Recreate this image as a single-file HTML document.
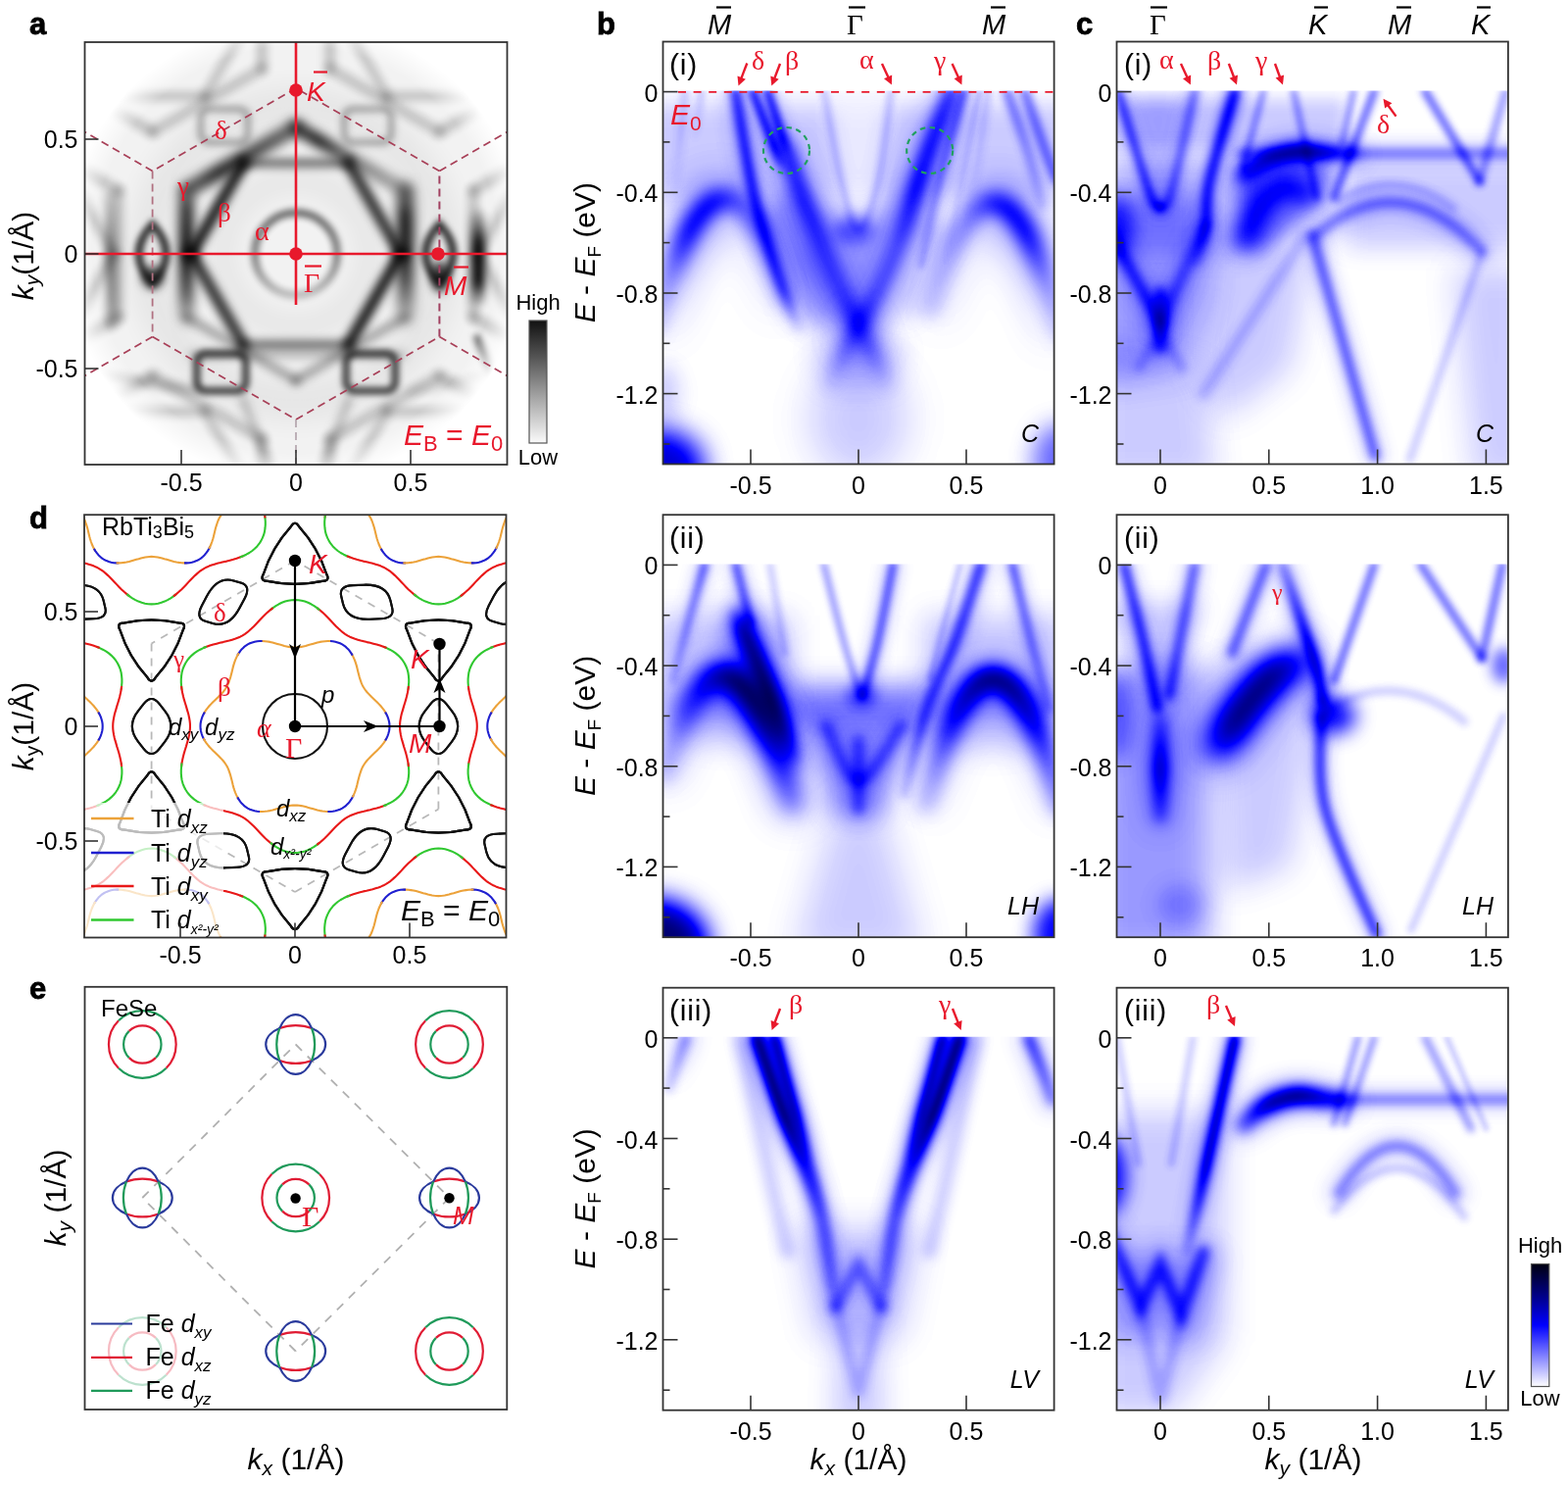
<!DOCTYPE html><html><head><meta charset="utf-8"><style>html,body{margin:0;padding:0;background:#fff;overflow:hidden}svg{display:block}</style></head><body><svg width="1600" height="1515" viewBox="0 0 1600 1515" font-family="'Liberation Sans', Arial, sans-serif"><defs><filter id="cmapBlue" color-interpolation-filters="sRGB" filterUnits="userSpaceOnUse" x="0" y="0" width="1600" height="1515"><feComponentTransfer><feFuncR type="table" tableValues="0 0 1"/><feFuncG type="table" tableValues="0 0 1"/><feFuncB type="table" tableValues="0.05 1 1"/></feComponentTransfer></filter><filter id="g2_5" filterUnits="userSpaceOnUse" x="0" y="0" width="1600" height="1515"><feGaussianBlur stdDeviation="2.5"/></filter><filter id="g3_0" filterUnits="userSpaceOnUse" x="0" y="0" width="1600" height="1515"><feGaussianBlur stdDeviation="3.0"/></filter><filter id="g3_5" filterUnits="userSpaceOnUse" x="0" y="0" width="1600" height="1515"><feGaussianBlur stdDeviation="3.5"/></filter><filter id="g4_0" filterUnits="userSpaceOnUse" x="0" y="0" width="1600" height="1515"><feGaussianBlur stdDeviation="4.0"/></filter><filter id="g4_5" filterUnits="userSpaceOnUse" x="0" y="0" width="1600" height="1515"><feGaussianBlur stdDeviation="4.5"/></filter><filter id="g5_0" filterUnits="userSpaceOnUse" x="0" y="0" width="1600" height="1515"><feGaussianBlur stdDeviation="5.0"/></filter><filter id="g5_5" filterUnits="userSpaceOnUse" x="0" y="0" width="1600" height="1515"><feGaussianBlur stdDeviation="5.5"/></filter><filter id="g6_0" filterUnits="userSpaceOnUse" x="0" y="0" width="1600" height="1515"><feGaussianBlur stdDeviation="6.0"/></filter><filter id="g6_5" filterUnits="userSpaceOnUse" x="0" y="0" width="1600" height="1515"><feGaussianBlur stdDeviation="6.5"/></filter><filter id="g7_0" filterUnits="userSpaceOnUse" x="0" y="0" width="1600" height="1515"><feGaussianBlur stdDeviation="7.0"/></filter><filter id="g8_0" filterUnits="userSpaceOnUse" x="0" y="0" width="1600" height="1515"><feGaussianBlur stdDeviation="8.0"/></filter><filter id="g8_5" filterUnits="userSpaceOnUse" x="0" y="0" width="1600" height="1515"><feGaussianBlur stdDeviation="8.5"/></filter><filter id="g9_0" filterUnits="userSpaceOnUse" x="0" y="0" width="1600" height="1515"><feGaussianBlur stdDeviation="9.0"/></filter><filter id="g9_5" filterUnits="userSpaceOnUse" x="0" y="0" width="1600" height="1515"><feGaussianBlur stdDeviation="9.5"/></filter><filter id="g10_0" filterUnits="userSpaceOnUse" x="0" y="0" width="1600" height="1515"><feGaussianBlur stdDeviation="10.0"/></filter><filter id="g10_5" filterUnits="userSpaceOnUse" x="0" y="0" width="1600" height="1515"><feGaussianBlur stdDeviation="10.5"/></filter><filter id="g11_0" filterUnits="userSpaceOnUse" x="0" y="0" width="1600" height="1515"><feGaussianBlur stdDeviation="11.0"/></filter><filter id="g12_0" filterUnits="userSpaceOnUse" x="0" y="0" width="1600" height="1515"><feGaussianBlur stdDeviation="12.0"/></filter><filter id="g12_5" filterUnits="userSpaceOnUse" x="0" y="0" width="1600" height="1515"><feGaussianBlur stdDeviation="12.5"/></filter><filter id="g13_0" filterUnits="userSpaceOnUse" x="0" y="0" width="1600" height="1515"><feGaussianBlur stdDeviation="13.0"/></filter><filter id="g14_0" filterUnits="userSpaceOnUse" x="0" y="0" width="1600" height="1515"><feGaussianBlur stdDeviation="14.0"/></filter><filter id="g15_0" filterUnits="userSpaceOnUse" x="0" y="0" width="1600" height="1515"><feGaussianBlur stdDeviation="15.0"/></filter><filter id="g16_0" filterUnits="userSpaceOnUse" x="0" y="0" width="1600" height="1515"><feGaussianBlur stdDeviation="16.0"/></filter><filter id="g16_5" filterUnits="userSpaceOnUse" x="0" y="0" width="1600" height="1515"><feGaussianBlur stdDeviation="16.5"/></filter><filter id="g18_0" filterUnits="userSpaceOnUse" x="0" y="0" width="1600" height="1515"><feGaussianBlur stdDeviation="18.0"/></filter><filter id="g18_5" filterUnits="userSpaceOnUse" x="0" y="0" width="1600" height="1515"><feGaussianBlur stdDeviation="18.5"/></filter><filter id="g20_0" filterUnits="userSpaceOnUse" x="0" y="0" width="1600" height="1515"><feGaussianBlur stdDeviation="20.0"/></filter><filter id="g24_0" filterUnits="userSpaceOnUse" x="0" y="0" width="1600" height="1515"><feGaussianBlur stdDeviation="24.0"/></filter><linearGradient id="lg0" gradientUnits="userSpaceOnUse" x1="698.9" y1="93.6" x2="686.8" y2="209.1"><stop offset="0" stop-color="#000" stop-opacity="0.1"/><stop offset="1" stop-color="#000" stop-opacity="0"/></linearGradient><linearGradient id="lg1" gradientUnits="userSpaceOnUse" x1="715.6" y1="93.6" x2="708.8" y2="144.9"><stop offset="0" stop-color="#000" stop-opacity="0.1"/><stop offset="1" stop-color="#000" stop-opacity="0"/></linearGradient><linearGradient id="lg2" gradientUnits="userSpaceOnUse" x1="750.6" y1="93.6" x2="816.6" y2="342.6"><stop offset="0" stop-color="#000" stop-opacity="0.1"/><stop offset="0.4" stop-color="#000" stop-opacity="0.1"/><stop offset="0.8" stop-color="#000" stop-opacity="0.1"/><stop offset="1" stop-color="#000" stop-opacity="0"/></linearGradient><linearGradient id="lg3" gradientUnits="userSpaceOnUse" x1="750.6" y1="93.6" x2="816.6" y2="342.6"><stop offset="0" stop-color="#000" stop-opacity="0.4"/><stop offset="0.4" stop-color="#000" stop-opacity="0.4"/><stop offset="0.8" stop-color="#000" stop-opacity="0.3"/><stop offset="1" stop-color="#000" stop-opacity="0"/></linearGradient><linearGradient id="lg4" gradientUnits="userSpaceOnUse" x1="768.2" y1="93.6" x2="799" y2="175.7"><stop offset="0" stop-color="#000" stop-opacity="0.1"/><stop offset="0.7" stop-color="#000" stop-opacity="0.1"/><stop offset="1" stop-color="#000" stop-opacity="0"/></linearGradient><linearGradient id="lg5" gradientUnits="userSpaceOnUse" x1="768.2" y1="93.6" x2="799" y2="175.7"><stop offset="0" stop-color="#000" stop-opacity="0.4"/><stop offset="0.7" stop-color="#000" stop-opacity="0.4"/><stop offset="1" stop-color="#000" stop-opacity="0"/></linearGradient><linearGradient id="lg6" gradientUnits="userSpaceOnUse" x1="783.6" y1="93.6" x2="805.6" y2="160.3"><stop offset="0" stop-color="#000" stop-opacity="0.1"/><stop offset="0.7" stop-color="#000" stop-opacity="0.1"/><stop offset="1" stop-color="#000" stop-opacity="0"/></linearGradient><linearGradient id="lg7" gradientUnits="userSpaceOnUse" x1="783.6" y1="93.6" x2="805.6" y2="160.3"><stop offset="0" stop-color="#000" stop-opacity="0.4"/><stop offset="0.7" stop-color="#000" stop-opacity="0.4"/><stop offset="1" stop-color="#000" stop-opacity="0"/></linearGradient><linearGradient id="lg8" gradientUnits="userSpaceOnUse" x1="794.6" y1="132.1" x2="909" y2="401.6"><stop offset="0" stop-color="#000" stop-opacity="0"/><stop offset="0.1" stop-color="#000" stop-opacity="0.1"/><stop offset="0.3" stop-color="#000" stop-opacity="0.1"/><stop offset="0.5" stop-color="#000" stop-opacity="0.1"/><stop offset="0.7" stop-color="#000" stop-opacity="0.1"/><stop offset="0.8" stop-color="#000" stop-opacity="0.1"/><stop offset="0.9" stop-color="#000" stop-opacity="0"/><stop offset="1" stop-color="#000" stop-opacity="0"/></linearGradient><linearGradient id="lg9" gradientUnits="userSpaceOnUse" x1="794.6" y1="132.1" x2="909" y2="401.6"><stop offset="0" stop-color="#000" stop-opacity="0"/><stop offset="0.1" stop-color="#000" stop-opacity="0.4"/><stop offset="0.3" stop-color="#000" stop-opacity="0.3"/><stop offset="0.5" stop-color="#000" stop-opacity="0.2"/><stop offset="0.7" stop-color="#000" stop-opacity="0.2"/><stop offset="0.8" stop-color="#000" stop-opacity="0.2"/><stop offset="0.9" stop-color="#000" stop-opacity="0.1"/><stop offset="1" stop-color="#000" stop-opacity="0"/></linearGradient><linearGradient id="lg10" gradientUnits="userSpaceOnUse" x1="970.6" y1="93.6" x2="843" y2="401.6"><stop offset="0" stop-color="#000" stop-opacity="0.1"/><stop offset="0.3" stop-color="#000" stop-opacity="0.2"/><stop offset="0.5" stop-color="#000" stop-opacity="0.1"/><stop offset="0.6" stop-color="#000" stop-opacity="0.1"/><stop offset="0.8" stop-color="#000" stop-opacity="0.1"/><stop offset="0.9" stop-color="#000" stop-opacity="0"/><stop offset="1" stop-color="#000" stop-opacity="0"/></linearGradient><linearGradient id="lg11" gradientUnits="userSpaceOnUse" x1="970.6" y1="93.6" x2="843" y2="401.6"><stop offset="0" stop-color="#000" stop-opacity="0.4"/><stop offset="0.3" stop-color="#000" stop-opacity="0.4"/><stop offset="0.5" stop-color="#000" stop-opacity="0.2"/><stop offset="0.6" stop-color="#000" stop-opacity="0.2"/><stop offset="0.8" stop-color="#000" stop-opacity="0.2"/><stop offset="0.9" stop-color="#000" stop-opacity="0.1"/><stop offset="1" stop-color="#000" stop-opacity="0"/></linearGradient><linearGradient id="lg12" gradientUnits="userSpaceOnUse" x1="983.8" y1="93.6" x2="939.8" y2="270.7"><stop offset="0" stop-color="#000" stop-opacity="0.1"/><stop offset="1" stop-color="#000" stop-opacity="0"/></linearGradient><linearGradient id="lg13" gradientUnits="userSpaceOnUse" x1="983.8" y1="93.6" x2="939.8" y2="270.7"><stop offset="0" stop-color="#000" stop-opacity="0.2"/><stop offset="1" stop-color="#000" stop-opacity="0.1"/></linearGradient><linearGradient id="lg14" gradientUnits="userSpaceOnUse" x1="999.2" y1="93.6" x2="964" y2="273.3"><stop offset="0" stop-color="#000" stop-opacity="0.1"/><stop offset="1" stop-color="#000" stop-opacity="0"/></linearGradient><linearGradient id="lg15" gradientUnits="userSpaceOnUse" x1="667" y1="334.1" x2="803.4" y2="304.2"><stop offset="0" stop-color="#000" stop-opacity="0"/><stop offset="0.2" stop-color="#000" stop-opacity="0.1"/><stop offset="0.4" stop-color="#000" stop-opacity="0.2"/><stop offset="0.6" stop-color="#000" stop-opacity="0.2"/><stop offset="0.8" stop-color="#000" stop-opacity="0.1"/><stop offset="1" stop-color="#000" stop-opacity="0"/></linearGradient><linearGradient id="lg16" gradientUnits="userSpaceOnUse" x1="667" y1="334.1" x2="803.4" y2="304.2"><stop offset="0" stop-color="#000" stop-opacity="0.1"/><stop offset="0.2" stop-color="#000" stop-opacity="0.2"/><stop offset="0.4" stop-color="#000" stop-opacity="0.5"/><stop offset="0.6" stop-color="#000" stop-opacity="0.5"/><stop offset="0.8" stop-color="#000" stop-opacity="0.3"/><stop offset="1" stop-color="#000" stop-opacity="0.1"/></linearGradient><linearGradient id="lg17" gradientUnits="userSpaceOnUse" x1="948.6" y1="314.5" x2="1085" y2="341"><stop offset="0" stop-color="#000" stop-opacity="0"/><stop offset="0.2" stop-color="#000" stop-opacity="0.1"/><stop offset="0.4" stop-color="#000" stop-opacity="0.2"/><stop offset="0.6" stop-color="#000" stop-opacity="0.2"/><stop offset="0.8" stop-color="#000" stop-opacity="0.1"/><stop offset="1" stop-color="#000" stop-opacity="0"/></linearGradient><linearGradient id="lg18" gradientUnits="userSpaceOnUse" x1="948.6" y1="314.5" x2="1085" y2="341"><stop offset="0" stop-color="#000" stop-opacity="0.1"/><stop offset="0.2" stop-color="#000" stop-opacity="0.3"/><stop offset="0.4" stop-color="#000" stop-opacity="0.5"/><stop offset="0.6" stop-color="#000" stop-opacity="0.5"/><stop offset="0.8" stop-color="#000" stop-opacity="0.2"/><stop offset="1" stop-color="#000" stop-opacity="0.1"/></linearGradient><linearGradient id="lg19" gradientUnits="userSpaceOnUse" x1="1027.8" y1="93.6" x2="1063" y2="209.1"><stop offset="0" stop-color="#000" stop-opacity="0.3"/><stop offset="1" stop-color="#000" stop-opacity="0.1"/></linearGradient><linearGradient id="lg20" gradientUnits="userSpaceOnUse" x1="1008" y1="93.6" x2="986" y2="221.9"><stop offset="0" stop-color="#000" stop-opacity="0.1"/><stop offset="1" stop-color="#000" stop-opacity="0"/></linearGradient><linearGradient id="lg21" gradientUnits="userSpaceOnUse" x1="718.9" y1="576.4" x2="686.8" y2="694.5"><stop offset="0" stop-color="#000" stop-opacity="0.1"/><stop offset="1" stop-color="#000" stop-opacity="0"/></linearGradient><linearGradient id="lg22" gradientUnits="userSpaceOnUse" x1="718.9" y1="576.4" x2="686.8" y2="694.5"><stop offset="0" stop-color="#000" stop-opacity="0.3"/><stop offset="1" stop-color="#000" stop-opacity="0.1"/></linearGradient><linearGradient id="lg23" gradientUnits="userSpaceOnUse" x1="752.8" y1="627.7" x2="810" y2="771.5"><stop offset="0" stop-color="#000" stop-opacity="0.1"/><stop offset="0.1" stop-color="#000" stop-opacity="0.3"/><stop offset="0.6" stop-color="#000" stop-opacity="0.3"/><stop offset="0.8" stop-color="#000" stop-opacity="0.2"/><stop offset="1" stop-color="#000" stop-opacity="0.1"/></linearGradient><linearGradient id="lg24" gradientUnits="userSpaceOnUse" x1="752.8" y1="627.7" x2="810" y2="771.5"><stop offset="0" stop-color="#000" stop-opacity="0.3"/><stop offset="0.1" stop-color="#000" stop-opacity="0.7"/><stop offset="0.6" stop-color="#000" stop-opacity="0.8"/><stop offset="0.8" stop-color="#000" stop-opacity="0.6"/><stop offset="1" stop-color="#000" stop-opacity="0.2"/></linearGradient><linearGradient id="lg25" gradientUnits="userSpaceOnUse" x1="673.6" y1="787.3" x2="810" y2="819.5"><stop offset="0" stop-color="#000" stop-opacity="0"/><stop offset="0.2" stop-color="#000" stop-opacity="0.2"/><stop offset="0.4" stop-color="#000" stop-opacity="0.3"/><stop offset="0.6" stop-color="#000" stop-opacity="0.3"/><stop offset="0.8" stop-color="#000" stop-opacity="0.2"/><stop offset="1" stop-color="#000" stop-opacity="0.1"/></linearGradient><linearGradient id="lg26" gradientUnits="userSpaceOnUse" x1="673.6" y1="787.3" x2="810" y2="819.5"><stop offset="0" stop-color="#000" stop-opacity="0.1"/><stop offset="0.2" stop-color="#000" stop-opacity="0.6"/><stop offset="0.4" stop-color="#000" stop-opacity="0.9"/><stop offset="0.6" stop-color="#000" stop-opacity="0.8"/><stop offset="0.8" stop-color="#000" stop-opacity="0.5"/><stop offset="1" stop-color="#000" stop-opacity="0.2"/></linearGradient><linearGradient id="lg27" gradientUnits="userSpaceOnUse" x1="942" y1="820.5" x2="1085" y2="823.7"><stop offset="0" stop-color="#000" stop-opacity="0"/><stop offset="0.2" stop-color="#000" stop-opacity="0.1"/><stop offset="0.4" stop-color="#000" stop-opacity="0.2"/><stop offset="0.6" stop-color="#000" stop-opacity="0.2"/><stop offset="0.8" stop-color="#000" stop-opacity="0.1"/><stop offset="1" stop-color="#000" stop-opacity="0"/></linearGradient><linearGradient id="lg28" gradientUnits="userSpaceOnUse" x1="942" y1="820.5" x2="1085" y2="823.7"><stop offset="0" stop-color="#000" stop-opacity="0.1"/><stop offset="0.2" stop-color="#000" stop-opacity="0.5"/><stop offset="0.4" stop-color="#000" stop-opacity="0.8"/><stop offset="0.6" stop-color="#000" stop-opacity="0.8"/><stop offset="0.8" stop-color="#000" stop-opacity="0.5"/><stop offset="1" stop-color="#000" stop-opacity="0.2"/></linearGradient><linearGradient id="lg29" gradientUnits="userSpaceOnUse" x1="1001" y1="576.4" x2="923.1" y2="810"><stop offset="0" stop-color="#000" stop-opacity="0.1"/><stop offset="0.7" stop-color="#000" stop-opacity="0.1"/><stop offset="1" stop-color="#000" stop-opacity="0"/></linearGradient><linearGradient id="lg30" gradientUnits="userSpaceOnUse" x1="1001" y1="576.4" x2="923.1" y2="810"><stop offset="0" stop-color="#000" stop-opacity="0.4"/><stop offset="0.7" stop-color="#000" stop-opacity="0.3"/><stop offset="1" stop-color="#000" stop-opacity="0.1"/></linearGradient><linearGradient id="lg31" gradientUnits="userSpaceOnUse" x1="1033.1" y1="576.4" x2="1070.9" y2="722.7"><stop offset="0" stop-color="#000" stop-opacity="0.1"/><stop offset="1" stop-color="#000" stop-opacity="0.1"/></linearGradient><linearGradient id="lg32" gradientUnits="userSpaceOnUse" x1="1033.1" y1="576.4" x2="1070.9" y2="722.7"><stop offset="0" stop-color="#000" stop-opacity="0.3"/><stop offset="1" stop-color="#000" stop-opacity="0.1"/></linearGradient><linearGradient id="lg33" gradientUnits="userSpaceOnUse" x1="772.6" y1="1058.8" x2="852.9" y2="1333.5"><stop offset="0" stop-color="#000" stop-opacity="0.3"/><stop offset="0.3" stop-color="#000" stop-opacity="0.3"/><stop offset="0.5" stop-color="#000" stop-opacity="0.1"/><stop offset="0.7" stop-color="#000" stop-opacity="0.1"/><stop offset="0.9" stop-color="#000" stop-opacity="0.1"/><stop offset="1" stop-color="#000" stop-opacity="0"/></linearGradient><linearGradient id="lg34" gradientUnits="userSpaceOnUse" x1="772.6" y1="1058.8" x2="852.9" y2="1333.5"><stop offset="0" stop-color="#000" stop-opacity="0.8"/><stop offset="0.3" stop-color="#000" stop-opacity="0.8"/><stop offset="0.5" stop-color="#000" stop-opacity="0.4"/><stop offset="0.7" stop-color="#000" stop-opacity="0.2"/><stop offset="0.9" stop-color="#000" stop-opacity="0.2"/><stop offset="1" stop-color="#000" stop-opacity="0.1"/></linearGradient><linearGradient id="lg35" gradientUnits="userSpaceOnUse" x1="790.2" y1="1058.8" x2="854" y2="1315.5"><stop offset="0" stop-color="#000" stop-opacity="0.2"/><stop offset="0.3" stop-color="#000" stop-opacity="0.2"/><stop offset="0.5" stop-color="#000" stop-opacity="0.1"/><stop offset="1" stop-color="#000" stop-opacity="0"/></linearGradient><linearGradient id="lg36" gradientUnits="userSpaceOnUse" x1="790.2" y1="1058.8" x2="854" y2="1315.5"><stop offset="0" stop-color="#000" stop-opacity="0.7"/><stop offset="0.3" stop-color="#000" stop-opacity="0.6"/><stop offset="0.5" stop-color="#000" stop-opacity="0.3"/><stop offset="1" stop-color="#000" stop-opacity="0"/></linearGradient><linearGradient id="lg37" gradientUnits="userSpaceOnUse" x1="979.4" y1="1058.8" x2="899.1" y2="1333.5"><stop offset="0" stop-color="#000" stop-opacity="0.3"/><stop offset="0.3" stop-color="#000" stop-opacity="0.3"/><stop offset="0.5" stop-color="#000" stop-opacity="0.1"/><stop offset="0.7" stop-color="#000" stop-opacity="0.1"/><stop offset="0.9" stop-color="#000" stop-opacity="0.1"/><stop offset="1" stop-color="#000" stop-opacity="0"/></linearGradient><linearGradient id="lg38" gradientUnits="userSpaceOnUse" x1="979.4" y1="1058.8" x2="899.1" y2="1333.5"><stop offset="0" stop-color="#000" stop-opacity="0.8"/><stop offset="0.3" stop-color="#000" stop-opacity="0.8"/><stop offset="0.5" stop-color="#000" stop-opacity="0.4"/><stop offset="0.7" stop-color="#000" stop-opacity="0.2"/><stop offset="0.9" stop-color="#000" stop-opacity="0.2"/><stop offset="1" stop-color="#000" stop-opacity="0.1"/></linearGradient><linearGradient id="lg39" gradientUnits="userSpaceOnUse" x1="961.8" y1="1058.8" x2="898" y2="1315.5"><stop offset="0" stop-color="#000" stop-opacity="0.2"/><stop offset="0.3" stop-color="#000" stop-opacity="0.2"/><stop offset="0.5" stop-color="#000" stop-opacity="0.1"/><stop offset="1" stop-color="#000" stop-opacity="0"/></linearGradient><linearGradient id="lg40" gradientUnits="userSpaceOnUse" x1="961.8" y1="1058.8" x2="898" y2="1315.5"><stop offset="0" stop-color="#000" stop-opacity="0.7"/><stop offset="0.3" stop-color="#000" stop-opacity="0.6"/><stop offset="0.5" stop-color="#000" stop-opacity="0.3"/><stop offset="1" stop-color="#000" stop-opacity="0"/></linearGradient><linearGradient id="lg41" gradientUnits="userSpaceOnUse" x1="700" y1="1058.8" x2="682.4" y2="1110.1"><stop offset="0" stop-color="#000" stop-opacity="0.1"/><stop offset="1" stop-color="#000" stop-opacity="0"/></linearGradient><linearGradient id="lg42" gradientUnits="userSpaceOnUse" x1="700" y1="1058.8" x2="682.4" y2="1110.1"><stop offset="0" stop-color="#000" stop-opacity="0.2"/><stop offset="1" stop-color="#000" stop-opacity="0.1"/></linearGradient><linearGradient id="lg43" gradientUnits="userSpaceOnUse" x1="1049.8" y1="1058.8" x2="1074" y2="1123"><stop offset="0" stop-color="#000" stop-opacity="0.1"/><stop offset="1" stop-color="#000" stop-opacity="0.1"/></linearGradient><linearGradient id="lg44" gradientUnits="userSpaceOnUse" x1="1049.8" y1="1058.8" x2="1074" y2="1123"><stop offset="0" stop-color="#000" stop-opacity="0.4"/><stop offset="1" stop-color="#000" stop-opacity="0.2"/></linearGradient><linearGradient id="lg45" gradientUnits="userSpaceOnUse" x1="1260" y1="93.6" x2="1221.7" y2="268.2"><stop offset="0" stop-color="#000" stop-opacity="0.2"/><stop offset="0.7" stop-color="#000" stop-opacity="0.1"/><stop offset="1" stop-color="#000" stop-opacity="0"/></linearGradient><linearGradient id="lg46" gradientUnits="userSpaceOnUse" x1="1260" y1="93.6" x2="1221.7" y2="268.2"><stop offset="0" stop-color="#000" stop-opacity="0.5"/><stop offset="0.7" stop-color="#000" stop-opacity="0.4"/><stop offset="1" stop-color="#000" stop-opacity="0.1"/></linearGradient><linearGradient id="lg47" gradientUnits="userSpaceOnUse" x1="1268.2" y1="178.3" x2="1381.2" y2="156.5"><stop offset="0" stop-color="#000" stop-opacity="0.1"/><stop offset="0.3" stop-color="#000" stop-opacity="0.2"/><stop offset="0.6" stop-color="#000" stop-opacity="0.2"/><stop offset="0.8" stop-color="#000" stop-opacity="0.1"/><stop offset="1" stop-color="#000" stop-opacity="0.1"/></linearGradient><linearGradient id="lg48" gradientUnits="userSpaceOnUse" x1="1268.2" y1="178.3" x2="1381.2" y2="156.5"><stop offset="0" stop-color="#000" stop-opacity="0.3"/><stop offset="0.3" stop-color="#000" stop-opacity="0.5"/><stop offset="0.6" stop-color="#000" stop-opacity="0.6"/><stop offset="0.8" stop-color="#000" stop-opacity="0.4"/><stop offset="1" stop-color="#000" stop-opacity="0.2"/></linearGradient><linearGradient id="lg49" gradientUnits="userSpaceOnUse" x1="1268.2" y1="242.5" x2="1343.6" y2="201.4"><stop offset="0" stop-color="#000" stop-opacity="0.1"/><stop offset="0.4" stop-color="#000" stop-opacity="0.1"/><stop offset="0.8" stop-color="#000" stop-opacity="0.1"/><stop offset="1" stop-color="#000" stop-opacity="0.1"/></linearGradient><linearGradient id="lg50" gradientUnits="userSpaceOnUse" x1="1268.2" y1="242.5" x2="1343.6" y2="201.4"><stop offset="0" stop-color="#000" stop-opacity="0.2"/><stop offset="0.4" stop-color="#000" stop-opacity="0.3"/><stop offset="0.8" stop-color="#000" stop-opacity="0.3"/><stop offset="1" stop-color="#000" stop-opacity="0.1"/></linearGradient><linearGradient id="lg51" gradientUnits="userSpaceOnUse" x1="1184" y1="735.6" x2="1184" y2="833.1"><stop offset="0" stop-color="#000" stop-opacity="0.1"/><stop offset="0.5" stop-color="#000" stop-opacity="0.2"/><stop offset="1" stop-color="#000" stop-opacity="0.1"/></linearGradient><linearGradient id="lg52" gradientUnits="userSpaceOnUse" x1="1184" y1="735.6" x2="1184" y2="833.1"><stop offset="0" stop-color="#000" stop-opacity="0.2"/><stop offset="0.5" stop-color="#000" stop-opacity="0.5"/><stop offset="1" stop-color="#000" stop-opacity="0.2"/></linearGradient><linearGradient id="lg53" gradientUnits="userSpaceOnUse" x1="1243.8" y1="761.2" x2="1321.4" y2="676.5"><stop offset="0" stop-color="#000" stop-opacity="0.2"/><stop offset="0.2" stop-color="#000" stop-opacity="0.3"/><stop offset="0.8" stop-color="#000" stop-opacity="0.3"/><stop offset="1" stop-color="#000" stop-opacity="0.2"/></linearGradient><linearGradient id="lg54" gradientUnits="userSpaceOnUse" x1="1243.8" y1="761.2" x2="1321.4" y2="676.5"><stop offset="0" stop-color="#000" stop-opacity="0.4"/><stop offset="0.2" stop-color="#000" stop-opacity="0.8"/><stop offset="0.8" stop-color="#000" stop-opacity="0.8"/><stop offset="1" stop-color="#000" stop-opacity="0.5"/></linearGradient><linearGradient id="lg55" gradientUnits="userSpaceOnUse" x1="1309" y1="576.4" x2="1350.2" y2="717.6"><stop offset="0" stop-color="#000" stop-opacity="0.1"/><stop offset="0.5" stop-color="#000" stop-opacity="0.2"/><stop offset="1" stop-color="#000" stop-opacity="0.2"/></linearGradient><linearGradient id="lg56" gradientUnits="userSpaceOnUse" x1="1309" y1="576.4" x2="1350.2" y2="717.6"><stop offset="0" stop-color="#000" stop-opacity="0.2"/><stop offset="0.5" stop-color="#000" stop-opacity="0.5"/><stop offset="1" stop-color="#000" stop-opacity="0.5"/></linearGradient><linearGradient id="lg57" gradientUnits="userSpaceOnUse" x1="1260" y1="1058.8" x2="1210.6" y2="1277"><stop offset="0" stop-color="#000" stop-opacity="0.2"/><stop offset="0.6" stop-color="#000" stop-opacity="0.2"/><stop offset="1" stop-color="#000" stop-opacity="0"/></linearGradient><linearGradient id="lg58" gradientUnits="userSpaceOnUse" x1="1260" y1="1058.8" x2="1210.6" y2="1277"><stop offset="0" stop-color="#000" stop-opacity="0.7"/><stop offset="0.6" stop-color="#000" stop-opacity="0.6"/><stop offset="1" stop-color="#000" stop-opacity="0.1"/></linearGradient><linearGradient id="lg59" gradientUnits="userSpaceOnUse" x1="1268.2" y1="1148.6" x2="1372.4" y2="1123"><stop offset="0" stop-color="#000" stop-opacity="0.1"/><stop offset="0.3" stop-color="#000" stop-opacity="0.3"/><stop offset="0.6" stop-color="#000" stop-opacity="0.3"/><stop offset="0.8" stop-color="#000" stop-opacity="0.2"/><stop offset="1" stop-color="#000" stop-opacity="0.1"/></linearGradient><linearGradient id="lg60" gradientUnits="userSpaceOnUse" x1="1268.2" y1="1148.6" x2="1372.4" y2="1123"><stop offset="0" stop-color="#000" stop-opacity="0.3"/><stop offset="0.3" stop-color="#000" stop-opacity="0.7"/><stop offset="0.6" stop-color="#000" stop-opacity="0.8"/><stop offset="0.8" stop-color="#000" stop-opacity="0.6"/><stop offset="1" stop-color="#000" stop-opacity="0.3"/></linearGradient></defs><clipPath id="clip_b1"><rect x="676.5" y="92.6" width="399.1" height="380.9"/></clipPath><g clip-path="url(#clip_b1)"><g filter="url(#cmapBlue)"><rect x="646.5" y="63.6" width="459.1" height="439.9" fill="#fff"/><rect x="656.5" y="93.6" width="439.1" height="399.9" fill-opacity="0"/><path d="M656 106.4 L1096 106.4 L1096 201.4 L656 201.4 Z" fill="#000" fill-opacity="0.1" filter="url(#g12_0)"/><path d="M845.2 98.7 L906.8 98.7 L887 209.1 L865 209.1 Z" fill="#fff" fill-opacity="0.6" filter="url(#g10_0)"/><path d="M796.8 183.4 L865 221.9 L887 221.9 L942 183.4 L924.4 247.6 L887 337.5 L865 337.5 L821 273.3 Z" fill="#000" fill-opacity="0.2" filter="url(#g12_0)"/><path d="M766 221.9 L805.6 196.3 L858.4 324.6 L827.6 337.5 Z" fill="#000" fill-opacity="0.2" filter="url(#g12_0)"/><path d="M975 234.8 L937.6 209.1 L898 324.6 L931 324.6 Z" fill="#000" fill-opacity="0.1" filter="url(#g12_0)"/><ellipse cx="876" cy="427.3" rx="50" ry="60" fill-opacity="0.1" filter="url(#g20_0)"/><ellipse cx="673.6" cy="478.6" rx="45" ry="40" fill-opacity="0.6" filter="url(#g14_0)"/><ellipse cx="678" cy="401.6" rx="15" ry="30" fill-opacity="0.1" filter="url(#g10_0)"/><ellipse cx="1080.6" cy="470.9" rx="26" ry="38" fill-opacity="0.3" filter="url(#g12_0)"/><path d="M678 156.5 L1074 156.5" fill="none" stroke="#000" stroke-opacity="0" stroke-width="10" stroke-linecap="round" filter="url(#g4_0)"/><path d="M698.9 93.6 C697.6 106.4 693.2 151.4 691.2 170.6 C689.2 189.9 687.5 202.7 686.8 209.1" fill="none" stroke="url(#lg0)" stroke-width="8" stroke-linecap="round" filter="url(#g3_5)"/><path d="M715.6 93.6 L708.8 144.9" fill="none" stroke="url(#lg1)" stroke-width="7" stroke-linecap="round" filter="url(#g3_0)"/><path d="M750.6 93.6 C753.5 110.3 761.6 164.2 768.2 193.7 C774.8 223.2 782.1 245.9 790.2 270.7 C798.3 295.5 812.2 330.6 816.6 342.6" fill="none" stroke="url(#lg2)" stroke-width="22" stroke-linecap="round" filter="url(#g9_0)"/><path d="M750.6 93.6 C753.5 110.3 761.6 164.2 768.2 193.7 C774.8 223.2 782.1 245.9 790.2 270.7 C798.3 295.5 812.2 330.6 816.6 342.6" fill="none" stroke="url(#lg3)" stroke-width="10" stroke-linecap="round" filter="url(#g4_5)"/><path d="M768.2 93.6 C771.5 102.2 782.9 131.2 788 144.9 C793.1 158.6 797.2 170.6 799 175.7" fill="none" stroke="url(#lg4)" stroke-width="17.6" stroke-linecap="round" filter="url(#g7_0)"/><path d="M768.2 93.6 C771.5 102.2 782.9 131.2 788 144.9 C793.1 158.6 797.2 170.6 799 175.7" fill="none" stroke="url(#lg5)" stroke-width="8" stroke-linecap="round" filter="url(#g3_5)"/><path d="M783.6 93.6 C785.8 100.4 793.1 123.5 796.8 134.7 C800.5 145.8 804.1 156.1 805.6 160.3" fill="none" stroke="url(#lg6)" stroke-width="17.6" stroke-linecap="round" filter="url(#g7_0)"/><path d="M783.6 93.6 C785.8 100.4 793.1 123.5 796.8 134.7 C800.5 145.8 804.1 156.1 805.6 160.3" fill="none" stroke="url(#lg7)" stroke-width="8" stroke-linecap="round" filter="url(#g3_5)"/><path d="M794.6 132.1 C798.3 142.4 810.4 177 816.6 193.7 C822.8 210.4 825.8 216.8 832 232.2 C838.2 247.6 846.7 269.4 854 286.1 C861.3 302.8 869 318.2 876 332.3 C883 346.4 890.3 359.3 895.8 370.8 C901.3 382.4 906.8 396.5 909 401.6" fill="none" stroke="url(#lg8)" stroke-width="35.2" stroke-linecap="round" filter="url(#g14_0)"/><path d="M794.6 132.1 C798.3 142.4 810.4 177 816.6 193.7 C822.8 210.4 825.8 216.8 832 232.2 C838.2 247.6 846.7 269.4 854 286.1 C861.3 302.8 869 318.2 876 332.3 C883 346.4 890.3 359.3 895.8 370.8 C901.3 382.4 906.8 396.5 909 401.6" fill="none" stroke="url(#lg9)" stroke-width="16" stroke-linecap="round" filter="url(#g7_0)"/><path d="M970.6 93.6 C967.3 102.2 956.3 130 950.8 144.9 C945.3 159.9 942.4 168.5 937.6 183.4 C932.8 198.4 928.8 216.4 922.2 234.8 C915.6 253.2 905.7 277.6 898 293.8 C890.3 310.1 883 319.5 876 332.3 C869 345.2 861.7 359.3 856.2 370.8 C850.7 382.4 845.2 396.5 843 401.6" fill="none" stroke="url(#lg10)" stroke-width="33" stroke-linecap="round" filter="url(#g13_0)"/><path d="M970.6 93.6 C967.3 102.2 956.3 130 950.8 144.9 C945.3 159.9 942.4 168.5 937.6 183.4 C932.8 198.4 928.8 216.4 922.2 234.8 C915.6 253.2 905.7 277.6 898 293.8 C890.3 310.1 883 319.5 876 332.3 C869 345.2 861.7 359.3 856.2 370.8 C850.7 382.4 845.2 396.5 843 401.6" fill="none" stroke="url(#lg11)" stroke-width="15" stroke-linecap="round" filter="url(#g6_5)"/><path d="M983.8 93.6 C979.8 108.1 966.9 151.4 959.6 180.9 C952.3 210.4 943.1 255.7 939.8 270.7" fill="none" stroke="url(#lg12)" stroke-width="15.4" stroke-linecap="round" filter="url(#g6_0)"/><path d="M983.8 93.6 C979.8 108.1 966.9 151.4 959.6 180.9 C952.3 210.4 943.1 255.7 939.8 270.7" fill="none" stroke="url(#lg13)" stroke-width="7" stroke-linecap="round" filter="url(#g3_0)"/><path d="M999.2 93.6 C996.3 108.6 987.5 153.5 981.6 183.4 C975.7 213.4 966.9 258.3 964 273.3" fill="none" stroke="url(#lg14)" stroke-width="6" stroke-linecap="round" filter="url(#g2_5)"/><path d="M841.2 93.6 C844.1 108.8 852.8 161.5 858.6 185 C864.4 208.5 869.7 235 876 234.8 C882.3 234.5 891 207 896.5 183.4 C902 159.9 906.9 108.6 909 93.6" fill="none" stroke="#000" stroke-opacity="0.1" stroke-width="7" stroke-linecap="round" filter="url(#g3_0)"/><ellipse cx="871.6" cy="234.8" rx="20" ry="14" fill-opacity="0.2" filter="url(#g7_0)"/><path d="M667 334.1 C668.6 328.6 673.5 311.4 676.7 301.2 C680 291 683.2 281.6 686.5 273 C689.7 264.4 693 256.6 696.2 249.6 C699.5 242.6 702.7 236.3 706 230.9 C709.2 225.4 712.5 220.8 715.7 216.9 C719 213.1 722.2 210 725.5 207.7 C728.7 205.4 732 203.9 735.2 203.2 C738.4 202.5 741.7 202.5 744.9 203.4 C748.2 204.3 751.4 205.9 754.7 208.4 C757.9 210.8 761.2 214 764.4 218.1 C767.7 222.1 770.9 226.9 774.2 232.5 C777.4 238.1 780.7 244.5 783.9 251.6 C787.2 258.8 790.4 266.8 793.7 275.5 C796.9 284.3 801.8 299.4 803.4 304.2" fill="none" stroke="url(#lg15)" stroke-width="46" stroke-linecap="round" filter="url(#g18_5)"/><path d="M667 334.1 C668.6 328.6 673.5 311.4 676.7 301.2 C680 291 683.2 281.6 686.5 273 C689.7 264.4 693 256.6 696.2 249.6 C699.5 242.6 702.7 236.3 706 230.9 C709.2 225.4 712.5 220.8 715.7 216.9 C719 213.1 722.2 210 725.5 207.7 C728.7 205.4 732 203.9 735.2 203.2 C738.4 202.5 741.7 202.5 744.9 203.4 C748.2 204.3 751.4 205.9 754.7 208.4 C757.9 210.8 761.2 214 764.4 218.1 C767.7 222.1 770.9 226.9 774.2 232.5 C777.4 238.1 780.7 244.5 783.9 251.6 C787.2 258.8 790.4 266.8 793.7 275.5 C796.9 284.3 801.8 299.4 803.4 304.2" fill="none" stroke="url(#lg16)" stroke-width="20" stroke-linecap="round" filter="url(#g8_5)"/><path d="M948.6 314.5 C950.2 309.5 955.1 293.6 958.3 284.4 C961.6 275.1 964.8 266.7 968.1 259.1 C971.3 251.5 974.6 244.8 977.8 238.8 C981.1 232.9 984.3 227.7 987.6 223.4 C990.8 219.1 994.1 215.6 997.3 213 C1000.6 210.3 1003.8 208.5 1007.1 207.5 C1010.3 206.5 1013.6 206.3 1016.8 206.9 C1020 207.5 1023.3 209 1026.5 211.3 C1029.8 213.5 1033 216.6 1036.3 220.6 C1039.5 224.5 1042.8 229.2 1046 234.8 C1049.3 240.4 1052.5 246.7 1055.8 254 C1059 261.2 1062.3 269.2 1065.5 278.1 C1068.8 286.9 1072 296.6 1075.3 307.1 C1078.5 317.6 1083.4 335.4 1085 341" fill="none" stroke="url(#lg17)" stroke-width="46" stroke-linecap="round" filter="url(#g18_5)"/><path d="M948.6 314.5 C950.2 309.5 955.1 293.6 958.3 284.4 C961.6 275.1 964.8 266.7 968.1 259.1 C971.3 251.5 974.6 244.8 977.8 238.8 C981.1 232.9 984.3 227.7 987.6 223.4 C990.8 219.1 994.1 215.6 997.3 213 C1000.6 210.3 1003.8 208.5 1007.1 207.5 C1010.3 206.5 1013.6 206.3 1016.8 206.9 C1020 207.5 1023.3 209 1026.5 211.3 C1029.8 213.5 1033 216.6 1036.3 220.6 C1039.5 224.5 1042.8 229.2 1046 234.8 C1049.3 240.4 1052.5 246.7 1055.8 254 C1059 261.2 1062.3 269.2 1065.5 278.1 C1068.8 286.9 1072 296.6 1075.3 307.1 C1078.5 317.6 1083.4 335.4 1085 341" fill="none" stroke="url(#lg18)" stroke-width="20" stroke-linecap="round" filter="url(#g8_5)"/><path d="M1027.8 93.6 C1031.5 104.3 1043.9 138.5 1049.8 157.8 C1055.7 177 1060.8 200.6 1063 209.1" fill="none" stroke="url(#lg19)" stroke-width="9" stroke-linecap="round" filter="url(#g4_0)"/><path d="M1045.4 93.6 C1048.7 103 1059.7 135.1 1065.2 150.1 C1070.7 165 1076.2 177.9 1078.4 183.4" fill="none" stroke="#000" stroke-opacity="0.3" stroke-width="9" stroke-linecap="round" filter="url(#g4_0)"/><path d="M1008 93.6 C1006.2 106.4 1000.7 149.2 997 170.6 C993.3 192 987.8 213.4 986 221.9" fill="none" stroke="url(#lg20)" stroke-width="8" stroke-linecap="round" filter="url(#g3_5)"/><ellipse cx="876" cy="342.6" rx="26" ry="30" fill-opacity="0.1" filter="url(#g12_0)"/><path d="M827.6 350.3 L924.4 350.3 L911.2 396.5 L840.8 396.5 Z" fill="#000" fill-opacity="0.1" filter="url(#g12_0)"/></g></g><clipPath id="clip_b2"><rect x="676.5" y="575.4" width="399.1" height="380.8"/></clipPath><g clip-path="url(#clip_b2)"><g filter="url(#cmapBlue)"><rect x="646.5" y="546.4" width="459.1" height="439.8" fill="#fff"/><rect x="656.5" y="576.4" width="439.1" height="399.8" fill-opacity="0"/><path d="M656 627.7 L810 627.7 L810 730.4 L656 730.4 Z" fill="#000" fill-opacity="0.1" filter="url(#g14_0)"/><path d="M1096 627.7 L942 627.7 L942 730.4 L1096 730.4 Z" fill="#000" fill-opacity="0.1" filter="url(#g14_0)"/><path d="M810 691.9 L953 691.9 L942 743.3 L810 743.3 Z" fill="#000" fill-opacity="0.1" filter="url(#g12_0)"/><path d="M810 704.8 L942 704.8 L902.4 833.1 L849.6 833.1 Z" fill="#000" fill-opacity="0.2" filter="url(#g12_0)"/><path d="M854 820.3 L898 820.3 L942 974.3 L810 974.3 Z" fill="#000" fill-opacity="0.1" filter="url(#g18_0)"/><ellipse cx="744" cy="730.4" rx="70" ry="30" fill-opacity="0.1" filter="url(#g14_0)"/><ellipse cx="1012.4" cy="735.6" rx="70" ry="30" fill-opacity="0.1" filter="url(#g14_0)"/><ellipse cx="667" cy="966.6" rx="55" ry="48" fill-opacity="0.8" filter="url(#g14_0)"/><ellipse cx="1080.6" cy="953.7" rx="26" ry="36" fill-opacity="0.5" filter="url(#g10_0)"/><path d="M718.9 576.4 C716.1 586.2 707.6 615.8 702.2 635.4 C696.8 655.1 689.4 684.6 686.8 694.5" fill="none" stroke="url(#lg21)" stroke-width="17.6" stroke-linecap="round" filter="url(#g7_0)"/><path d="M718.9 576.4 C716.1 586.2 707.6 615.8 702.2 635.4 C696.8 655.1 689.4 684.6 686.8 694.5" fill="none" stroke="url(#lg22)" stroke-width="8" stroke-linecap="round" filter="url(#g3_5)"/><path d="M751 576.4 L766 635.4" fill="none" stroke="#000" stroke-opacity="0.1" stroke-width="17.6" stroke-linecap="round" filter="url(#g7_0)"/><path d="M751 576.4 L766 635.4" fill="none" stroke="#000" stroke-opacity="0.3" stroke-width="8" stroke-linecap="round" filter="url(#g3_5)"/><path d="M785.8 576.4 L801.2 666.2" fill="none" stroke="#000" stroke-opacity="0.1" stroke-width="7" stroke-linecap="round" filter="url(#g3_0)"/><path d="M752.8 627.7 C757.2 638.4 771.5 672.2 779.2 691.9 C786.9 711.6 793.9 732.6 799 745.8 C804.1 759.1 808.2 767.2 810 771.5" fill="none" stroke="url(#lg23)" stroke-width="35.2" stroke-linecap="round" filter="url(#g14_0)"/><path d="M752.8 627.7 C757.2 638.4 771.5 672.2 779.2 691.9 C786.9 711.6 793.9 732.6 799 745.8 C804.1 759.1 808.2 767.2 810 771.5" fill="none" stroke="url(#lg24)" stroke-width="16" stroke-linecap="round" filter="url(#g7_0)"/><path d="M673.6 787.3 C675.2 782.7 680.1 768 683.3 759.5 C686.6 751 689.8 743.3 693.1 736.3 C696.3 729.4 699.6 723.2 702.8 717.8 C706.1 712.4 709.3 707.7 712.6 703.9 C715.8 700 719.1 696.9 722.3 694.6 C725.6 692.3 728.8 690.7 732.1 689.9 C735.3 689.2 738.6 689.2 741.8 689.9 C745 690.7 748.3 692.2 751.5 694.5 C754.8 696.8 758 699.9 761.3 703.8 C764.5 707.6 767.8 712.3 771 717.7 C774.3 723.1 777.5 729.2 780.8 736.2 C784 743.1 787.3 750.8 790.5 759.3 C793.8 767.8 797 777.1 800.3 787.1 C803.5 797.1 808.4 814.1 810 819.5" fill="none" stroke="url(#lg25)" stroke-width="41.8" stroke-linecap="round" filter="url(#g16_5)"/><path d="M673.6 787.3 C675.2 782.7 680.1 768 683.3 759.5 C686.6 751 689.8 743.3 693.1 736.3 C696.3 729.4 699.6 723.2 702.8 717.8 C706.1 712.4 709.3 707.7 712.6 703.9 C715.8 700 719.1 696.9 722.3 694.6 C725.6 692.3 728.8 690.7 732.1 689.9 C735.3 689.2 738.6 689.2 741.8 689.9 C745 690.7 748.3 692.2 751.5 694.5 C754.8 696.8 758 699.9 761.3 703.8 C764.5 707.6 767.8 712.3 771 717.7 C774.3 723.1 777.5 729.2 780.8 736.2 C784 743.1 787.3 750.8 790.5 759.3 C793.8 767.8 797 777.1 800.3 787.1 C803.5 797.1 808.4 814.1 810 819.5" fill="none" stroke="url(#lg26)" stroke-width="22" stroke-linecap="round" filter="url(#g9_5)"/><path d="M942 820.5 C943.7 814.7 948.8 796.7 952.2 786.2 C955.6 775.6 959 766 962.4 757.2 C965.8 748.4 969.2 740.5 972.6 733.5 C976 726.5 979.5 720.4 982.9 715.1 C986.3 709.9 989.7 705.6 993.1 702.1 C996.5 698.6 999.9 696 1003.3 694.3 C1006.7 692.7 1010.1 691.8 1013.5 691.9 C1016.9 692 1020.3 693 1023.7 694.8 C1027.1 696.7 1030.5 699.4 1033.9 703 C1037.3 706.6 1040.7 711.1 1044.1 716.5 C1047.5 721.9 1051 728.2 1054.4 735.3 C1057.8 742.5 1061.2 750.5 1064.6 759.5 C1068 768.4 1071.4 778.2 1074.8 788.9 C1078.2 799.6 1083.3 817.9 1085 823.7" fill="none" stroke="url(#lg27)" stroke-width="39.9" stroke-linecap="round" filter="url(#g16_0)"/><path d="M942 820.5 C943.7 814.7 948.8 796.7 952.2 786.2 C955.6 775.6 959 766 962.4 757.2 C965.8 748.4 969.2 740.5 972.6 733.5 C976 726.5 979.5 720.4 982.9 715.1 C986.3 709.9 989.7 705.6 993.1 702.1 C996.5 698.6 999.9 696 1003.3 694.3 C1006.7 692.7 1010.1 691.8 1013.5 691.9 C1016.9 692 1020.3 693 1023.7 694.8 C1027.1 696.7 1030.5 699.4 1033.9 703 C1037.3 706.6 1040.7 711.1 1044.1 716.5 C1047.5 721.9 1051 728.2 1054.4 735.3 C1057.8 742.5 1061.2 750.5 1064.6 759.5 C1068 768.4 1071.4 778.2 1074.8 788.9 C1078.2 799.6 1083.3 817.9 1085 823.7" fill="none" stroke="url(#lg28)" stroke-width="21" stroke-linecap="round" filter="url(#g9_0)"/><path d="M840.8 576.4 C844.1 589.2 854.4 631.2 860.6 653.4 C866.8 675.7 875.3 700.5 878.2 709.9" fill="none" stroke="#000" stroke-opacity="0.2" stroke-width="7" stroke-linecap="round" filter="url(#g3_0)"/><path d="M911.2 576.4 C908.6 589.2 900.9 631.2 895.8 653.4 C890.7 675.7 883 700.5 880.4 709.9" fill="none" stroke="#000" stroke-opacity="0.1" stroke-width="17.6" stroke-linecap="round" filter="url(#g7_0)"/><path d="M911.2 576.4 C908.6 589.2 900.9 631.2 895.8 653.4 C890.7 675.7 883 700.5 880.4 709.9" fill="none" stroke="#000" stroke-opacity="0.3" stroke-width="8" stroke-linecap="round" filter="url(#g3_5)"/><ellipse cx="879.1" cy="709.9" rx="16" ry="12" fill-opacity="0.2" filter="url(#g7_0)"/><path d="M843 740.7 C848.5 750.1 863.2 797.2 876 797.2 C888.8 797.2 912.7 750.1 920 740.7" fill="none" stroke="#000" stroke-opacity="0.1" stroke-width="24.2" stroke-linecap="round" filter="url(#g9_5)"/><path d="M843 740.7 C848.5 750.1 863.2 797.2 876 797.2 C888.8 797.2 912.7 750.1 920 740.7" fill="none" stroke="#000" stroke-opacity="0.2" stroke-width="11" stroke-linecap="round" filter="url(#g5_0)"/><path d="M876 756.1 L876 825.4" fill="none" stroke="#000" stroke-opacity="0.1" stroke-width="26.4" stroke-linecap="round" filter="url(#g10_5)"/><path d="M876 756.1 L876 825.4" fill="none" stroke="#000" stroke-opacity="0.2" stroke-width="12" stroke-linecap="round" filter="url(#g5_0)"/><path d="M1001 576.4 C996.6 589.2 984.2 629 975 653.4 C965.8 677.8 954.6 696.6 946 722.7 C937.3 748.8 926.9 795.5 923.1 810" fill="none" stroke="url(#lg29)" stroke-width="22" stroke-linecap="round" filter="url(#g9_0)"/><path d="M1001 576.4 C996.6 589.2 984.2 629 975 653.4 C965.8 677.8 954.6 696.6 946 722.7 C937.3 748.8 926.9 795.5 923.1 810" fill="none" stroke="url(#lg30)" stroke-width="10" stroke-linecap="round" filter="url(#g4_5)"/><path d="M979.4 576.4 L948.6 691.9" fill="none" stroke="#000" stroke-opacity="0.1" stroke-width="6" stroke-linecap="round" filter="url(#g2_5)"/><path d="M1033.1 576.4 C1036.2 589.2 1045.7 629 1052 653.4 C1058.3 677.8 1067.8 711.2 1070.9 722.7" fill="none" stroke="url(#lg31)" stroke-width="17.6" stroke-linecap="round" filter="url(#g7_0)"/><path d="M1033.1 576.4 C1036.2 589.2 1045.7 629 1052 653.4 C1058.3 677.8 1067.8 711.2 1070.9 722.7" fill="none" stroke="url(#lg32)" stroke-width="8" stroke-linecap="round" filter="url(#g3_5)"/></g></g><clipPath id="clip_b3"><rect x="676.5" y="1057.8" width="399.1" height="380.9"/></clipPath><g clip-path="url(#clip_b3)"><g filter="url(#cmapBlue)"><rect x="646.5" y="1028.8" width="459.1" height="439.9" fill="#fff"/><rect x="656.5" y="1058.8" width="439.1" height="399.9" fill-opacity="0"/><path d="M799 1071.6 L953 1071.6 L902.4 1315.5 L849.6 1315.5 Z" fill="#000" fill-opacity="0" filter="url(#g16_0)"/><path d="M656 1102.4 L1096 1102.4 L1096 1143.5 L656 1143.5 Z" fill="#000" fill-opacity="0" filter="url(#g10_0)"/><path d="M810 1251.3 L942 1251.3 L920 1366.8 L832 1366.8 Z" fill="#000" fill-opacity="0.1" filter="url(#g16_0)"/><path d="M854 1341.2 L898 1341.2 L902.4 1456.7 L849.6 1456.7 Z" fill="#000" fill-opacity="0.1" filter="url(#g14_0)"/><path d="M772.6 1058.8 C776.3 1069.5 787.3 1102.4 794.6 1123 C801.9 1143.5 809.6 1161.9 816.6 1182 C823.6 1202.1 830.4 1218.4 836.4 1243.6 C842.4 1268.9 850.1 1318.5 852.9 1333.5" fill="none" stroke="url(#lg33)" stroke-width="24.2" stroke-linecap="round" filter="url(#g9_5)"/><path d="M772.6 1058.8 C776.3 1069.5 787.3 1102.4 794.6 1123 C801.9 1143.5 809.6 1161.9 816.6 1182 C823.6 1202.1 830.4 1218.4 836.4 1243.6 C842.4 1268.9 850.1 1318.5 852.9 1333.5" fill="none" stroke="url(#lg34)" stroke-width="11" stroke-linecap="round" filter="url(#g5_0)"/><path d="M790.2 1058.8 C792.8 1068.2 800.1 1095.6 805.6 1115.3 C811.1 1135 817.3 1156.3 823.2 1176.9 C829.1 1197.4 835.7 1215.4 840.8 1238.5 C845.9 1261.6 851.8 1302.7 854 1315.5" fill="none" stroke="url(#lg35)" stroke-width="19.8" stroke-linecap="round" filter="url(#g8_0)"/><path d="M790.2 1058.8 C792.8 1068.2 800.1 1095.6 805.6 1115.3 C811.1 1135 817.3 1156.3 823.2 1176.9 C829.1 1197.4 835.7 1215.4 840.8 1238.5 C845.9 1261.6 851.8 1302.7 854 1315.5" fill="none" stroke="url(#lg36)" stroke-width="9" stroke-linecap="round" filter="url(#g4_0)"/><path d="M979.4 1058.8 C975.7 1069.5 964.7 1102.4 957.4 1123 C950.1 1143.5 942.4 1161.9 935.4 1182 C928.4 1202.1 921.6 1218.4 915.6 1243.6 C909.6 1268.9 901.9 1318.5 899.1 1333.5" fill="none" stroke="url(#lg37)" stroke-width="24.2" stroke-linecap="round" filter="url(#g9_5)"/><path d="M979.4 1058.8 C975.7 1069.5 964.7 1102.4 957.4 1123 C950.1 1143.5 942.4 1161.9 935.4 1182 C928.4 1202.1 921.6 1218.4 915.6 1243.6 C909.6 1268.9 901.9 1318.5 899.1 1333.5" fill="none" stroke="url(#lg38)" stroke-width="11" stroke-linecap="round" filter="url(#g5_0)"/><path d="M961.8 1058.8 C959.2 1068.2 951.9 1095.6 946.4 1115.3 C940.9 1135 934.7 1156.3 928.8 1176.9 C922.9 1197.4 916.3 1215.4 911.2 1238.5 C906.1 1261.6 900.2 1302.7 898 1315.5" fill="none" stroke="url(#lg39)" stroke-width="19.8" stroke-linecap="round" filter="url(#g8_0)"/><path d="M961.8 1058.8 C959.2 1068.2 951.9 1095.6 946.4 1115.3 C940.9 1135 934.7 1156.3 928.8 1176.9 C922.9 1197.4 916.3 1215.4 911.2 1238.5 C906.1 1261.6 900.2 1302.7 898 1315.5" fill="none" stroke="url(#lg40)" stroke-width="9" stroke-linecap="round" filter="url(#g4_0)"/><path d="M755 1058.8 C758.7 1075.9 768.9 1125.1 777 1161.5 C785.1 1197.8 799 1257.7 803.4 1277" fill="none" stroke="#000" stroke-opacity="0.1" stroke-width="14" stroke-linecap="round" filter="url(#g6_0)"/><path d="M997 1058.8 C993.3 1075.9 983.1 1125.1 975 1161.5 C966.9 1197.8 953 1257.7 948.6 1277" fill="none" stroke="#000" stroke-opacity="0.1" stroke-width="14" stroke-linecap="round" filter="url(#g6_0)"/><path d="M852.9 1333.5 L876 1289.8 L899.1 1333.5" fill="none" stroke="#000" stroke-opacity="0.1" stroke-width="24.2" stroke-linecap="round" filter="url(#g9_5)"/><path d="M852.9 1333.5 L876 1289.8 L899.1 1333.5" fill="none" stroke="#000" stroke-opacity="0.2" stroke-width="11" stroke-linecap="round" filter="url(#g5_0)"/><path d="M852.9 1333.5 L876 1423.3 L899.1 1333.5" fill="none" stroke="#000" stroke-opacity="0" stroke-width="24.2" stroke-linecap="round" filter="url(#g9_5)"/><path d="M852.9 1333.5 L876 1423.3 L899.1 1333.5" fill="none" stroke="#000" stroke-opacity="0.1" stroke-width="11" stroke-linecap="round" filter="url(#g5_0)"/><path d="M700 1058.8 L682.4 1110.1" fill="none" stroke="url(#lg41)" stroke-width="22" stroke-linecap="round" filter="url(#g9_0)"/><path d="M700 1058.8 L682.4 1110.1" fill="none" stroke="url(#lg42)" stroke-width="10" stroke-linecap="round" filter="url(#g4_5)"/><path d="M1049.8 1058.8 C1052.4 1065.2 1061.2 1086.6 1065.2 1097.3 C1069.2 1108 1072.5 1118.7 1074 1123" fill="none" stroke="url(#lg43)" stroke-width="24.2" stroke-linecap="round" filter="url(#g9_5)"/><path d="M1049.8 1058.8 C1052.4 1065.2 1061.2 1086.6 1065.2 1097.3 C1069.2 1108 1072.5 1118.7 1074 1123" fill="none" stroke="url(#lg44)" stroke-width="11" stroke-linecap="round" filter="url(#g5_0)"/></g></g><clipPath id="clip_c1"><rect x="1139.5" y="92.6" width="399.4" height="380.9"/></clipPath><g clip-path="url(#clip_c1)"><g filter="url(#cmapBlue)"><rect x="1109.5" y="63.6" width="459.4" height="439.9" fill="#fff"/><rect x="1119.5" y="93.6" width="439.4" height="399.9" fill-opacity="0"/><path d="M1117.5 101.3 L1372.4 101.3 L1372.4 150.1 L1117.5 150.1 Z" fill="#000" fill-opacity="0.1" filter="url(#g8_0)"/><path d="M1372.4 101.3 L1560.7 101.3 L1560.7 150.1 L1372.4 150.1 Z" fill="#000" fill-opacity="0" filter="url(#g8_0)"/><path d="M1372.4 165.5 L1560.7 165.5 L1560.7 252.8 L1372.4 252.8 Z" fill="#000" fill-opacity="0.1" filter="url(#g12_0)"/><path d="M1117.5 157.8 L1283.7 157.8 L1283.7 260.5 L1117.5 260.5 Z" fill="#000" fill-opacity="0.1" filter="url(#g12_0)"/><path d="M1117.5 196.3 L1232.8 196.3 L1232.8 299 L1210.6 376 L1117.5 388.8 Z" fill="#000" fill-opacity="0.2" filter="url(#g16_0)"/><path d="M1117.5 350.3 L1228.3 376 L1239.4 491.5 L1117.5 491.5 Z" fill="#000" fill-opacity="0.1" filter="url(#g16_0)"/><path d="M1228.3 247.6 L1339.1 247.6 L1317 376 L1250.5 427.3 L1217.2 376 Z" fill="#000" fill-opacity="0.1" filter="url(#g16_0)"/><path d="M1483.2 273.3 L1560.7 273.3 L1560.7 491.5 L1505.3 491.5 Z" fill="#000" fill-opacity="0.1" filter="url(#g16_0)"/><ellipse cx="1139.7" cy="229.7" rx="16" ry="30" fill-opacity="0.3" filter="url(#g10_0)"/><path d="M1150.8 98.7 L1210.6 98.7 L1190.6 196.3 L1177.4 196.3 Z" fill="#000" fill-opacity="0.1" filter="url(#g10_0)"/><path d="M1263.8 175.7 L1290.4 157.8 L1339.1 155.2 L1361.3 178.3 L1343.6 209.1 L1317 234.8 L1283.7 257.9 L1263.8 252.8 Z" fill="#000" fill-opacity="0.3" filter="url(#g10_0)"/><path d="M1266 156.5 L1549.6 156.5" fill="none" stroke="#000" stroke-opacity="0.1" stroke-width="19.8" stroke-linecap="round" filter="url(#g8_0)"/><path d="M1266 156.5 L1549.6 156.5" fill="none" stroke="#000" stroke-opacity="0.2" stroke-width="9" stroke-linecap="round" filter="url(#g4_0)"/><path d="M1141 93.6 C1146.3 110.7 1165.8 176.6 1172.9 196.3 C1180.1 216 1182.2 209.1 1184 211.7" fill="none" stroke="#000" stroke-opacity="0.1" stroke-width="17.6" stroke-linecap="round" filter="url(#g7_0)"/><path d="M1141 93.6 C1146.3 110.7 1165.8 176.6 1172.9 196.3 C1180.1 216 1182.2 209.1 1184 211.7" fill="none" stroke="#000" stroke-opacity="0.3" stroke-width="8" stroke-linecap="round" filter="url(#g3_5)"/><path d="M1219 93.6 C1215 110.7 1200.9 176.6 1195.1 196.3 C1189.2 216 1185.8 209.1 1184 211.7" fill="none" stroke="#000" stroke-opacity="0.1" stroke-width="17.6" stroke-linecap="round" filter="url(#g7_0)"/><path d="M1219 93.6 C1215 110.7 1200.9 176.6 1195.1 196.3 C1189.2 216 1185.8 209.1 1184 211.7" fill="none" stroke="#000" stroke-opacity="0.2" stroke-width="8" stroke-linecap="round" filter="url(#g3_5)"/><path d="M1135.2 242.5 L1184 329.8" fill="none" stroke="#000" stroke-opacity="0.1" stroke-width="24.2" stroke-linecap="round" filter="url(#g9_5)"/><path d="M1135.2 242.5 L1184 329.8" fill="none" stroke="#000" stroke-opacity="0.3" stroke-width="11" stroke-linecap="round" filter="url(#g5_0)"/><path d="M1230.5 229.7 L1184 329.8" fill="none" stroke="#000" stroke-opacity="0.1" stroke-width="24.2" stroke-linecap="round" filter="url(#g9_5)"/><path d="M1230.5 229.7 L1184 329.8" fill="none" stroke="#000" stroke-opacity="0.2" stroke-width="11" stroke-linecap="round" filter="url(#g5_0)"/><path d="M1184 299 L1184 355.4" fill="none" stroke="#000" stroke-opacity="0.1" stroke-width="26.4" stroke-linecap="round" filter="url(#g10_5)"/><path d="M1184 299 L1184 355.4" fill="none" stroke="#000" stroke-opacity="0.3" stroke-width="12" stroke-linecap="round" filter="url(#g5_0)"/><path d="M1184 337.5 L1161.8 376" fill="none" stroke="#000" stroke-opacity="0" stroke-width="22" stroke-linecap="round" filter="url(#g9_0)"/><path d="M1184 337.5 L1161.8 376" fill="none" stroke="#000" stroke-opacity="0.1" stroke-width="10" stroke-linecap="round" filter="url(#g4_5)"/><path d="M1184 337.5 L1206.2 376" fill="none" stroke="#000" stroke-opacity="0" stroke-width="22" stroke-linecap="round" filter="url(#g9_0)"/><path d="M1184 337.5 L1206.2 376" fill="none" stroke="#000" stroke-opacity="0.1" stroke-width="10" stroke-linecap="round" filter="url(#g4_5)"/><path d="M1260 93.6 C1255.7 108.9 1239 162.6 1234.1 185.2 C1229.2 207.9 1232.6 215.8 1230.5 229.7 C1228.5 243.5 1223.1 261.7 1221.7 268.2" fill="none" stroke="url(#lg45)" stroke-width="19.8" stroke-linecap="round" filter="url(#g8_0)"/><path d="M1260 93.6 C1255.7 108.9 1239 162.6 1234.1 185.2 C1229.2 207.9 1232.6 215.8 1230.5 229.7 C1228.5 243.5 1223.1 261.7 1221.7 268.2" fill="none" stroke="url(#lg46)" stroke-width="9" stroke-linecap="round" filter="url(#g4_0)"/><path d="M1289 93.6 L1268.2 170.6" fill="none" stroke="#000" stroke-opacity="0.2" stroke-width="7" stroke-linecap="round" filter="url(#g3_0)"/><path d="M1320.1 93.6 L1343.6 201.4" fill="none" stroke="#000" stroke-opacity="0.2" stroke-width="7" stroke-linecap="round" filter="url(#g3_0)"/><path d="M1268.2 178.3 C1272.6 175.5 1285.6 165.7 1294.8 161.6 C1304 157.6 1314 155 1323.6 153.9 C1333.2 152.9 1342.8 154.8 1352.4 155.2 C1362 155.6 1376.4 156.3 1381.2 156.5" fill="none" stroke="url(#lg47)" stroke-width="25.2" stroke-linecap="round" filter="url(#g10_0)"/><path d="M1268.2 178.3 C1272.6 175.5 1285.6 165.7 1294.8 161.6 C1304 157.6 1314 155 1323.6 153.9 C1333.2 152.9 1342.8 154.8 1352.4 155.2 C1362 155.6 1376.4 156.3 1381.2 156.5" fill="none" stroke="url(#lg48)" stroke-width="14" stroke-linecap="round" filter="url(#g6_0)"/><path d="M1268.2 242.5 C1271.5 236.9 1281.5 217.7 1288.2 209.1 C1294.8 200.6 1301.8 193.7 1308.1 191.1 C1314.4 188.6 1319.9 192 1325.8 193.7 C1331.7 195.4 1340.6 200.1 1343.6 201.4" fill="none" stroke="url(#lg49)" stroke-width="32" stroke-linecap="round" filter="url(#g13_0)"/><path d="M1268.2 242.5 C1271.5 236.9 1281.5 217.7 1288.2 209.1 C1294.8 200.6 1301.8 193.7 1308.1 191.1 C1314.4 188.6 1319.9 192 1325.8 193.7 C1331.7 195.4 1340.6 200.1 1343.6 201.4" fill="none" stroke="url(#lg50)" stroke-width="20" stroke-linecap="round" filter="url(#g8_5)"/><path d="M1381.2 93.6 L1370.1 144.9" fill="none" stroke="#000" stroke-opacity="0.2" stroke-width="7" stroke-linecap="round" filter="url(#g3_0)"/><path d="M1402.1 93.6 L1361.3 201.4" fill="none" stroke="#000" stroke-opacity="0.3" stroke-width="8" stroke-linecap="round" filter="url(#g3_5)"/><path d="M1454.4 93.6 L1509.8 185.2" fill="none" stroke="#000" stroke-opacity="0.3" stroke-width="8" stroke-linecap="round" filter="url(#g3_5)"/><path d="M1536.3 93.6 L1509.8 185.2" fill="none" stroke="#000" stroke-opacity="0.2" stroke-width="8" stroke-linecap="round" filter="url(#g3_5)"/><path d="M1343.6 239.2 C1345.6 237.6 1351.6 232.5 1355.6 229.6 C1359.6 226.7 1363.6 224 1367.6 221.7 C1371.6 219.3 1375.6 217.2 1379.6 215.4 C1383.7 213.6 1387.7 212.1 1391.7 210.8 C1395.7 209.6 1399.7 208.6 1403.7 207.9 C1407.7 207.2 1411.7 206.8 1415.7 206.6 C1419.7 206.5 1423.8 206.6 1427.8 207 C1431.8 207.4 1435.8 208.1 1439.8 209.1 C1443.8 210 1447.8 211.3 1451.8 212.8 C1455.8 214.3 1459.8 216.1 1463.8 218.2 C1467.9 220.2 1471.9 222.6 1475.9 225.2 C1479.9 227.8 1483.9 230.8 1487.9 233.9 C1491.9 237.1 1495.9 240.6 1499.9 244.3 C1503.9 248.1 1510 254.4 1512 256.4" fill="none" stroke="#000" stroke-opacity="0.1" stroke-width="22" stroke-linecap="round" filter="url(#g9_0)"/><path d="M1343.6 239.2 C1345.6 237.6 1351.6 232.5 1355.6 229.6 C1359.6 226.7 1363.6 224 1367.6 221.7 C1371.6 219.3 1375.6 217.2 1379.6 215.4 C1383.7 213.6 1387.7 212.1 1391.7 210.8 C1395.7 209.6 1399.7 208.6 1403.7 207.9 C1407.7 207.2 1411.7 206.8 1415.7 206.6 C1419.7 206.5 1423.8 206.6 1427.8 207 C1431.8 207.4 1435.8 208.1 1439.8 209.1 C1443.8 210 1447.8 211.3 1451.8 212.8 C1455.8 214.3 1459.8 216.1 1463.8 218.2 C1467.9 220.2 1471.9 222.6 1475.9 225.2 C1479.9 227.8 1483.9 230.8 1487.9 233.9 C1491.9 237.1 1495.9 240.6 1499.9 244.3 C1503.9 248.1 1510 254.4 1512 256.4" fill="none" stroke="#000" stroke-opacity="0.2" stroke-width="10" stroke-linecap="round" filter="url(#g4_5)"/><path d="M1365.7 204.8 C1367.1 204.1 1371.3 201.6 1374.1 200.1 C1376.9 198.7 1379.7 197.4 1382.5 196.2 C1385.3 195 1388.1 194 1390.9 193.1 C1393.7 192.2 1396.5 191.4 1399.3 190.8 C1402.1 190.2 1404.9 189.7 1407.7 189.3 C1410.5 188.9 1413.3 188.7 1416 188.6 C1418.8 188.5 1421.6 188.6 1424.4 188.8 C1427.2 188.9 1430 189.2 1432.8 189.7 C1435.6 190.1 1438.4 190.7 1441.2 191.4 C1444 192.2 1446.8 193 1449.6 194 C1452.4 195 1455.2 196.1 1458 197.4 C1460.8 198.6 1463.6 200 1466.4 201.5 C1469.2 203.1 1472 204.7 1474.8 206.5 C1477.6 208.3 1481.8 211.4 1483.2 212.3" fill="none" stroke="#000" stroke-opacity="0" stroke-width="17.6" stroke-linecap="round" filter="url(#g7_0)"/><path d="M1365.7 204.8 C1367.1 204.1 1371.3 201.6 1374.1 200.1 C1376.9 198.7 1379.7 197.4 1382.5 196.2 C1385.3 195 1388.1 194 1390.9 193.1 C1393.7 192.2 1396.5 191.4 1399.3 190.8 C1402.1 190.2 1404.9 189.7 1407.7 189.3 C1410.5 188.9 1413.3 188.7 1416 188.6 C1418.8 188.5 1421.6 188.6 1424.4 188.8 C1427.2 188.9 1430 189.2 1432.8 189.7 C1435.6 190.1 1438.4 190.7 1441.2 191.4 C1444 192.2 1446.8 193 1449.6 194 C1452.4 195 1455.2 196.1 1458 197.4 C1460.8 198.6 1463.6 200 1466.4 201.5 C1469.2 203.1 1472 204.7 1474.8 206.5 C1477.6 208.3 1481.8 211.4 1483.2 212.3" fill="none" stroke="#000" stroke-opacity="0.1" stroke-width="8" stroke-linecap="round" filter="url(#g3_5)"/><path d="M1339.1 239.9 L1403.4 465.8" fill="none" stroke="#000" stroke-opacity="0.1" stroke-width="19.8" stroke-linecap="round" filter="url(#g8_0)"/><path d="M1339.1 239.9 L1403.4 465.8" fill="none" stroke="#000" stroke-opacity="0.3" stroke-width="9" stroke-linecap="round" filter="url(#g4_0)"/><path d="M1512 257.9 L1438.8 468.4" fill="none" stroke="#000" stroke-opacity="0" stroke-width="17.6" stroke-linecap="round" filter="url(#g7_0)"/><path d="M1512 257.9 L1438.8 468.4" fill="none" stroke="#000" stroke-opacity="0.1" stroke-width="8" stroke-linecap="round" filter="url(#g3_5)"/><path d="M1228.3 401.6 L1330.3 242.5" fill="none" stroke="#000" stroke-opacity="0.1" stroke-width="12" stroke-linecap="round" filter="url(#g5_0)"/></g></g><clipPath id="clip_c2"><rect x="1139.5" y="575.4" width="399.4" height="380.8"/></clipPath><g clip-path="url(#clip_c2)"><g filter="url(#cmapBlue)"><rect x="1109.5" y="546.4" width="459.4" height="439.8" fill="#fff"/><rect x="1119.5" y="576.4" width="439.4" height="399.8" fill-opacity="0"/><path d="M1117.5 584.1 L1361.3 584.1 L1361.3 627.7 L1117.5 627.7 Z" fill="#000" fill-opacity="0" filter="url(#g10_0)"/><path d="M1317 632.9 L1560.7 632.9 L1560.7 661.1 L1317 661.1 Z" fill="#000" fill-opacity="0" filter="url(#g8_0)"/><path d="M1117.5 679.1 L1232.8 679.1 L1232.8 974.3 L1117.5 974.3 Z" fill="#000" fill-opacity="0.2" filter="url(#g16_0)"/><path d="M1117.5 614.9 L1228.3 614.9 L1195.1 691.9 L1172.9 691.9 Z" fill="#000" fill-opacity="0.1" filter="url(#g12_0)"/><path d="M1239.4 679.1 L1350.2 679.1 L1317 884.4 L1250.5 910.1 Z" fill="#000" fill-opacity="0.1" filter="url(#g16_0)"/><ellipse cx="1139.7" cy="730.4" rx="15" ry="45" fill-opacity="0.2" filter="url(#g10_0)"/><path d="M1427.8 845.9 L1560.7 794.6 L1560.7 974.3 L1438.8 974.3 Z" fill="#000" fill-opacity="0" filter="url(#g24_0)"/><path d="M1147 576.4 C1150.2 589.2 1160.6 629 1166.3 653.4 C1171.9 677.8 1178.5 711.2 1180.9 722.7" fill="none" stroke="#000" stroke-opacity="0.1" stroke-width="19.8" stroke-linecap="round" filter="url(#g8_0)"/><path d="M1147 576.4 C1150.2 589.2 1160.6 629 1166.3 653.4 C1171.9 677.8 1178.5 711.2 1180.9 722.7" fill="none" stroke="#000" stroke-opacity="0.4" stroke-width="9" stroke-linecap="round" filter="url(#g4_0)"/><path d="M1219 576.4 C1216.5 589.2 1208.3 631.2 1203.9 653.4 C1199.6 675.7 1194.9 700.5 1193.1 709.9" fill="none" stroke="#000" stroke-opacity="0.1" stroke-width="19.8" stroke-linecap="round" filter="url(#g8_0)"/><path d="M1219 576.4 C1216.5 589.2 1208.3 631.2 1203.9 653.4 C1199.6 675.7 1194.9 700.5 1193.1 709.9" fill="none" stroke="#000" stroke-opacity="0.3" stroke-width="9" stroke-linecap="round" filter="url(#g4_0)"/><path d="M1184 735.6 L1184 833.1" fill="none" stroke="url(#lg51)" stroke-width="30.8" stroke-linecap="round" filter="url(#g12_5)"/><path d="M1184 735.6 L1184 833.1" fill="none" stroke="url(#lg52)" stroke-width="14" stroke-linecap="round" filter="url(#g6_0)"/><path d="M1243.8 761.2 C1247.2 756.1 1257.1 739.8 1263.8 730.4 C1270.4 721 1277.1 712.5 1283.7 704.8 C1290.4 697 1297.4 688.9 1303.7 684.2 C1309.9 679.5 1318.4 677.8 1321.4 676.5" fill="none" stroke="url(#lg53)" stroke-width="44.8" stroke-linecap="round" filter="url(#g18_0)"/><path d="M1243.8 761.2 C1247.2 756.1 1257.1 739.8 1263.8 730.4 C1270.4 721 1277.1 712.5 1283.7 704.8 C1290.4 697 1297.4 688.9 1303.7 684.2 C1309.9 679.5 1318.4 677.8 1321.4 676.5" fill="none" stroke="url(#lg54)" stroke-width="28" stroke-linecap="round" filter="url(#g12_0)"/><path d="M1291.9 576.4 L1257.1 666.2" fill="none" stroke="#000" stroke-opacity="0.1" stroke-width="19.8" stroke-linecap="round" filter="url(#g8_0)"/><path d="M1291.9 576.4 L1257.1 666.2" fill="none" stroke="#000" stroke-opacity="0.3" stroke-width="9" stroke-linecap="round" filter="url(#g4_0)"/><path d="M1309 576.4 C1312.5 587.1 1324.4 622.6 1330.3 640.6 C1336.1 658.5 1340.7 671.4 1344 684.2 C1347.3 697 1349.2 712 1350.2 717.6" fill="none" stroke="url(#lg55)" stroke-width="19.8" stroke-linecap="round" filter="url(#g8_0)"/><path d="M1309 576.4 C1312.5 587.1 1324.4 622.6 1330.3 640.6 C1336.1 658.5 1340.7 671.4 1344 684.2 C1347.3 697 1349.2 712 1350.2 717.6" fill="none" stroke="url(#lg56)" stroke-width="9" stroke-linecap="round" filter="url(#g4_0)"/><path d="M1402.1 576.4 L1361.3 694.5" fill="none" stroke="#000" stroke-opacity="0.3" stroke-width="8" stroke-linecap="round" filter="url(#g3_5)"/><ellipse cx="1361.3" cy="730.4" rx="22" ry="18" fill-opacity="0.5" filter="url(#g10_0)"/><path d="M1348 730.4 C1348.7 746.2 1342.9 788.2 1352.4 825.4 C1361.9 862.6 1396.2 932.4 1404.9 953.7" fill="none" stroke="#000" stroke-opacity="0.1" stroke-width="19.8" stroke-linecap="round" filter="url(#g8_0)"/><path d="M1348 730.4 C1348.7 746.2 1342.9 788.2 1352.4 825.4 C1361.9 862.6 1396.2 932.4 1404.9 953.7" fill="none" stroke="#000" stroke-opacity="0.4" stroke-width="9" stroke-linecap="round" filter="url(#g4_0)"/><path d="M1449.9 576.4 L1512 671.4" fill="none" stroke="#000" stroke-opacity="0.3" stroke-width="8" stroke-linecap="round" filter="url(#g3_5)"/><path d="M1533 576.4 L1512 671.4" fill="none" stroke="#000" stroke-opacity="0.3" stroke-width="8" stroke-linecap="round" filter="url(#g3_5)"/><ellipse cx="1534.1" cy="679.1" rx="12" ry="18" fill-opacity="0.3" filter="url(#g7_0)"/><path d="M1534.1 730.4 L1439.9 948.6" fill="none" stroke="#000" stroke-opacity="0.1" stroke-width="7" stroke-linecap="round" filter="url(#g3_0)"/><path d="M1350.2 727.9 C1351.9 726.8 1357.1 723.3 1360.5 721.3 C1363.9 719.2 1367.3 717.4 1370.8 715.8 C1374.2 714.1 1377.6 712.7 1381.1 711.4 C1384.5 710.1 1387.9 709 1391.4 708.1 C1394.8 707.2 1398.2 706.5 1401.6 705.9 C1405.1 705.4 1408.5 705 1411.9 704.9 C1415.4 704.7 1418.8 704.7 1422.2 704.9 C1425.6 705.1 1429.1 705.5 1432.5 706.1 C1435.9 706.6 1439.4 707.4 1442.8 708.3 C1446.2 709.3 1449.7 710.4 1453.1 711.7 C1456.5 713 1459.9 714.5 1463.4 716.1 C1466.8 717.8 1470.2 719.7 1473.7 721.7 C1477.1 723.8 1480.5 726 1484 728.4 C1487.4 730.8 1492.5 734.9 1494.2 736.2" fill="none" stroke="#000" stroke-opacity="0" stroke-width="17.6" stroke-linecap="round" filter="url(#g7_0)"/><path d="M1350.2 727.9 C1351.9 726.8 1357.1 723.3 1360.5 721.3 C1363.9 719.2 1367.3 717.4 1370.8 715.8 C1374.2 714.1 1377.6 712.7 1381.1 711.4 C1384.5 710.1 1387.9 709 1391.4 708.1 C1394.8 707.2 1398.2 706.5 1401.6 705.9 C1405.1 705.4 1408.5 705 1411.9 704.9 C1415.4 704.7 1418.8 704.7 1422.2 704.9 C1425.6 705.1 1429.1 705.5 1432.5 706.1 C1435.9 706.6 1439.4 707.4 1442.8 708.3 C1446.2 709.3 1449.7 710.4 1453.1 711.7 C1456.5 713 1459.9 714.5 1463.4 716.1 C1466.8 717.8 1470.2 719.7 1473.7 721.7 C1477.1 723.8 1480.5 726 1484 728.4 C1487.4 730.8 1492.5 734.9 1494.2 736.2" fill="none" stroke="#000" stroke-opacity="0.1" stroke-width="8" stroke-linecap="round" filter="url(#g3_5)"/><ellipse cx="1206.2" cy="922.9" rx="25" ry="20" fill-opacity="0.1" filter="url(#g10_0)"/></g></g><clipPath id="clip_c3"><rect x="1139.5" y="1057.8" width="399.4" height="380.9"/></clipPath><g clip-path="url(#clip_c3)"><g filter="url(#cmapBlue)"><rect x="1109.5" y="1028.8" width="459.4" height="439.9" fill="#fff"/><rect x="1119.5" y="1058.8" width="439.4" height="399.9" fill-opacity="0"/><path d="M1117.5 1097.3 L1560.7 1097.3 L1560.7 1148.6 L1117.5 1148.6 Z" fill="#000" fill-opacity="0" filter="url(#g10_0)"/><path d="M1117.5 1135.8 L1250.5 1135.8 L1250.5 1366.8 L1195.1 1443.8 L1117.5 1443.8 Z" fill="#000" fill-opacity="0.1" filter="url(#g16_0)"/><path d="M1117.5 1277 L1246 1277 L1228.3 1366.8 L1117.5 1366.8 Z" fill="#000" fill-opacity="0.1" filter="url(#g14_0)"/><ellipse cx="1128.6" cy="1200" rx="20" ry="40" fill-opacity="0.5" filter="url(#g10_0)"/><path d="M1260 1058.8 C1256.2 1075.9 1243.4 1132.8 1237 1161.5 C1230.6 1190.1 1226.1 1211.5 1221.7 1230.8 C1217.3 1250 1212.4 1269.3 1210.6 1277" fill="none" stroke="url(#lg57)" stroke-width="19.8" stroke-linecap="round" filter="url(#g8_0)"/><path d="M1260 1058.8 C1256.2 1075.9 1243.4 1132.8 1237 1161.5 C1230.6 1190.1 1226.1 1211.5 1221.7 1230.8 C1217.3 1250 1212.4 1269.3 1210.6 1277" fill="none" stroke="url(#lg58)" stroke-width="9" stroke-linecap="round" filter="url(#g4_0)"/><path d="M1361.3 1121.7 L1549.6 1121.7" fill="none" stroke="#000" stroke-opacity="0.1" stroke-width="19.8" stroke-linecap="round" filter="url(#g8_0)"/><path d="M1361.3 1121.7 L1549.6 1121.7" fill="none" stroke="#000" stroke-opacity="0.2" stroke-width="9" stroke-linecap="round" filter="url(#g4_0)"/><path d="M1268.2 1148.6 C1270.8 1146.1 1277.4 1137.7 1283.7 1133.2 C1290 1128.8 1298.5 1124.3 1305.9 1121.7 C1313.3 1119.1 1320.7 1118.1 1328 1117.8 C1335.4 1117.6 1342.8 1119.6 1350.2 1120.4 C1357.6 1121.3 1368.7 1122.5 1372.4 1123" fill="none" stroke="url(#lg59)" stroke-width="27" stroke-linecap="round" filter="url(#g11_0)"/><path d="M1268.2 1148.6 C1270.8 1146.1 1277.4 1137.7 1283.7 1133.2 C1290 1128.8 1298.5 1124.3 1305.9 1121.7 C1313.3 1119.1 1320.7 1118.1 1328 1117.8 C1335.4 1117.6 1342.8 1119.6 1350.2 1120.4 C1357.6 1121.3 1368.7 1122.5 1372.4 1123" fill="none" stroke="url(#lg60)" stroke-width="15" stroke-linecap="round" filter="url(#g6_5)"/><path d="M1128.6 1251.3 L1164.1 1333.5 L1184 1289.8 L1205.1 1341.2 L1228.3 1277" fill="none" stroke="#000" stroke-opacity="0.1" stroke-width="26.4" stroke-linecap="round" filter="url(#g10_5)"/><path d="M1128.6 1251.3 L1164.1 1333.5 L1184 1289.8 L1205.1 1341.2 L1228.3 1277" fill="none" stroke="#000" stroke-opacity="0.3" stroke-width="12" stroke-linecap="round" filter="url(#g5_0)"/><path d="M1164.1 1333.5 L1184 1431 L1205.1 1341.2" fill="none" stroke="#000" stroke-opacity="0" stroke-width="26.4" stroke-linecap="round" filter="url(#g10_5)"/><path d="M1164.1 1333.5 L1184 1431 L1205.1 1341.2" fill="none" stroke="#000" stroke-opacity="0.1" stroke-width="12" stroke-linecap="round" filter="url(#g5_0)"/><path d="M1139.7 1058.8 L1161.8 1187.1" fill="none" stroke="#000" stroke-opacity="0.1" stroke-width="7" stroke-linecap="round" filter="url(#g3_0)"/><path d="M1217.2 1058.8 L1195.1 1187.1" fill="none" stroke="#000" stroke-opacity="0.1" stroke-width="7" stroke-linecap="round" filter="url(#g3_0)"/><path d="M1385.7 1058.8 L1361.3 1146.1" fill="none" stroke="#000" stroke-opacity="0.2" stroke-width="7" stroke-linecap="round" filter="url(#g3_0)"/><path d="M1402.1 1058.8 L1372.4 1146.1" fill="none" stroke="#000" stroke-opacity="0.2" stroke-width="7" stroke-linecap="round" filter="url(#g3_0)"/><path d="M1454.4 1058.8 L1500.9 1151.2" fill="none" stroke="#000" stroke-opacity="0.2" stroke-width="8" stroke-linecap="round" filter="url(#g3_5)"/><path d="M1476.5 1058.8 L1516.4 1151.2" fill="none" stroke="#000" stroke-opacity="0.1" stroke-width="6" stroke-linecap="round" filter="url(#g2_5)"/><path d="M1365.7 1217.8 C1367.1 1215.7 1371.4 1208.9 1374.3 1204.9 C1377.1 1201 1380 1197.3 1382.8 1194 C1385.7 1190.7 1388.5 1187.7 1391.4 1185.1 C1394.2 1182.4 1397.1 1180.1 1399.9 1178.1 C1402.8 1176.1 1405.6 1174.5 1408.4 1173.2 C1411.3 1171.8 1414.1 1170.8 1417 1170.2 C1419.8 1169.5 1422.7 1169.2 1425.5 1169.2 C1428.4 1169.2 1431.2 1169.5 1434.1 1170.2 C1436.9 1170.8 1439.8 1171.8 1442.6 1173.2 C1445.5 1174.5 1448.3 1176.1 1451.2 1178.1 C1454 1180.1 1456.9 1182.4 1459.7 1185.1 C1462.6 1187.7 1465.4 1190.7 1468.3 1194 C1471.1 1197.3 1474 1201 1476.8 1204.9 C1479.7 1208.9 1484 1215.7 1485.4 1217.8" fill="none" stroke="#000" stroke-opacity="0.1" stroke-width="22" stroke-linecap="round" filter="url(#g9_0)"/><path d="M1365.7 1217.8 C1367.1 1215.7 1371.4 1208.9 1374.3 1204.9 C1377.1 1201 1380 1197.3 1382.8 1194 C1385.7 1190.7 1388.5 1187.7 1391.4 1185.1 C1394.2 1182.4 1397.1 1180.1 1399.9 1178.1 C1402.8 1176.1 1405.6 1174.5 1408.4 1173.2 C1411.3 1171.8 1414.1 1170.8 1417 1170.2 C1419.8 1169.5 1422.7 1169.2 1425.5 1169.2 C1428.4 1169.2 1431.2 1169.5 1434.1 1170.2 C1436.9 1170.8 1439.8 1171.8 1442.6 1173.2 C1445.5 1174.5 1448.3 1176.1 1451.2 1178.1 C1454 1180.1 1456.9 1182.4 1459.7 1185.1 C1462.6 1187.7 1465.4 1190.7 1468.3 1194 C1471.1 1197.3 1474 1201 1476.8 1204.9 C1479.7 1208.9 1484 1215.7 1485.4 1217.8" fill="none" stroke="#000" stroke-opacity="0.2" stroke-width="10" stroke-linecap="round" filter="url(#g4_5)"/><path d="M1361.3 1235.5 C1362.9 1233.5 1367.6 1227.3 1370.8 1223.6 C1373.9 1220 1377.1 1216.7 1380.3 1213.7 C1383.4 1210.7 1386.6 1208 1389.8 1205.7 C1392.9 1203.3 1396.1 1201.2 1399.3 1199.5 C1402.4 1197.8 1405.6 1196.3 1408.8 1195.2 C1411.9 1194.1 1415.1 1193.3 1418.3 1192.8 C1421.4 1192.4 1424.6 1192.2 1427.8 1192.3 C1430.9 1192.5 1434.1 1192.9 1437.3 1193.7 C1440.4 1194.5 1443.6 1195.6 1446.8 1197 C1449.9 1198.4 1453.1 1200.1 1456.3 1202.1 C1459.4 1204.2 1462.6 1206.5 1465.7 1209.2 C1468.9 1211.8 1472.1 1214.8 1475.2 1218.1 C1478.4 1221.4 1481.6 1225 1484.7 1228.9 C1487.9 1232.8 1492.7 1239.5 1494.2 1241.6" fill="none" stroke="#000" stroke-opacity="0" stroke-width="17.6" stroke-linecap="round" filter="url(#g7_0)"/><path d="M1361.3 1235.5 C1362.9 1233.5 1367.6 1227.3 1370.8 1223.6 C1373.9 1220 1377.1 1216.7 1380.3 1213.7 C1383.4 1210.7 1386.6 1208 1389.8 1205.7 C1392.9 1203.3 1396.1 1201.2 1399.3 1199.5 C1402.4 1197.8 1405.6 1196.3 1408.8 1195.2 C1411.9 1194.1 1415.1 1193.3 1418.3 1192.8 C1421.4 1192.4 1424.6 1192.2 1427.8 1192.3 C1430.9 1192.5 1434.1 1192.9 1437.3 1193.7 C1440.4 1194.5 1443.6 1195.6 1446.8 1197 C1449.9 1198.4 1453.1 1200.1 1456.3 1202.1 C1459.4 1204.2 1462.6 1206.5 1465.7 1209.2 C1468.9 1211.8 1472.1 1214.8 1475.2 1218.1 C1478.4 1221.4 1481.6 1225 1484.7 1228.9 C1487.9 1232.8 1492.7 1239.5 1494.2 1241.6" fill="none" stroke="#000" stroke-opacity="0.1" stroke-width="8" stroke-linecap="round" filter="url(#g3_5)"/></g></g><clipPath id="clipA"><rect x="86.5" y="43" width="431" height="431"/></clipPath><g clip-path="url(#clipA)"><radialGradient id="radA" cx="302" cy="255" r="236" gradientUnits="userSpaceOnUse"><stop offset="0.88" stop-color="#fff"/><stop offset="1" stop-color="#000"/></radialGradient><mask id="maskA" maskUnits="userSpaceOnUse" x="0" y="0" width="600" height="500"><rect x="0" y="0" width="600" height="500" fill="#000"/><ellipse cx="302" cy="255" rx="236" ry="236" fill="url(#radA)"/></mask><g mask="url(#maskA)"><rect x="80" y="30" width="450" height="450" fill="#000" fill-opacity="0.05"/><line x1="706.5" y1="194.5" x2="594.8" y2="130" stroke="#000" stroke-opacity="0.2" stroke-width="11" stroke-linecap="round" filter="url(#g4_5)"/><line x1="594.8" y1="130" x2="483.1" y2="194.5" stroke="#000" stroke-opacity="0.2" stroke-width="11" stroke-linecap="round" filter="url(#g4_5)"/><line x1="483.1" y1="194.5" x2="483.1" y2="323.5" stroke="#000" stroke-opacity="0.2" stroke-width="11" stroke-linecap="round" filter="url(#g4_5)"/><line x1="483.1" y1="323.5" x2="594.8" y2="388" stroke="#000" stroke-opacity="0.2" stroke-width="11" stroke-linecap="round" filter="url(#g4_5)"/><line x1="594.8" y1="388" x2="706.5" y2="323.5" stroke="#000" stroke-opacity="0.2" stroke-width="11" stroke-linecap="round" filter="url(#g4_5)"/><line x1="706.5" y1="323.5" x2="706.5" y2="194.5" stroke="#000" stroke-opacity="0.2" stroke-width="11" stroke-linecap="round" filter="url(#g4_5)"/><line x1="701.8" y1="259" x2="648.3" y2="166.3" stroke="#000" stroke-opacity="0.2" stroke-width="10" stroke-linecap="round" filter="url(#g4_5)"/><line x1="648.3" y1="166.3" x2="541.3" y2="166.3" stroke="#000" stroke-opacity="0.2" stroke-width="10" stroke-linecap="round" filter="url(#g4_5)"/><line x1="541.3" y1="166.3" x2="487.8" y2="259" stroke="#000" stroke-opacity="0.2" stroke-width="10" stroke-linecap="round" filter="url(#g4_5)"/><line x1="487.8" y1="259" x2="541.3" y2="351.7" stroke="#000" stroke-opacity="0.2" stroke-width="10" stroke-linecap="round" filter="url(#g4_5)"/><line x1="541.3" y1="351.7" x2="648.3" y2="351.7" stroke="#000" stroke-opacity="0.2" stroke-width="10" stroke-linecap="round" filter="url(#g4_5)"/><line x1="648.3" y1="351.7" x2="701.8" y2="259" stroke="#000" stroke-opacity="0.2" stroke-width="10" stroke-linecap="round" filter="url(#g4_5)"/><line x1="560.1" y1="-59.1" x2="448.4" y2="-123.6" stroke="#000" stroke-opacity="0.2" stroke-width="11" stroke-linecap="round" filter="url(#g4_5)"/><line x1="448.4" y1="-123.6" x2="336.7" y2="-59.1" stroke="#000" stroke-opacity="0.2" stroke-width="11" stroke-linecap="round" filter="url(#g4_5)"/><line x1="336.7" y1="-59.1" x2="336.7" y2="69.9" stroke="#000" stroke-opacity="0.2" stroke-width="11" stroke-linecap="round" filter="url(#g4_5)"/><line x1="336.7" y1="69.9" x2="448.4" y2="134.4" stroke="#000" stroke-opacity="0.2" stroke-width="11" stroke-linecap="round" filter="url(#g4_5)"/><line x1="448.4" y1="134.4" x2="560.1" y2="69.9" stroke="#000" stroke-opacity="0.2" stroke-width="11" stroke-linecap="round" filter="url(#g4_5)"/><line x1="560.1" y1="69.9" x2="560.1" y2="-59.1" stroke="#000" stroke-opacity="0.2" stroke-width="11" stroke-linecap="round" filter="url(#g4_5)"/><line x1="555.4" y1="5.4" x2="501.9" y2="-87.3" stroke="#000" stroke-opacity="0.2" stroke-width="10" stroke-linecap="round" filter="url(#g4_5)"/><line x1="501.9" y1="-87.3" x2="394.9" y2="-87.3" stroke="#000" stroke-opacity="0.2" stroke-width="10" stroke-linecap="round" filter="url(#g4_5)"/><line x1="394.9" y1="-87.3" x2="341.4" y2="5.4" stroke="#000" stroke-opacity="0.2" stroke-width="10" stroke-linecap="round" filter="url(#g4_5)"/><line x1="341.4" y1="5.4" x2="394.9" y2="98.1" stroke="#000" stroke-opacity="0.2" stroke-width="10" stroke-linecap="round" filter="url(#g4_5)"/><line x1="394.9" y1="98.1" x2="501.9" y2="98.1" stroke="#000" stroke-opacity="0.2" stroke-width="10" stroke-linecap="round" filter="url(#g4_5)"/><line x1="501.9" y1="98.1" x2="555.4" y2="5.4" stroke="#000" stroke-opacity="0.2" stroke-width="10" stroke-linecap="round" filter="url(#g4_5)"/><line x1="267.3" y1="-59.1" x2="155.6" y2="-123.6" stroke="#000" stroke-opacity="0.2" stroke-width="11" stroke-linecap="round" filter="url(#g4_5)"/><line x1="155.6" y1="-123.6" x2="43.9" y2="-59.1" stroke="#000" stroke-opacity="0.2" stroke-width="11" stroke-linecap="round" filter="url(#g4_5)"/><line x1="43.9" y1="-59.1" x2="43.9" y2="69.9" stroke="#000" stroke-opacity="0.2" stroke-width="11" stroke-linecap="round" filter="url(#g4_5)"/><line x1="43.9" y1="69.9" x2="155.6" y2="134.4" stroke="#000" stroke-opacity="0.2" stroke-width="11" stroke-linecap="round" filter="url(#g4_5)"/><line x1="155.6" y1="134.4" x2="267.3" y2="69.9" stroke="#000" stroke-opacity="0.2" stroke-width="11" stroke-linecap="round" filter="url(#g4_5)"/><line x1="267.3" y1="69.9" x2="267.3" y2="-59.1" stroke="#000" stroke-opacity="0.2" stroke-width="11" stroke-linecap="round" filter="url(#g4_5)"/><line x1="262.6" y1="5.4" x2="209.1" y2="-87.3" stroke="#000" stroke-opacity="0.2" stroke-width="10" stroke-linecap="round" filter="url(#g4_5)"/><line x1="209.1" y1="-87.3" x2="102.1" y2="-87.3" stroke="#000" stroke-opacity="0.2" stroke-width="10" stroke-linecap="round" filter="url(#g4_5)"/><line x1="102.1" y1="-87.3" x2="48.6" y2="5.4" stroke="#000" stroke-opacity="0.2" stroke-width="10" stroke-linecap="round" filter="url(#g4_5)"/><line x1="48.6" y1="5.4" x2="102.1" y2="98.1" stroke="#000" stroke-opacity="0.2" stroke-width="10" stroke-linecap="round" filter="url(#g4_5)"/><line x1="102.1" y1="98.1" x2="209.1" y2="98.1" stroke="#000" stroke-opacity="0.2" stroke-width="10" stroke-linecap="round" filter="url(#g4_5)"/><line x1="209.1" y1="98.1" x2="262.6" y2="5.4" stroke="#000" stroke-opacity="0.2" stroke-width="10" stroke-linecap="round" filter="url(#g4_5)"/><line x1="120.9" y1="194.5" x2="9.2" y2="130" stroke="#000" stroke-opacity="0.2" stroke-width="11" stroke-linecap="round" filter="url(#g4_5)"/><line x1="9.2" y1="130" x2="-102.5" y2="194.5" stroke="#000" stroke-opacity="0.2" stroke-width="11" stroke-linecap="round" filter="url(#g4_5)"/><line x1="-102.5" y1="194.5" x2="-102.5" y2="323.5" stroke="#000" stroke-opacity="0.2" stroke-width="11" stroke-linecap="round" filter="url(#g4_5)"/><line x1="-102.5" y1="323.5" x2="9.2" y2="388" stroke="#000" stroke-opacity="0.2" stroke-width="11" stroke-linecap="round" filter="url(#g4_5)"/><line x1="9.2" y1="388" x2="120.9" y2="323.5" stroke="#000" stroke-opacity="0.2" stroke-width="11" stroke-linecap="round" filter="url(#g4_5)"/><line x1="120.9" y1="323.5" x2="120.9" y2="194.5" stroke="#000" stroke-opacity="0.2" stroke-width="11" stroke-linecap="round" filter="url(#g4_5)"/><line x1="116.2" y1="259" x2="62.7" y2="166.3" stroke="#000" stroke-opacity="0.2" stroke-width="10" stroke-linecap="round" filter="url(#g4_5)"/><line x1="62.7" y1="166.3" x2="-44.3" y2="166.3" stroke="#000" stroke-opacity="0.2" stroke-width="10" stroke-linecap="round" filter="url(#g4_5)"/><line x1="-44.3" y1="166.3" x2="-97.8" y2="259" stroke="#000" stroke-opacity="0.2" stroke-width="10" stroke-linecap="round" filter="url(#g4_5)"/><line x1="-97.8" y1="259" x2="-44.3" y2="351.7" stroke="#000" stroke-opacity="0.2" stroke-width="10" stroke-linecap="round" filter="url(#g4_5)"/><line x1="-44.3" y1="351.7" x2="62.7" y2="351.7" stroke="#000" stroke-opacity="0.2" stroke-width="10" stroke-linecap="round" filter="url(#g4_5)"/><line x1="62.7" y1="351.7" x2="116.2" y2="259" stroke="#000" stroke-opacity="0.2" stroke-width="10" stroke-linecap="round" filter="url(#g4_5)"/><line x1="267.3" y1="448.1" x2="155.6" y2="383.6" stroke="#000" stroke-opacity="0.2" stroke-width="11" stroke-linecap="round" filter="url(#g4_5)"/><line x1="155.6" y1="383.6" x2="43.9" y2="448.1" stroke="#000" stroke-opacity="0.2" stroke-width="11" stroke-linecap="round" filter="url(#g4_5)"/><line x1="43.9" y1="448.1" x2="43.9" y2="577.1" stroke="#000" stroke-opacity="0.2" stroke-width="11" stroke-linecap="round" filter="url(#g4_5)"/><line x1="43.9" y1="577.1" x2="155.6" y2="641.6" stroke="#000" stroke-opacity="0.2" stroke-width="11" stroke-linecap="round" filter="url(#g4_5)"/><line x1="155.6" y1="641.6" x2="267.3" y2="577.1" stroke="#000" stroke-opacity="0.2" stroke-width="11" stroke-linecap="round" filter="url(#g4_5)"/><line x1="267.3" y1="577.1" x2="267.3" y2="448.1" stroke="#000" stroke-opacity="0.2" stroke-width="11" stroke-linecap="round" filter="url(#g4_5)"/><line x1="262.6" y1="512.6" x2="209.1" y2="419.9" stroke="#000" stroke-opacity="0.2" stroke-width="10" stroke-linecap="round" filter="url(#g4_5)"/><line x1="209.1" y1="419.9" x2="102.1" y2="419.9" stroke="#000" stroke-opacity="0.2" stroke-width="10" stroke-linecap="round" filter="url(#g4_5)"/><line x1="102.1" y1="419.9" x2="48.6" y2="512.6" stroke="#000" stroke-opacity="0.2" stroke-width="10" stroke-linecap="round" filter="url(#g4_5)"/><line x1="48.6" y1="512.6" x2="102.1" y2="605.3" stroke="#000" stroke-opacity="0.2" stroke-width="10" stroke-linecap="round" filter="url(#g4_5)"/><line x1="102.1" y1="605.3" x2="209.1" y2="605.3" stroke="#000" stroke-opacity="0.2" stroke-width="10" stroke-linecap="round" filter="url(#g4_5)"/><line x1="209.1" y1="605.3" x2="262.6" y2="512.6" stroke="#000" stroke-opacity="0.2" stroke-width="10" stroke-linecap="round" filter="url(#g4_5)"/><line x1="560.1" y1="448.1" x2="448.4" y2="383.6" stroke="#000" stroke-opacity="0.2" stroke-width="11" stroke-linecap="round" filter="url(#g4_5)"/><line x1="448.4" y1="383.6" x2="336.7" y2="448.1" stroke="#000" stroke-opacity="0.2" stroke-width="11" stroke-linecap="round" filter="url(#g4_5)"/><line x1="336.7" y1="448.1" x2="336.7" y2="577.1" stroke="#000" stroke-opacity="0.2" stroke-width="11" stroke-linecap="round" filter="url(#g4_5)"/><line x1="336.7" y1="577.1" x2="448.4" y2="641.6" stroke="#000" stroke-opacity="0.2" stroke-width="11" stroke-linecap="round" filter="url(#g4_5)"/><line x1="448.4" y1="641.6" x2="560.1" y2="577.1" stroke="#000" stroke-opacity="0.2" stroke-width="11" stroke-linecap="round" filter="url(#g4_5)"/><line x1="560.1" y1="577.1" x2="560.1" y2="448.1" stroke="#000" stroke-opacity="0.2" stroke-width="11" stroke-linecap="round" filter="url(#g4_5)"/><line x1="555.4" y1="512.6" x2="501.9" y2="419.9" stroke="#000" stroke-opacity="0.2" stroke-width="10" stroke-linecap="round" filter="url(#g4_5)"/><line x1="501.9" y1="419.9" x2="394.9" y2="419.9" stroke="#000" stroke-opacity="0.2" stroke-width="10" stroke-linecap="round" filter="url(#g4_5)"/><line x1="394.9" y1="419.9" x2="341.4" y2="512.6" stroke="#000" stroke-opacity="0.2" stroke-width="10" stroke-linecap="round" filter="url(#g4_5)"/><line x1="341.4" y1="512.6" x2="394.9" y2="605.3" stroke="#000" stroke-opacity="0.2" stroke-width="10" stroke-linecap="round" filter="url(#g4_5)"/><line x1="394.9" y1="605.3" x2="501.9" y2="605.3" stroke="#000" stroke-opacity="0.2" stroke-width="10" stroke-linecap="round" filter="url(#g4_5)"/><line x1="501.9" y1="605.3" x2="555.4" y2="512.6" stroke="#000" stroke-opacity="0.2" stroke-width="10" stroke-linecap="round" filter="url(#g4_5)"/><circle cx="302" cy="259" r="150" fill="none" stroke="#000" stroke-opacity="0.06" stroke-width="40" filter="url(#g15_0)"/><circle cx="302" cy="259" r="75" fill="none" stroke="#000" stroke-opacity="0.05" stroke-width="30" filter="url(#g12_0)"/><linearGradient id="ag1" gradientUnits="userSpaceOnUse" x1="413.7" y1="194.5" x2="302" y2="130"><stop offset="0" stop-color="#000" stop-opacity="0.3"/><stop offset="0.5" stop-color="#000" stop-opacity="0.5"/><stop offset="0.8" stop-color="#000" stop-opacity="0.9"/><stop offset="1" stop-color="#000" stop-opacity="0.7"/></linearGradient><line x1="413.7" y1="194.5" x2="302" y2="130" stroke="url(#ag1)" stroke-width="14" stroke-linecap="round" filter="url(#g5_5)"/><linearGradient id="ag2" gradientUnits="userSpaceOnUse" x1="302" y1="130" x2="190.3" y2="194.5"><stop offset="0" stop-color="#000" stop-opacity="0.6"/><stop offset="0.3" stop-color="#000" stop-opacity="0.7"/><stop offset="0.7" stop-color="#000" stop-opacity="0.9"/><stop offset="1" stop-color="#000" stop-opacity="0.6"/></linearGradient><line x1="302" y1="130" x2="190.3" y2="194.5" stroke="url(#ag2)" stroke-width="15" stroke-linecap="round" filter="url(#g6_0)"/><linearGradient id="ag3" gradientUnits="userSpaceOnUse" x1="190.3" y1="194.5" x2="190.3" y2="323.5"><stop offset="0" stop-color="#000" stop-opacity="0.3"/><stop offset="0.1" stop-color="#000" stop-opacity="0.8"/><stop offset="0.5" stop-color="#000" stop-opacity="1"/><stop offset="0.8" stop-color="#000" stop-opacity="0.7"/><stop offset="1" stop-color="#000" stop-opacity="0.3"/></linearGradient><line x1="190.3" y1="194.5" x2="190.3" y2="323.5" stroke="url(#ag3)" stroke-width="15" stroke-linecap="round" filter="url(#g6_0)"/><line x1="190.3" y1="323.5" x2="302" y2="388" stroke="#000" stroke-opacity="0.3" stroke-width="10" stroke-linecap="round" filter="url(#g4_0)"/><line x1="302" y1="388" x2="413.7" y2="323.5" stroke="#000" stroke-opacity="0.3" stroke-width="10" stroke-linecap="round" filter="url(#g4_0)"/><linearGradient id="ag4" gradientUnits="userSpaceOnUse" x1="413.7" y1="323.5" x2="413.7" y2="194.5"><stop offset="0" stop-color="#000" stop-opacity="0.3"/><stop offset="0.3" stop-color="#000" stop-opacity="0.8"/><stop offset="0.6" stop-color="#000" stop-opacity="1"/><stop offset="0.8" stop-color="#000" stop-opacity="1"/><stop offset="1" stop-color="#000" stop-opacity="0.6"/></linearGradient><line x1="413.7" y1="323.5" x2="413.7" y2="194.5" stroke="url(#ag4)" stroke-width="16" stroke-linecap="round" filter="url(#g6_5)"/><line x1="409" y1="259" x2="355.5" y2="166.3" stroke="#000" stroke-opacity="0.8" stroke-width="12" stroke-linecap="round" filter="url(#g5_0)"/><line x1="355.5" y1="166.3" x2="248.5" y2="166.3" stroke="#000" stroke-opacity="0.5" stroke-width="10" stroke-linecap="round" filter="url(#g4_0)"/><line x1="248.5" y1="166.3" x2="195" y2="259" stroke="#000" stroke-opacity="0.9" stroke-width="12" stroke-linecap="round" filter="url(#g5_0)"/><line x1="195" y1="259" x2="248.5" y2="351.7" stroke="#000" stroke-opacity="0.8" stroke-width="12" stroke-linecap="round" filter="url(#g5_0)"/><line x1="248.5" y1="351.7" x2="355.5" y2="351.7" stroke="#000" stroke-opacity="0.5" stroke-width="10" stroke-linecap="round" filter="url(#g4_0)"/><line x1="355.5" y1="351.7" x2="409" y2="259" stroke="#000" stroke-opacity="0.9" stroke-width="12" stroke-linecap="round" filter="url(#g5_0)"/><linearGradient id="alphaG" gradientUnits="userSpaceOnUse" x1="0" y1="215" x2="0" y2="303"><stop offset="0" stop-color="#000" stop-opacity="0.55"/><stop offset="0.55" stop-color="#000" stop-opacity="0.45"/><stop offset="1" stop-color="#000" stop-opacity="0.22"/></linearGradient><circle cx="302" cy="259" r="42" fill="none" stroke="url(#alphaG)" stroke-width="8" filter="url(#g3_0)"/><path d="M448.4 289 Q476.3 259 448.4 229 Q420.5 259 448.4 289 Z" fill="none" stroke="#000" stroke-opacity="0.8" stroke-width="8" filter="url(#g3_0)"/><path d="M360.2 111.2 h30 a9 9 0 0 1 9 9 v16 a9 9 0 0 1 -9 9 h-30 a9 9 0 0 1 -9 -9 v-16 a9 9 0 0 1 9 -9 Z" fill="none" stroke="#000" stroke-opacity="0.3" stroke-width="7" filter="url(#g3_5)"/><path d="M213.8 111.2 h30 a9 9 0 0 1 9 9 v16 a9 9 0 0 1 -9 9 h-30 a9 9 0 0 1 -9 -9 v-16 a9 9 0 0 1 9 -9 Z" fill="none" stroke="#000" stroke-opacity="0.3" stroke-width="7" filter="url(#g3_5)"/><path d="M155.6 229 Q127.7 259 155.6 289 Q183.5 259 155.6 229 Z" fill="none" stroke="#000" stroke-opacity="0.8" stroke-width="8" filter="url(#g3_0)"/><path d="M209.8 360.8 h32 a9 9 0 0 1 9 9 v20 a9 9 0 0 1 -9 9 h-32 a9 9 0 0 1 -9 -9 v-20 a9 9 0 0 1 9 -9 Z" fill="none" stroke="#000" stroke-opacity="0.7" stroke-width="8" filter="url(#g3_0)"/><path d="M362.2 360.8 h32 a9 9 0 0 1 9 9 v20 a9 9 0 0 1 -9 9 h-32 a9 9 0 0 1 -9 -9 v-20 a9 9 0 0 1 9 -9 Z" fill="none" stroke="#000" stroke-opacity="0.7" stroke-width="8" filter="url(#g3_0)"/><ellipse cx="449" cy="282" rx="10" ry="16" fill="#000" fill-opacity="0.7" filter="url(#g5_0)"/><ellipse cx="156" cy="283" rx="12" ry="12" fill="#000" fill-opacity="0.6" filter="url(#g5_0)"/><linearGradient id="ag5" gradientUnits="userSpaceOnUse" x1="488" y1="222" x2="488" y2="305"><stop offset="0" stop-color="#000" stop-opacity="0.3"/><stop offset="0.3" stop-color="#000" stop-opacity="1"/><stop offset="0.8" stop-color="#000" stop-opacity="1"/><stop offset="1" stop-color="#000" stop-opacity="0.3"/></linearGradient><line x1="488" y1="222" x2="488" y2="305" stroke="url(#ag5)" stroke-width="13" stroke-linecap="round" filter="url(#g5_0)"/><linearGradient id="ag6" gradientUnits="userSpaceOnUse" x1="112" y1="200" x2="114" y2="330"><stop offset="0" stop-color="#000" stop-opacity="0.2"/><stop offset="0.5" stop-color="#000" stop-opacity="0.5"/><stop offset="1" stop-color="#000" stop-opacity="0.3"/></linearGradient><line x1="112" y1="200" x2="114" y2="330" stroke="url(#ag6)" stroke-width="11" stroke-linecap="round" filter="url(#g4_5)"/><line x1="196" y1="362" x2="410" y2="362" stroke="#000" stroke-opacity="0.2" stroke-width="9" stroke-linecap="round" filter="url(#g4_0)"/><line x1="86" y1="381" x2="200" y2="398" stroke="#000" stroke-opacity="0.2" stroke-width="9" stroke-linecap="round" filter="url(#g4_0)"/><line x1="248" y1="408" x2="275" y2="475" stroke="#000" stroke-opacity="0.2" stroke-width="9" stroke-linecap="round" filter="url(#g4_0)"/><line x1="356" y1="408" x2="330" y2="475" stroke="#000" stroke-opacity="0.2" stroke-width="9" stroke-linecap="round" filter="url(#g4_0)"/><line x1="420" y1="400" x2="517" y2="380" stroke="#000" stroke-opacity="0.1" stroke-width="9" stroke-linecap="round" filter="url(#g4_0)"/><line x1="487" y1="345" x2="506" y2="390" stroke="#000" stroke-opacity="0.5" stroke-width="8" stroke-linecap="round" filter="url(#g3_0)"/></g></g><g clip-path="url(#clipA)"><line x1="448.4" y1="174.5" x2="302" y2="90" stroke="#a84058" stroke-width="1.7" stroke-dasharray="8 5"/><line x1="302" y1="90" x2="155.6" y2="174.5" stroke="#a84058" stroke-width="1.7" stroke-dasharray="8 5"/><line x1="155.6" y1="174.5" x2="155.6" y2="343.5" stroke="#b07080" stroke-width="1.8" stroke-dasharray="8 5"/><line x1="448.4" y1="343.5" x2="448.4" y2="174.5" stroke="#a04060" stroke-width="2" stroke-dasharray="8 5"/><line x1="155.6" y1="343.5" x2="302" y2="428" stroke="#a84058" stroke-width="1.7" stroke-dasharray="8 5"/><line x1="302" y1="428" x2="448.4" y2="343.5" stroke="#a84058" stroke-width="1.7" stroke-dasharray="8 5"/><line x1="448.4" y1="174.5" x2="594.7" y2="90" stroke="#a84058" stroke-width="1.7" stroke-dasharray="8 5"/><line x1="155.6" y1="174.5" x2="9.3" y2="90" stroke="#a84058" stroke-width="1.7" stroke-dasharray="8 5"/><line x1="155.6" y1="343.5" x2="9.3" y2="428" stroke="#a84058" stroke-width="1.7" stroke-dasharray="8 5"/><line x1="448.4" y1="343.5" x2="594.7" y2="428" stroke="#a84058" stroke-width="1.7" stroke-dasharray="8 5"/><line x1="302" y1="428" x2="302" y2="480" stroke="#b0a0a8" stroke-width="1.6" stroke-dasharray="8 5"/></g><line x1="86.5" y1="259" x2="517.5" y2="259" stroke="#e8192c" stroke-width="2.6"/><line x1="302" y1="43" x2="302" y2="311" stroke="#e8192c" stroke-width="2.6"/><circle cx="302" cy="259" r="6.8" fill="#e8192c"/><circle cx="302" cy="92" r="6.8" fill="#e8192c"/><circle cx="447" cy="259" r="6.8" fill="#e8192c"/><text x="313" y="103" font-size="28" font-style="italic" fill="#e8192c">K</text><line x1="320" y1="73.5" x2="334" y2="73.5" stroke="#e8192c" stroke-width="2.2"/><text x="310" y="298" font-size="28" fill="#e8192c" font-family="'Liberation Serif', 'Times New Roman', serif">&#915;</text><line x1="311" y1="271.5" x2="328" y2="271.5" stroke="#e8192c" stroke-width="2.2"/><text x="453" y="301" font-size="28" font-style="italic" fill="#e8192c">M</text><line x1="463" y1="272.5" x2="478" y2="272.5" stroke="#e8192c" stroke-width="2.2"/><text x="219" y="142" font-size="27" fill="#e8192c" font-family="'Liberation Serif', 'Times New Roman', serif">&#948;</text><text x="181" y="199" font-size="27" fill="#e8192c" font-family="'Liberation Serif', 'Times New Roman', serif">&#947;</text><text x="222" y="226" font-size="27" fill="#e8192c" font-family="'Liberation Serif', 'Times New Roman', serif">&#946;</text><text x="260" y="245" font-size="28" fill="#e8192c" font-family="'Liberation Serif', 'Times New Roman', serif">&#945;</text><text x="412" y="454" font-size="30" fill="#e8192c"><tspan font-style="italic">E</tspan><tspan font-size="22" dy="6">B</tspan><tspan dy="-6"> = </tspan><tspan font-style="italic">E</tspan><tspan font-size="22" dy="6">0</tspan></text><line x1="185" y1="474" x2="185" y2="459" stroke="#333" stroke-width="1.6"/><text x="185" y="501" font-size="25" text-anchor="middle">-0.5</text><line x1="86.5" y1="376" x2="100.5" y2="376" stroke="#333" stroke-width="1.6"/><text x="79.5" y="385" font-size="25" text-anchor="end">-0.5</text><line x1="302" y1="474" x2="302" y2="459" stroke="#333" stroke-width="1.6"/><text x="302" y="501" font-size="25" text-anchor="middle">0</text><line x1="86.5" y1="259" x2="100.5" y2="259" stroke="#333" stroke-width="1.6"/><text x="79.5" y="268" font-size="25" text-anchor="end">0</text><line x1="419" y1="474" x2="419" y2="459" stroke="#333" stroke-width="1.6"/><text x="419" y="501" font-size="25" text-anchor="middle">0.5</text><line x1="86.5" y1="142" x2="100.5" y2="142" stroke="#333" stroke-width="1.6"/><text x="79.5" y="151" font-size="25" text-anchor="end">0.5</text><rect x="86.5" y="43" width="431" height="431" fill="none" stroke="#333" stroke-width="1.8"/><linearGradient id="cbGray" x1="0" y1="0" x2="0" y2="1"><stop offset="0" stop-color="#111"/><stop offset="0.3" stop-color="#555"/><stop offset="0.65" stop-color="#aaa"/><stop offset="1" stop-color="#fafafa"/></linearGradient><rect x="540" y="327" width="18" height="125" fill="url(#cbGray)" stroke="#555" stroke-width="1.2"/><text x="549" y="315.5" font-size="22" text-anchor="middle">High</text><text x="549" y="474" font-size="22" text-anchor="middle">Low</text><text x="30" y="35" font-size="31" font-weight="bold" stroke="#000" stroke-width="0.8">a</text><text transform="translate(34 261) rotate(-90)" text-anchor="middle" font-size="30"><tspan font-style="italic">k</tspan><tspan font-size="21" font-style="italic" dy="6">y</tspan><tspan dy="-6">(1/&#197;)</tspan></text><clipPath id="clipD"><rect x="86" y="525.2" width="430.5" height="431.3"/></clipPath><g clip-path="url(#clipD)"><line x1="447.4" y1="656.5" x2="301" y2="572" stroke="#b8b8b8" stroke-width="1.8" stroke-dasharray="8 7"/><line x1="301" y1="572" x2="154.6" y2="656.5" stroke="#b8b8b8" stroke-width="1.8" stroke-dasharray="8 7"/><line x1="154.6" y1="656.5" x2="154.6" y2="825.5" stroke="#b8b8b8" stroke-width="1.8" stroke-dasharray="8 7"/><line x1="154.6" y1="825.5" x2="301" y2="910" stroke="#b8b8b8" stroke-width="1.8" stroke-dasharray="8 7"/><line x1="301" y1="910" x2="447.4" y2="825.5" stroke="#b8b8b8" stroke-width="1.8" stroke-dasharray="8 7"/><line x1="447.4" y1="825.5" x2="447.4" y2="656.5" stroke="#b8b8b8" stroke-width="1.8" stroke-dasharray="8 7"/><path d="M-22.7 449.9 L-22.3 446.3 L-22 442.8 L-22 439.3 L-22.3 435.8 L-22.8 432.4 L-23.7 429.1 L-25 425.9 L-26.5 422.9 L-28.3 420.1 L-30.5 417.4 L-32.9 415 L-35.5 412.8 L-38.4 410.8 L-41.5 409.1 L-44.7 407.5 L-48 406.2" fill="none" stroke="#30c830" stroke-width="2.1" stroke-linejoin="round"/><path d="M-44.7 407.5 L-48 406.2 L-51.4 405 L-54.8 404 L-58.2 403.1 L-61.5 402.2 L-64.8 401.5 L-68 400.7 L-71.1 400 L-74.1 399.1 L-76.9 398.2 L-79.6 397.2 L-82.2 396.1 L-84.7 394.7 L-87.1 393.2 L-89.4 391.6 L-91.6 389.7 L-93.8 387.7 L-96 385.6 L-98.2 383.3 L-100.5 380.9 L-102.8 378.4 L-105.2 375.9 L-107.7 373.4 L-110.3 371 L-113 368.7 L-115.8 366.5" fill="none" stroke="#e81818" stroke-width="2.1" stroke-linejoin="round"/><path d="M-113 368.7 L-115.8 366.5 L-118.7 364.5 L-121.8 362.7 L-124.9 361.2 L-128.2 360 L-131.5 359.1 L-134.8 358.6 L-138.2 358.4 L-141.6 358.6 L-144.9 359.1 L-148.2 360 L-151.5 361.2 L-154.6 362.7 L-157.7 364.5 L-160.6 366.5 L-163.4 368.7" fill="none" stroke="#30c830" stroke-width="2.1" stroke-linejoin="round"/><path d="M-160.6 366.5 L-163.4 368.7 L-166.1 371 L-168.7 373.4 L-171.2 375.9 L-173.6 378.4 L-175.9 380.9 L-178.2 383.3 L-180.4 385.6 L-182.6 387.7 L-184.8 389.7 L-187 391.6 L-189.3 393.2 L-191.7 394.7 L-194.2 396.1 L-196.8 397.2 L-199.5 398.2 L-202.3 399.1 L-205.3 400 L-208.4 400.7 L-211.6 401.5 L-214.9 402.2 L-218.2 403.1 L-221.6 404 L-225 405 L-228.4 406.2 L-231.7 407.5" fill="none" stroke="#e81818" stroke-width="2.1" stroke-linejoin="round"/><path d="M-228.4 406.2 L-231.7 407.5 L-234.9 409.1 L-238 410.8 L-240.9 412.8 L-243.5 415 L-245.9 417.4 L-248.1 420.1 L-249.9 422.9 L-251.4 425.9 L-252.7 429.1 L-253.6 432.4 L-254.1 435.8 L-254.4 439.3 L-254.4 442.8 L-254.1 446.3 L-253.7 449.9" fill="none" stroke="#30c830" stroke-width="2.1" stroke-linejoin="round"/><path d="M-254.1 446.3 L-253.7 449.9 L-253 453.4 L-252.2 456.9 L-251.3 460.3 L-250.3 463.6 L-249.3 466.8 L-248.4 470 L-247.5 473 L-246.7 476 L-246.1 478.9 L-245.6 481.8 L-245.3 484.6 L-245.2 487.4 L-245.3 490.2 L-245.6 493 L-246.1 495.9 L-246.7 498.8 L-247.5 501.8 L-248.4 504.8 L-249.3 508 L-250.3 511.2 L-251.3 514.5 L-252.2 517.9 L-253 521.4 L-253.7 524.9 L-254.1 528.5" fill="none" stroke="#e81818" stroke-width="2.1" stroke-linejoin="round"/><path d="M-253.7 524.9 L-254.1 528.5 L-254.4 532 L-254.4 535.5 L-254.1 539 L-253.6 542.4 L-252.7 545.7 L-251.4 548.9 L-249.9 551.9 L-248.1 554.7 L-245.9 557.4 L-243.5 559.8 L-240.9 562 L-238 564 L-234.9 565.7 L-231.7 567.3 L-228.4 568.6" fill="none" stroke="#30c830" stroke-width="2.1" stroke-linejoin="round"/><path d="M-231.7 567.3 L-228.4 568.6 L-225 569.8 L-221.6 570.8 L-218.2 571.7 L-214.9 572.6 L-211.6 573.3 L-208.4 574.1 L-205.3 574.8 L-202.3 575.7 L-199.5 576.6 L-196.8 577.6 L-194.2 578.7 L-191.7 580.1 L-189.3 581.6 L-187 583.2 L-184.8 585.1 L-182.6 587.1 L-180.4 589.2 L-178.2 591.5 L-175.9 593.9 L-173.6 596.4 L-171.2 598.9 L-168.7 601.4 L-166.1 603.8 L-163.4 606.1 L-160.6 608.3" fill="none" stroke="#e81818" stroke-width="2.1" stroke-linejoin="round"/><path d="M-163.4 606.1 L-160.6 608.3 L-157.7 610.3 L-154.6 612.1 L-151.5 613.6 L-148.2 614.8 L-144.9 615.7 L-141.6 616.2 L-138.2 616.4 L-134.8 616.2 L-131.5 615.7 L-128.2 614.8 L-124.9 613.6 L-121.8 612.1 L-118.7 610.3 L-115.8 608.3 L-113 606.1" fill="none" stroke="#30c830" stroke-width="2.1" stroke-linejoin="round"/><path d="M-115.8 608.3 L-113 606.1 L-110.3 603.8 L-107.7 601.4 L-105.2 598.9 L-102.8 596.4 L-100.5 593.9 L-98.2 591.5 L-96 589.2 L-93.8 587.1 L-91.6 585.1 L-89.4 583.2 L-87.1 581.6 L-84.7 580.1 L-82.2 578.7 L-79.6 577.6 L-76.9 576.6 L-74.1 575.7 L-71.1 574.8 L-68 574.1 L-64.8 573.3 L-61.5 572.6 L-58.2 571.7 L-54.8 570.8 L-51.4 569.8 L-48 568.6 L-44.7 567.3" fill="none" stroke="#e81818" stroke-width="2.1" stroke-linejoin="round"/><path d="M-48 568.6 L-44.7 567.3 L-41.5 565.7 L-38.4 564 L-35.5 562 L-32.9 559.8 L-30.5 557.4 L-28.3 554.7 L-26.5 551.9 L-25 548.9 L-23.7 545.7 L-22.8 542.4 L-22.3 539 L-22 535.5 L-22 532 L-22.3 528.5 L-22.7 524.9" fill="none" stroke="#30c830" stroke-width="2.1" stroke-linejoin="round"/><path d="M-22.3 528.5 L-22.7 524.9 L-23.4 521.4 L-24.2 517.9 L-25.1 514.5 L-26.1 511.2 L-27.1 508 L-28 504.8 L-28.9 501.8 L-29.7 498.8 L-30.3 495.9 L-30.8 493 L-31.1 490.2 L-31.2 487.4 L-31.1 484.6 L-30.8 481.8 L-30.3 478.9 L-29.7 476 L-28.9 473 L-28 470 L-27.1 466.8 L-26.1 463.6 L-25.1 460.3 L-24.2 456.9 L-23.4 453.4 L-22.7 449.9 L-22.3 446.3" fill="none" stroke="#e81818" stroke-width="2.1" stroke-linejoin="round"/><path d="M-44.8 475.1 L-46.1 472.8 L-47.6 470.6 L-49.2 468.5 L-50.9 466.4 L-52.7 464.5 L-54.5 462.6 L-56.4 460.8 L-58.2 459.1 L-60 457.4 L-61.7 455.7 L-63.3 454 L-64.8 452.4 L-66.1 450.7 L-67.4 448.9 L-68.5 447.1 L-69.5 445.3 L-70.4 443.3 L-71.1 441.3 L-71.8 439.2 L-72.5 437 L-73.1 434.7 L-73.7 432.3 L-74.3 429.8 L-74.9 427.3 L-75.6 424.8 L-76.4 422.3 L-77.3 419.8 L-78.4 417.3 L-79.5 415 L-80.9 412.7" fill="none" stroke="#eca23a" stroke-width="2.1" stroke-linejoin="round"/><path d="M-79.5 415 L-80.9 412.7 L-82.4 410.6 L-84 408.6 L-85.9 406.8 L-87.8 405.2 L-90 403.8 L-92.2 402.7 L-94.6 401.8 L-97 401.1 L-99.6 400.6 L-102.2 400.4 L-104.8 400.4" fill="none" stroke="#2020d0" stroke-width="2.1" stroke-linejoin="round"/><path d="M-102.2 400.4 L-104.8 400.4 L-107.4 400.6 L-110.1 400.9 L-112.7 401.3 L-115.3 401.9 L-117.8 402.6 L-120.3 403.3 L-122.7 404 L-125.1 404.6 L-127.4 405.3 L-129.6 405.8 L-131.8 406.3 L-134 406.6 L-136.1 406.8 L-138.2 406.9 L-140.3 406.8 L-142.4 406.6 L-144.6 406.3 L-146.8 405.8 L-149 405.3 L-151.3 404.6 L-153.7 404 L-156.1 403.3 L-158.6 402.6 L-161.1 401.9 L-163.7 401.3 L-166.3 400.9 L-169 400.6 L-171.6 400.4 L-174.2 400.4" fill="none" stroke="#eca23a" stroke-width="2.1" stroke-linejoin="round"/><path d="M-171.6 400.4 L-174.2 400.4 L-176.8 400.6 L-179.4 401.1 L-181.8 401.8 L-184.2 402.7 L-186.4 403.8 L-188.6 405.2 L-190.5 406.8 L-192.4 408.6 L-194 410.6 L-195.5 412.7 L-196.9 415" fill="none" stroke="#2020d0" stroke-width="2.1" stroke-linejoin="round"/><path d="M-195.5 412.7 L-196.9 415 L-198 417.3 L-199.1 419.8 L-200 422.3 L-200.8 424.8 L-201.5 427.3 L-202.1 429.8 L-202.7 432.3 L-203.3 434.7 L-203.9 437 L-204.6 439.2 L-205.3 441.3 L-206 443.3 L-206.9 445.3 L-207.9 447.1 L-209 448.9 L-210.3 450.7 L-211.6 452.4 L-213.1 454 L-214.7 455.7 L-216.4 457.4 L-218.2 459.1 L-220 460.8 L-221.9 462.6 L-223.7 464.5 L-225.5 466.4 L-227.2 468.5 L-228.8 470.6 L-230.3 472.8 L-231.6 475.1" fill="none" stroke="#eca23a" stroke-width="2.1" stroke-linejoin="round"/><path d="M-230.3 472.8 L-231.6 475.1 L-232.7 477.5 L-233.5 479.9 L-234.2 482.4 L-234.6 484.9 L-234.7 487.4 L-234.6 489.9 L-234.2 492.4 L-233.5 494.9 L-232.7 497.3 L-231.6 499.7 L-230.3 502" fill="none" stroke="#2020d0" stroke-width="2.1" stroke-linejoin="round"/><path d="M-231.6 499.7 L-230.3 502 L-228.8 504.2 L-227.2 506.3 L-225.5 508.4 L-223.7 510.3 L-221.9 512.2 L-220 514 L-218.2 515.7 L-216.4 517.4 L-214.7 519.1 L-213.1 520.8 L-211.6 522.4 L-210.3 524.1 L-209 525.9 L-207.9 527.6 L-206.9 529.5 L-206 531.5 L-205.3 533.5 L-204.6 535.6 L-203.9 537.8 L-203.3 540.1 L-202.7 542.5 L-202.1 545 L-201.5 547.5 L-200.8 550 L-200 552.5 L-199.1 555 L-198 557.5 L-196.9 559.8 L-195.5 562.1" fill="none" stroke="#eca23a" stroke-width="2.1" stroke-linejoin="round"/><path d="M-196.9 559.8 L-195.5 562.1 L-194 564.2 L-192.4 566.2 L-190.5 568 L-188.6 569.6 L-186.5 571 L-184.2 572.1 L-181.8 573 L-179.4 573.7 L-176.8 574.2 L-174.2 574.4 L-171.6 574.4" fill="none" stroke="#2020d0" stroke-width="2.1" stroke-linejoin="round"/><path d="M-174.2 574.4 L-171.6 574.4 L-169 574.2 L-166.3 573.9 L-163.7 573.5 L-161.1 572.9 L-158.6 572.2 L-156.1 571.5 L-153.7 570.8 L-151.3 570.2 L-149 569.5 L-146.8 569 L-144.6 568.5 L-142.4 568.2 L-140.3 568 L-138.2 567.9 L-136.1 568 L-134 568.2 L-131.8 568.5 L-129.6 569 L-127.4 569.5 L-125.1 570.2 L-122.7 570.8 L-120.3 571.5 L-117.8 572.2 L-115.3 572.9 L-112.7 573.5 L-110.1 573.9 L-107.4 574.2 L-104.8 574.4 L-102.2 574.4" fill="none" stroke="#eca23a" stroke-width="2.1" stroke-linejoin="round"/><path d="M-104.8 574.4 L-102.2 574.4 L-99.6 574.2 L-97 573.7 L-94.6 573 L-92.2 572.1 L-90 571 L-87.8 569.6 L-85.9 568 L-84 566.2 L-82.4 564.2 L-80.9 562.1 L-79.5 559.8 L-78.4 557.5" fill="none" stroke="#2020d0" stroke-width="2.1" stroke-linejoin="round"/><path d="M-79.5 559.8 L-78.4 557.5 L-77.3 555 L-76.4 552.5 L-75.6 550 L-74.9 547.5 L-74.3 545 L-73.7 542.5 L-73.1 540.1 L-72.5 537.8 L-71.8 535.6 L-71.1 533.5 L-70.4 531.5 L-69.5 529.5 L-68.5 527.6 L-67.4 525.9 L-66.1 524.1 L-64.8 522.4 L-63.3 520.8 L-61.7 519.1 L-60 517.4 L-58.2 515.7 L-56.4 514 L-54.5 512.2 L-52.7 510.3 L-50.9 508.4 L-49.2 506.3 L-47.6 504.2 L-46.1 502 L-44.8 499.7" fill="none" stroke="#eca23a" stroke-width="2.1" stroke-linejoin="round"/><path d="M-46.1 502 L-44.8 499.7 L-43.7 497.3 L-42.9 494.9 L-42.2 492.4 L-41.8 489.9 L-41.7 487.4 L-41.8 484.9 L-42.2 482.4 L-42.9 479.9 L-43.7 477.5 L-44.8 475.1 L-46.1 472.8" fill="none" stroke="#2020d0" stroke-width="2.1" stroke-linejoin="round"/><path d="M-22.7 957.1 L-22.3 953.5 L-22 950 L-22 946.5 L-22.3 943 L-22.8 939.6 L-23.7 936.3 L-25 933.1 L-26.5 930.1 L-28.3 927.3 L-30.5 924.6 L-32.9 922.2 L-35.5 920 L-38.4 918 L-41.5 916.3 L-44.7 914.7 L-48 913.4" fill="none" stroke="#30c830" stroke-width="2.1" stroke-linejoin="round"/><path d="M-44.7 914.7 L-48 913.4 L-51.4 912.2 L-54.8 911.2 L-58.2 910.3 L-61.5 909.4 L-64.8 908.7 L-68 907.9 L-71.1 907.2 L-74.1 906.3 L-76.9 905.4 L-79.6 904.4 L-82.2 903.3 L-84.7 901.9 L-87.1 900.4 L-89.4 898.8 L-91.6 896.9 L-93.8 894.9 L-96 892.8 L-98.2 890.5 L-100.5 888.1 L-102.8 885.6 L-105.2 883.1 L-107.7 880.6 L-110.3 878.2 L-113 875.9 L-115.8 873.7" fill="none" stroke="#e81818" stroke-width="2.1" stroke-linejoin="round"/><path d="M-113 875.9 L-115.8 873.7 L-118.7 871.7 L-121.8 869.9 L-124.9 868.4 L-128.2 867.2 L-131.5 866.3 L-134.8 865.8 L-138.2 865.6 L-141.6 865.8 L-144.9 866.3 L-148.2 867.2 L-151.5 868.4 L-154.6 869.9 L-157.7 871.7 L-160.6 873.7 L-163.4 875.9" fill="none" stroke="#30c830" stroke-width="2.1" stroke-linejoin="round"/><path d="M-160.6 873.7 L-163.4 875.9 L-166.1 878.2 L-168.7 880.6 L-171.2 883.1 L-173.6 885.6 L-175.9 888.1 L-178.2 890.5 L-180.4 892.8 L-182.6 894.9 L-184.8 896.9 L-187 898.8 L-189.3 900.4 L-191.7 901.9 L-194.2 903.3 L-196.8 904.4 L-199.5 905.4 L-202.3 906.3 L-205.3 907.2 L-208.4 907.9 L-211.6 908.7 L-214.9 909.4 L-218.2 910.3 L-221.6 911.2 L-225 912.2 L-228.4 913.4 L-231.7 914.7" fill="none" stroke="#e81818" stroke-width="2.1" stroke-linejoin="round"/><path d="M-228.4 913.4 L-231.7 914.7 L-234.9 916.3 L-238 918 L-240.9 920 L-243.5 922.2 L-245.9 924.6 L-248.1 927.3 L-249.9 930.1 L-251.4 933.1 L-252.7 936.3 L-253.6 939.6 L-254.1 943 L-254.4 946.5 L-254.4 950 L-254.1 953.5 L-253.7 957.1" fill="none" stroke="#30c830" stroke-width="2.1" stroke-linejoin="round"/><path d="M-254.1 953.5 L-253.7 957.1 L-253 960.6 L-252.2 964.1 L-251.3 967.5 L-250.3 970.8 L-249.3 974 L-248.4 977.2 L-247.5 980.2 L-246.7 983.2 L-246.1 986.1 L-245.6 989 L-245.3 991.8 L-245.2 994.6 L-245.3 997.4 L-245.6 1000.2 L-246.1 1003.1 L-246.7 1006 L-247.5 1009 L-248.4 1012 L-249.3 1015.2 L-250.3 1018.4 L-251.3 1021.7 L-252.2 1025.1 L-253 1028.6 L-253.7 1032.1 L-254.1 1035.7" fill="none" stroke="#e81818" stroke-width="2.1" stroke-linejoin="round"/><path d="M-253.7 1032.1 L-254.1 1035.7 L-254.4 1039.2 L-254.4 1042.7 L-254.1 1046.2 L-253.6 1049.6 L-252.7 1052.9 L-251.4 1056.1 L-249.9 1059.1 L-248.1 1061.9 L-245.9 1064.6 L-243.5 1067 L-240.9 1069.2 L-238 1071.2 L-234.9 1072.9 L-231.7 1074.5 L-228.4 1075.8" fill="none" stroke="#30c830" stroke-width="2.1" stroke-linejoin="round"/><path d="M-231.7 1074.5 L-228.4 1075.8 L-225 1077 L-221.6 1078 L-218.2 1078.9 L-214.9 1079.8 L-211.6 1080.5 L-208.4 1081.3 L-205.3 1082 L-202.3 1082.9 L-199.5 1083.8 L-196.8 1084.8 L-194.2 1085.9 L-191.7 1087.3 L-189.3 1088.8 L-187 1090.4 L-184.8 1092.3 L-182.6 1094.3 L-180.4 1096.4 L-178.2 1098.7 L-175.9 1101.1 L-173.6 1103.6 L-171.2 1106.1 L-168.7 1108.6 L-166.1 1111 L-163.4 1113.3 L-160.6 1115.5" fill="none" stroke="#e81818" stroke-width="2.1" stroke-linejoin="round"/><path d="M-163.4 1113.3 L-160.6 1115.5 L-157.7 1117.5 L-154.6 1119.3 L-151.5 1120.8 L-148.2 1122 L-144.9 1122.9 L-141.6 1123.4 L-138.2 1123.6 L-134.8 1123.4 L-131.5 1122.9 L-128.2 1122 L-124.9 1120.8 L-121.8 1119.3 L-118.7 1117.5 L-115.8 1115.5 L-113 1113.3" fill="none" stroke="#30c830" stroke-width="2.1" stroke-linejoin="round"/><path d="M-115.8 1115.5 L-113 1113.3 L-110.3 1111 L-107.7 1108.6 L-105.2 1106.1 L-102.8 1103.6 L-100.5 1101.1 L-98.2 1098.7 L-96 1096.4 L-93.8 1094.3 L-91.6 1092.3 L-89.4 1090.4 L-87.1 1088.8 L-84.7 1087.3 L-82.2 1085.9 L-79.6 1084.8 L-76.9 1083.8 L-74.1 1082.9 L-71.1 1082 L-68 1081.3 L-64.8 1080.5 L-61.5 1079.8 L-58.2 1078.9 L-54.8 1078 L-51.4 1077 L-48 1075.8 L-44.7 1074.5" fill="none" stroke="#e81818" stroke-width="2.1" stroke-linejoin="round"/><path d="M-48 1075.8 L-44.7 1074.5 L-41.5 1072.9 L-38.4 1071.2 L-35.5 1069.2 L-32.9 1067 L-30.5 1064.6 L-28.3 1061.9 L-26.5 1059.1 L-25 1056.1 L-23.7 1052.9 L-22.8 1049.6 L-22.3 1046.2 L-22 1042.7 L-22 1039.2 L-22.3 1035.7 L-22.7 1032.1" fill="none" stroke="#30c830" stroke-width="2.1" stroke-linejoin="round"/><path d="M-22.3 1035.7 L-22.7 1032.1 L-23.4 1028.6 L-24.2 1025.1 L-25.1 1021.7 L-26.1 1018.4 L-27.1 1015.2 L-28 1012 L-28.9 1009 L-29.7 1006 L-30.3 1003.1 L-30.8 1000.2 L-31.1 997.4 L-31.2 994.6 L-31.1 991.8 L-30.8 989 L-30.3 986.1 L-29.7 983.2 L-28.9 980.2 L-28 977.2 L-27.1 974 L-26.1 970.8 L-25.1 967.5 L-24.2 964.1 L-23.4 960.6 L-22.7 957.1 L-22.3 953.5" fill="none" stroke="#e81818" stroke-width="2.1" stroke-linejoin="round"/><path d="M-44.8 982.3 L-46.1 980 L-47.6 977.8 L-49.2 975.7 L-50.9 973.6 L-52.7 971.7 L-54.5 969.8 L-56.4 968 L-58.2 966.3 L-60 964.6 L-61.7 962.9 L-63.3 961.2 L-64.8 959.6 L-66.1 957.9 L-67.4 956.1 L-68.5 954.4 L-69.5 952.5 L-70.4 950.5 L-71.1 948.5 L-71.8 946.4 L-72.5 944.2 L-73.1 941.9 L-73.7 939.5 L-74.3 937 L-74.9 934.5 L-75.6 932 L-76.4 929.5 L-77.3 927 L-78.4 924.5 L-79.5 922.2 L-80.9 919.9" fill="none" stroke="#eca23a" stroke-width="2.1" stroke-linejoin="round"/><path d="M-79.5 922.2 L-80.9 919.9 L-82.4 917.8 L-84 915.8 L-85.9 914 L-87.8 912.4 L-90 911 L-92.2 909.9 L-94.6 909 L-97 908.3 L-99.6 907.8 L-102.2 907.6 L-104.8 907.6" fill="none" stroke="#2020d0" stroke-width="2.1" stroke-linejoin="round"/><path d="M-102.2 907.6 L-104.8 907.6 L-107.4 907.8 L-110.1 908.1 L-112.7 908.5 L-115.3 909.1 L-117.8 909.8 L-120.3 910.5 L-122.7 911.2 L-125.1 911.8 L-127.4 912.5 L-129.6 913 L-131.8 913.5 L-134 913.8 L-136.1 914 L-138.2 914.1 L-140.3 914 L-142.4 913.8 L-144.6 913.5 L-146.8 913 L-149 912.5 L-151.3 911.8 L-153.7 911.2 L-156.1 910.5 L-158.6 909.8 L-161.1 909.1 L-163.7 908.5 L-166.3 908.1 L-169 907.8 L-171.6 907.6 L-174.2 907.6" fill="none" stroke="#eca23a" stroke-width="2.1" stroke-linejoin="round"/><path d="M-171.6 907.6 L-174.2 907.6 L-176.8 907.8 L-179.4 908.3 L-181.8 909 L-184.2 909.9 L-186.4 911 L-188.6 912.4 L-190.5 914 L-192.4 915.8 L-194 917.8 L-195.5 919.9 L-196.9 922.2" fill="none" stroke="#2020d0" stroke-width="2.1" stroke-linejoin="round"/><path d="M-195.5 919.9 L-196.9 922.2 L-198 924.5 L-199.1 927 L-200 929.5 L-200.8 932 L-201.5 934.5 L-202.1 937 L-202.7 939.5 L-203.3 941.9 L-203.9 944.2 L-204.6 946.4 L-205.3 948.5 L-206 950.5 L-206.9 952.5 L-207.9 954.4 L-209 956.1 L-210.3 957.9 L-211.6 959.6 L-213.1 961.2 L-214.7 962.9 L-216.4 964.6 L-218.2 966.3 L-220 968 L-221.9 969.8 L-223.7 971.7 L-225.5 973.6 L-227.2 975.7 L-228.8 977.8 L-230.3 980 L-231.6 982.3" fill="none" stroke="#eca23a" stroke-width="2.1" stroke-linejoin="round"/><path d="M-230.3 980 L-231.6 982.3 L-232.7 984.7 L-233.5 987.1 L-234.2 989.6 L-234.6 992.1 L-234.7 994.6 L-234.6 997.1 L-234.2 999.6 L-233.5 1002.1 L-232.7 1004.5 L-231.6 1006.9 L-230.3 1009.2" fill="none" stroke="#2020d0" stroke-width="2.1" stroke-linejoin="round"/><path d="M-231.6 1006.9 L-230.3 1009.2 L-228.8 1011.4 L-227.2 1013.5 L-225.5 1015.6 L-223.7 1017.5 L-221.9 1019.4 L-220 1021.2 L-218.2 1022.9 L-216.4 1024.6 L-214.7 1026.3 L-213.1 1028 L-211.6 1029.6 L-210.3 1031.3 L-209 1033.1 L-207.9 1034.8 L-206.9 1036.7 L-206 1038.7 L-205.3 1040.7 L-204.6 1042.8 L-203.9 1045 L-203.3 1047.3 L-202.7 1049.7 L-202.1 1052.2 L-201.5 1054.7 L-200.8 1057.2 L-200 1059.7 L-199.1 1062.2 L-198 1064.7 L-196.9 1067 L-195.5 1069.3" fill="none" stroke="#eca23a" stroke-width="2.1" stroke-linejoin="round"/><path d="M-196.9 1067 L-195.5 1069.3 L-194 1071.4 L-192.4 1073.4 L-190.5 1075.2 L-188.6 1076.8 L-186.5 1078.2 L-184.2 1079.3 L-181.8 1080.2 L-179.4 1080.9 L-176.8 1081.4 L-174.2 1081.6 L-171.6 1081.6" fill="none" stroke="#2020d0" stroke-width="2.1" stroke-linejoin="round"/><path d="M-174.2 1081.6 L-171.6 1081.6 L-169 1081.4 L-166.3 1081.1 L-163.7 1080.7 L-161.1 1080.1 L-158.6 1079.4 L-156.1 1078.7 L-153.7 1078 L-151.3 1077.4 L-149 1076.7 L-146.8 1076.2 L-144.6 1075.7 L-142.4 1075.4 L-140.3 1075.2 L-138.2 1075.1 L-136.1 1075.2 L-134 1075.4 L-131.8 1075.7 L-129.6 1076.2 L-127.4 1076.7 L-125.1 1077.4 L-122.7 1078 L-120.3 1078.7 L-117.8 1079.4 L-115.3 1080.1 L-112.7 1080.7 L-110.1 1081.1 L-107.4 1081.4 L-104.8 1081.6 L-102.2 1081.6" fill="none" stroke="#eca23a" stroke-width="2.1" stroke-linejoin="round"/><path d="M-104.8 1081.6 L-102.2 1081.6 L-99.6 1081.4 L-97 1080.9 L-94.6 1080.2 L-92.2 1079.3 L-90 1078.2 L-87.8 1076.8 L-85.9 1075.2 L-84 1073.4 L-82.4 1071.4 L-80.9 1069.3 L-79.5 1067 L-78.4 1064.7" fill="none" stroke="#2020d0" stroke-width="2.1" stroke-linejoin="round"/><path d="M-79.5 1067 L-78.4 1064.7 L-77.3 1062.2 L-76.4 1059.7 L-75.6 1057.2 L-74.9 1054.7 L-74.3 1052.2 L-73.7 1049.7 L-73.1 1047.3 L-72.5 1045 L-71.8 1042.8 L-71.1 1040.7 L-70.4 1038.7 L-69.5 1036.7 L-68.5 1034.8 L-67.4 1033.1 L-66.1 1031.3 L-64.8 1029.6 L-63.3 1028 L-61.7 1026.3 L-60 1024.6 L-58.2 1022.9 L-56.4 1021.2 L-54.5 1019.4 L-52.7 1017.5 L-50.9 1015.6 L-49.2 1013.5 L-47.6 1011.4 L-46.1 1009.2 L-44.8 1006.9" fill="none" stroke="#eca23a" stroke-width="2.1" stroke-linejoin="round"/><path d="M-46.1 1009.2 L-44.8 1006.9 L-43.7 1004.5 L-42.9 1002.1 L-42.2 999.6 L-41.8 997.1 L-41.7 994.6 L-41.8 992.1 L-42.2 989.6 L-42.9 987.1 L-43.7 984.7 L-44.8 982.3 L-46.1 980" fill="none" stroke="#2020d0" stroke-width="2.1" stroke-linejoin="round"/><path d="M123.7 703.5 L124.1 699.9 L124.4 696.4 L124.4 692.9 L124.1 689.4 L123.6 686 L122.7 682.7 L121.4 679.5 L119.9 676.5 L118.1 673.7 L115.9 671 L113.5 668.6 L110.9 666.4 L108 664.4 L104.9 662.7 L101.7 661.1 L98.4 659.8" fill="none" stroke="#30c830" stroke-width="2.1" stroke-linejoin="round"/><path d="M101.7 661.1 L98.4 659.8 L95 658.6 L91.6 657.6 L88.2 656.7 L84.9 655.8 L81.6 655.1 L78.4 654.3 L75.3 653.6 L72.3 652.7 L69.5 651.8 L66.8 650.8 L64.2 649.7 L61.7 648.3 L59.3 646.8 L57 645.2 L54.8 643.3 L52.6 641.3 L50.4 639.2 L48.2 636.9 L45.9 634.5 L43.6 632 L41.2 629.5 L38.7 627 L36.1 624.6 L33.4 622.3 L30.6 620.1" fill="none" stroke="#e81818" stroke-width="2.1" stroke-linejoin="round"/><path d="M33.4 622.3 L30.6 620.1 L27.7 618.1 L24.6 616.3 L21.5 614.8 L18.2 613.6 L14.9 612.7 L11.6 612.2 L8.2 612 L4.8 612.2 L1.5 612.7 L-1.8 613.6 L-5.1 614.8 L-8.2 616.3 L-11.3 618.1 L-14.2 620.1 L-17 622.3" fill="none" stroke="#30c830" stroke-width="2.1" stroke-linejoin="round"/><path d="M-14.2 620.1 L-17 622.3 L-19.7 624.6 L-22.3 627 L-24.8 629.5 L-27.2 632 L-29.5 634.5 L-31.8 636.9 L-34 639.2 L-36.2 641.3 L-38.4 643.3 L-40.6 645.2 L-42.9 646.8 L-45.3 648.3 L-47.8 649.7 L-50.4 650.8 L-53.1 651.8 L-55.9 652.7 L-58.9 653.6 L-62 654.3 L-65.2 655.1 L-68.5 655.8 L-71.8 656.7 L-75.2 657.6 L-78.6 658.6 L-82 659.8 L-85.3 661.1" fill="none" stroke="#e81818" stroke-width="2.1" stroke-linejoin="round"/><path d="M-82 659.8 L-85.3 661.1 L-88.5 662.7 L-91.6 664.4 L-94.5 666.4 L-97.1 668.6 L-99.5 671 L-101.7 673.7 L-103.5 676.5 L-105 679.5 L-106.3 682.7 L-107.2 686 L-107.7 689.4 L-108 692.9 L-108 696.4 L-107.7 699.9 L-107.3 703.5" fill="none" stroke="#30c830" stroke-width="2.1" stroke-linejoin="round"/><path d="M-107.7 699.9 L-107.3 703.5 L-106.6 707 L-105.8 710.5 L-104.9 713.9 L-103.9 717.2 L-102.9 720.4 L-102 723.6 L-101.1 726.6 L-100.3 729.6 L-99.7 732.5 L-99.2 735.4 L-98.9 738.2 L-98.8 741 L-98.9 743.8 L-99.2 746.6 L-99.7 749.5 L-100.3 752.4 L-101.1 755.4 L-102 758.4 L-102.9 761.6 L-103.9 764.8 L-104.9 768.1 L-105.8 771.5 L-106.6 775 L-107.3 778.5 L-107.7 782.1" fill="none" stroke="#e81818" stroke-width="2.1" stroke-linejoin="round"/><path d="M-107.3 778.5 L-107.7 782.1 L-108 785.6 L-108 789.1 L-107.7 792.6 L-107.2 796 L-106.3 799.3 L-105 802.5 L-103.5 805.5 L-101.7 808.3 L-99.5 811 L-97.1 813.4 L-94.5 815.6 L-91.6 817.6 L-88.5 819.3 L-85.3 820.9 L-82 822.2" fill="none" stroke="#30c830" stroke-width="2.1" stroke-linejoin="round"/><path d="M-85.3 820.9 L-82 822.2 L-78.6 823.4 L-75.2 824.4 L-71.8 825.3 L-68.5 826.2 L-65.2 826.9 L-62 827.7 L-58.9 828.4 L-55.9 829.3 L-53.1 830.2 L-50.4 831.2 L-47.8 832.3 L-45.3 833.7 L-42.9 835.2 L-40.6 836.8 L-38.4 838.7 L-36.2 840.7 L-34 842.8 L-31.8 845.1 L-29.5 847.5 L-27.2 850 L-24.8 852.5 L-22.3 855 L-19.7 857.4 L-17 859.7 L-14.2 861.9" fill="none" stroke="#e81818" stroke-width="2.1" stroke-linejoin="round"/><path d="M-17 859.7 L-14.2 861.9 L-11.3 863.9 L-8.2 865.7 L-5.1 867.2 L-1.8 868.4 L1.5 869.3 L4.8 869.8 L8.2 870 L11.6 869.8 L14.9 869.3 L18.2 868.4 L21.5 867.2 L24.6 865.7 L27.7 863.9 L30.6 861.9 L33.4 859.7" fill="none" stroke="#30c830" stroke-width="2.1" stroke-linejoin="round"/><path d="M30.6 861.9 L33.4 859.7 L36.1 857.4 L38.7 855 L41.2 852.5 L43.6 850 L45.9 847.5 L48.2 845.1 L50.4 842.8 L52.6 840.7 L54.8 838.7 L57 836.8 L59.3 835.2 L61.7 833.7 L64.2 832.3 L66.8 831.2 L69.5 830.2 L72.3 829.3 L75.3 828.4 L78.4 827.7 L81.6 826.9 L84.9 826.2 L88.2 825.3 L91.6 824.4 L95 823.4 L98.4 822.2 L101.7 820.9" fill="none" stroke="#e81818" stroke-width="2.1" stroke-linejoin="round"/><path d="M98.4 822.2 L101.7 820.9 L104.9 819.3 L108 817.6 L110.9 815.6 L113.5 813.4 L115.9 811 L118.1 808.3 L119.9 805.5 L121.4 802.5 L122.7 799.3 L123.6 796 L124.1 792.6 L124.4 789.1 L124.4 785.6 L124.1 782.1 L123.7 778.5" fill="none" stroke="#30c830" stroke-width="2.1" stroke-linejoin="round"/><path d="M124.1 782.1 L123.7 778.5 L123 775 L122.2 771.5 L121.3 768.1 L120.3 764.8 L119.3 761.6 L118.4 758.4 L117.5 755.4 L116.7 752.4 L116.1 749.5 L115.6 746.6 L115.3 743.8 L115.2 741 L115.3 738.2 L115.6 735.4 L116.1 732.5 L116.7 729.6 L117.5 726.6 L118.4 723.6 L119.3 720.4 L120.3 717.2 L121.3 713.9 L122.2 710.5 L123 707 L123.7 703.5 L124.1 699.9" fill="none" stroke="#e81818" stroke-width="2.1" stroke-linejoin="round"/><path d="M101.6 728.7 L100.3 726.4 L98.8 724.2 L97.2 722.1 L95.5 720 L93.7 718.1 L91.9 716.2 L90 714.4 L88.2 712.7 L86.4 711 L84.7 709.3 L83.1 707.6 L81.6 706 L80.3 704.3 L79 702.5 L77.9 700.8 L76.9 698.9 L76 696.9 L75.3 694.9 L74.6 692.8 L73.9 690.6 L73.3 688.3 L72.7 685.9 L72.1 683.4 L71.5 680.9 L70.8 678.4 L70 675.9 L69.1 673.4 L68 670.9 L66.9 668.6 L65.5 666.3" fill="none" stroke="#eca23a" stroke-width="2.1" stroke-linejoin="round"/><path d="M66.9 668.6 L65.5 666.3 L64 664.2 L62.4 662.2 L60.5 660.4 L58.6 658.8 L56.5 657.4 L54.2 656.3 L51.8 655.4 L49.4 654.7 L46.8 654.2 L44.2 654 L41.6 654" fill="none" stroke="#2020d0" stroke-width="2.1" stroke-linejoin="round"/><path d="M44.2 654 L41.6 654 L39 654.2 L36.3 654.5 L33.7 654.9 L31.1 655.5 L28.6 656.2 L26.1 656.9 L23.7 657.6 L21.3 658.2 L19 658.9 L16.8 659.4 L14.6 659.9 L12.4 660.2 L10.3 660.4 L8.2 660.5 L6.1 660.4 L4 660.2 L1.8 659.9 L-0.4 659.4 L-2.6 658.9 L-4.9 658.2 L-7.3 657.6 L-9.7 656.9 L-12.2 656.2 L-14.7 655.5 L-17.3 654.9 L-19.9 654.5 L-22.6 654.2 L-25.2 654 L-27.8 654" fill="none" stroke="#eca23a" stroke-width="2.1" stroke-linejoin="round"/><path d="M-25.2 654 L-27.8 654 L-30.4 654.2 L-33 654.7 L-35.4 655.4 L-37.8 656.3 L-40 657.4 L-42.2 658.8 L-44.1 660.4 L-46 662.2 L-47.6 664.2 L-49.1 666.3 L-50.5 668.6" fill="none" stroke="#2020d0" stroke-width="2.1" stroke-linejoin="round"/><path d="M-49.1 666.3 L-50.5 668.6 L-51.6 670.9 L-52.7 673.4 L-53.6 675.9 L-54.4 678.4 L-55.1 680.9 L-55.7 683.4 L-56.3 685.9 L-56.9 688.3 L-57.5 690.6 L-58.2 692.8 L-58.9 694.9 L-59.6 696.9 L-60.5 698.9 L-61.5 700.8 L-62.6 702.5 L-63.9 704.3 L-65.2 706 L-66.7 707.6 L-68.3 709.3 L-70 711 L-71.8 712.7 L-73.6 714.4 L-75.5 716.2 L-77.3 718.1 L-79.1 720 L-80.8 722.1 L-82.4 724.2 L-83.9 726.4 L-85.2 728.7" fill="none" stroke="#eca23a" stroke-width="2.1" stroke-linejoin="round"/><path d="M-83.9 726.4 L-85.2 728.7 L-86.3 731.1 L-87.1 733.5 L-87.8 736 L-88.2 738.5 L-88.3 741 L-88.2 743.5 L-87.8 746 L-87.1 748.5 L-86.3 750.9 L-85.2 753.3 L-83.9 755.6" fill="none" stroke="#2020d0" stroke-width="2.1" stroke-linejoin="round"/><path d="M-85.2 753.3 L-83.9 755.6 L-82.4 757.8 L-80.8 759.9 L-79.1 762 L-77.3 763.9 L-75.5 765.8 L-73.6 767.6 L-71.8 769.3 L-70 771 L-68.3 772.7 L-66.7 774.4 L-65.2 776 L-63.9 777.7 L-62.6 779.5 L-61.5 781.2 L-60.5 783.1 L-59.6 785.1 L-58.9 787.1 L-58.2 789.2 L-57.5 791.4 L-56.9 793.7 L-56.3 796.1 L-55.7 798.6 L-55.1 801.1 L-54.4 803.6 L-53.6 806.1 L-52.7 808.6 L-51.6 811.1 L-50.5 813.4 L-49.1 815.7" fill="none" stroke="#eca23a" stroke-width="2.1" stroke-linejoin="round"/><path d="M-50.5 813.4 L-49.1 815.7 L-47.6 817.8 L-46 819.8 L-44.1 821.6 L-42.2 823.2 L-40.1 824.6 L-37.8 825.7 L-35.4 826.6 L-33 827.3 L-30.4 827.8 L-27.8 828 L-25.2 828" fill="none" stroke="#2020d0" stroke-width="2.1" stroke-linejoin="round"/><path d="M-27.8 828 L-25.2 828 L-22.6 827.8 L-19.9 827.5 L-17.3 827.1 L-14.7 826.5 L-12.2 825.8 L-9.7 825.1 L-7.3 824.4 L-4.9 823.8 L-2.6 823.1 L-0.4 822.6 L1.8 822.1 L4 821.8 L6.1 821.6 L8.2 821.5 L10.3 821.6 L12.4 821.8 L14.6 822.1 L16.8 822.6 L19 823.1 L21.3 823.8 L23.7 824.4 L26.1 825.1 L28.6 825.8 L31.1 826.5 L33.7 827.1 L36.3 827.5 L39 827.8 L41.6 828 L44.2 828" fill="none" stroke="#eca23a" stroke-width="2.1" stroke-linejoin="round"/><path d="M41.6 828 L44.2 828 L46.8 827.8 L49.4 827.3 L51.8 826.6 L54.2 825.7 L56.5 824.6 L58.6 823.2 L60.5 821.6 L62.4 819.8 L64 817.8 L65.5 815.7 L66.9 813.4 L68 811.1" fill="none" stroke="#2020d0" stroke-width="2.1" stroke-linejoin="round"/><path d="M66.9 813.4 L68 811.1 L69.1 808.6 L70 806.1 L70.8 803.6 L71.5 801.1 L72.1 798.6 L72.7 796.1 L73.3 793.7 L73.9 791.4 L74.6 789.2 L75.3 787.1 L76 785.1 L76.9 783.1 L77.9 781.2 L79 779.5 L80.3 777.7 L81.6 776 L83.1 774.4 L84.7 772.7 L86.4 771 L88.2 769.3 L90 767.6 L91.9 765.8 L93.7 763.9 L95.5 762 L97.2 759.9 L98.8 757.8 L100.3 755.6 L101.6 753.3" fill="none" stroke="#eca23a" stroke-width="2.1" stroke-linejoin="round"/><path d="M100.3 755.6 L101.6 753.3 L102.7 750.9 L103.5 748.5 L104.2 746 L104.6 743.5 L104.7 741 L104.6 738.5 L104.2 736 L103.5 733.5 L102.7 731.1 L101.6 728.7 L100.3 726.4" fill="none" stroke="#2020d0" stroke-width="2.1" stroke-linejoin="round"/><path d="M150.2 690.9 Q154.6 698.5 158.9 690.9 Q177.9 670 186.6 643.1 Q190.9 635.5 182.2 635.5 Q154.6 629.5 126.9 635.5 Q118.2 635.5 122.5 643.1 Q131.2 670 150.2 690.9 Z" fill="none" stroke="#111" stroke-width="2.1"/><path d="M146.8 764.1 Q154.6 774 162.4 764.1 L168.1 756.8 Q180.6 741 168.1 725.2 L162.4 717.9 Q154.6 708 146.8 717.9 L141.1 725.2 Q128.6 741 141.1 756.8 L146.8 764.1 Z" fill="none" stroke="#111" stroke-width="2.1"/><path d="M95.4 631.3 Q110 630.7 107.4 620.2 L105.6 612.6 Q101.5 595.8 78.2 596.7 L67.4 597.1 Q52.8 597.7 55.4 608.2 L57.2 615.9 Q61.3 632.6 84.6 631.7 L95.4 631.3 Z" fill="none" stroke="#111" stroke-width="2.1"/><path d="M158.9 791.1 Q154.6 783.5 150.2 791.1 Q131.2 812 122.5 838.9 Q118.2 846.5 126.9 846.5 Q154.6 852.5 182.2 846.5 Q190.9 846.5 186.6 838.9 Q177.9 812 158.9 791.1 Z" fill="none" stroke="#111" stroke-width="2.1"/><path d="M59.6 871.3 Q52.8 884.3 63.2 887.3 L70.7 889.6 Q87.3 894.4 98.2 873.7 L103.2 864.2 Q110 851.3 99.6 848.2 L92.1 846 Q75.5 841.1 64.6 861.9 L59.6 871.3 Z" fill="none" stroke="#111" stroke-width="2.1"/><path d="M270.1 449.9 L270.5 446.3 L270.8 442.8 L270.8 439.3 L270.5 435.8 L270 432.4 L269.1 429.1 L267.8 425.9 L266.3 422.9 L264.5 420.1 L262.3 417.4 L259.9 415 L257.3 412.8 L254.4 410.8 L251.3 409.1 L248.1 407.5 L244.8 406.2" fill="none" stroke="#30c830" stroke-width="2.1" stroke-linejoin="round"/><path d="M248.1 407.5 L244.8 406.2 L241.4 405 L238 404 L234.6 403.1 L231.3 402.2 L228 401.5 L224.8 400.7 L221.7 400 L218.7 399.1 L215.9 398.2 L213.2 397.2 L210.6 396.1 L208.1 394.7 L205.7 393.2 L203.4 391.6 L201.2 389.7 L199 387.7 L196.8 385.6 L194.6 383.3 L192.3 380.9 L190 378.4 L187.6 375.9 L185.1 373.4 L182.5 371 L179.8 368.7 L177 366.5" fill="none" stroke="#e81818" stroke-width="2.1" stroke-linejoin="round"/><path d="M179.8 368.7 L177 366.5 L174.1 364.5 L171 362.7 L167.9 361.2 L164.6 360 L161.3 359.1 L158 358.6 L154.6 358.4 L151.2 358.6 L147.9 359.1 L144.6 360 L141.3 361.2 L138.2 362.7 L135.1 364.5 L132.2 366.5 L129.4 368.7" fill="none" stroke="#30c830" stroke-width="2.1" stroke-linejoin="round"/><path d="M132.2 366.5 L129.4 368.7 L126.7 371 L124.1 373.4 L121.6 375.9 L119.2 378.4 L116.9 380.9 L114.6 383.3 L112.4 385.6 L110.2 387.7 L108 389.7 L105.8 391.6 L103.5 393.2 L101.1 394.7 L98.6 396.1 L96 397.2 L93.3 398.2 L90.5 399.1 L87.5 400 L84.4 400.7 L81.2 401.5 L77.9 402.2 L74.6 403.1 L71.2 404 L67.8 405 L64.4 406.2 L61.1 407.5" fill="none" stroke="#e81818" stroke-width="2.1" stroke-linejoin="round"/><path d="M64.4 406.2 L61.1 407.5 L57.9 409.1 L54.8 410.8 L51.9 412.8 L49.3 415 L46.9 417.4 L44.7 420.1 L42.9 422.9 L41.4 425.9 L40.1 429.1 L39.2 432.4 L38.7 435.8 L38.4 439.3 L38.4 442.8 L38.7 446.3 L39.1 449.9" fill="none" stroke="#30c830" stroke-width="2.1" stroke-linejoin="round"/><path d="M38.7 446.3 L39.1 449.9 L39.8 453.4 L40.6 456.9 L41.5 460.3 L42.5 463.6 L43.5 466.8 L44.4 470 L45.3 473 L46.1 476 L46.7 478.9 L47.2 481.8 L47.5 484.6 L47.6 487.4 L47.5 490.2 L47.2 493 L46.7 495.9 L46.1 498.8 L45.3 501.8 L44.4 504.8 L43.5 508 L42.5 511.2 L41.5 514.5 L40.6 517.9 L39.8 521.4 L39.1 524.9 L38.7 528.5" fill="none" stroke="#e81818" stroke-width="2.1" stroke-linejoin="round"/><path d="M39.1 524.9 L38.7 528.5 L38.4 532 L38.4 535.5 L38.7 539 L39.2 542.4 L40.1 545.7 L41.4 548.9 L42.9 551.9 L44.7 554.7 L46.9 557.4 L49.3 559.8 L51.9 562 L54.8 564 L57.9 565.7 L61.1 567.3 L64.4 568.6" fill="none" stroke="#30c830" stroke-width="2.1" stroke-linejoin="round"/><path d="M61.1 567.3 L64.4 568.6 L67.8 569.8 L71.2 570.8 L74.6 571.7 L77.9 572.6 L81.2 573.3 L84.4 574.1 L87.5 574.8 L90.5 575.7 L93.3 576.6 L96 577.6 L98.6 578.7 L101.1 580.1 L103.5 581.6 L105.8 583.2 L108 585.1 L110.2 587.1 L112.4 589.2 L114.6 591.5 L116.9 593.9 L119.2 596.4 L121.6 598.9 L124.1 601.4 L126.7 603.8 L129.4 606.1 L132.2 608.3" fill="none" stroke="#e81818" stroke-width="2.1" stroke-linejoin="round"/><path d="M129.4 606.1 L132.2 608.3 L135.1 610.3 L138.2 612.1 L141.3 613.6 L144.6 614.8 L147.9 615.7 L151.2 616.2 L154.6 616.4 L158 616.2 L161.3 615.7 L164.6 614.8 L167.9 613.6 L171 612.1 L174.1 610.3 L177 608.3 L179.8 606.1" fill="none" stroke="#30c830" stroke-width="2.1" stroke-linejoin="round"/><path d="M177 608.3 L179.8 606.1 L182.5 603.8 L185.1 601.4 L187.6 598.9 L190 596.4 L192.3 593.9 L194.6 591.5 L196.8 589.2 L199 587.1 L201.2 585.1 L203.4 583.2 L205.7 581.6 L208.1 580.1 L210.6 578.7 L213.2 577.6 L215.9 576.6 L218.7 575.7 L221.7 574.8 L224.8 574.1 L228 573.3 L231.3 572.6 L234.6 571.7 L238 570.8 L241.4 569.8 L244.8 568.6 L248.1 567.3" fill="none" stroke="#e81818" stroke-width="2.1" stroke-linejoin="round"/><path d="M244.8 568.6 L248.1 567.3 L251.3 565.7 L254.4 564 L257.3 562 L259.9 559.8 L262.3 557.4 L264.5 554.7 L266.3 551.9 L267.8 548.9 L269.1 545.7 L270 542.4 L270.5 539 L270.8 535.5 L270.8 532 L270.5 528.5 L270.1 524.9" fill="none" stroke="#30c830" stroke-width="2.1" stroke-linejoin="round"/><path d="M270.5 528.5 L270.1 524.9 L269.4 521.4 L268.6 517.9 L267.7 514.5 L266.7 511.2 L265.7 508 L264.8 504.8 L263.9 501.8 L263.1 498.8 L262.5 495.9 L262 493 L261.7 490.2 L261.6 487.4 L261.7 484.6 L262 481.8 L262.5 478.9 L263.1 476 L263.9 473 L264.8 470 L265.7 466.8 L266.7 463.6 L267.7 460.3 L268.6 456.9 L269.4 453.4 L270.1 449.9 L270.5 446.3" fill="none" stroke="#e81818" stroke-width="2.1" stroke-linejoin="round"/><path d="M248 475.1 L246.7 472.8 L245.2 470.6 L243.6 468.5 L241.9 466.4 L240.1 464.5 L238.3 462.6 L236.4 460.8 L234.6 459.1 L232.8 457.4 L231.1 455.7 L229.5 454 L228 452.4 L226.7 450.7 L225.4 448.9 L224.3 447.1 L223.3 445.3 L222.4 443.3 L221.7 441.3 L221 439.2 L220.3 437 L219.7 434.7 L219.1 432.3 L218.5 429.8 L217.9 427.3 L217.2 424.8 L216.4 422.3 L215.5 419.8 L214.4 417.3 L213.3 415 L211.9 412.7" fill="none" stroke="#eca23a" stroke-width="2.1" stroke-linejoin="round"/><path d="M213.3 415 L211.9 412.7 L210.4 410.6 L208.8 408.6 L206.9 406.8 L205 405.2 L202.9 403.8 L200.6 402.7 L198.2 401.8 L195.8 401.1 L193.2 400.6 L190.6 400.4 L188 400.4" fill="none" stroke="#2020d0" stroke-width="2.1" stroke-linejoin="round"/><path d="M190.6 400.4 L188 400.4 L185.4 400.6 L182.7 400.9 L180.1 401.3 L177.5 401.9 L175 402.6 L172.5 403.3 L170.1 404 L167.7 404.6 L165.4 405.3 L163.2 405.8 L161 406.3 L158.8 406.6 L156.7 406.8 L154.6 406.9 L152.5 406.8 L150.4 406.6 L148.2 406.3 L146 405.8 L143.8 405.3 L141.5 404.6 L139.1 404 L136.7 403.3 L134.2 402.6 L131.7 401.9 L129.1 401.3 L126.5 400.9 L123.8 400.6 L121.2 400.4 L118.6 400.4" fill="none" stroke="#eca23a" stroke-width="2.1" stroke-linejoin="round"/><path d="M121.2 400.4 L118.6 400.4 L116 400.6 L113.4 401.1 L111 401.8 L108.6 402.7 L106.4 403.8 L104.2 405.2 L102.3 406.8 L100.4 408.6 L98.8 410.6 L97.3 412.7 L95.9 415" fill="none" stroke="#2020d0" stroke-width="2.1" stroke-linejoin="round"/><path d="M97.3 412.7 L95.9 415 L94.8 417.3 L93.7 419.8 L92.8 422.3 L92 424.8 L91.3 427.3 L90.7 429.8 L90.1 432.3 L89.5 434.7 L88.9 437 L88.2 439.2 L87.5 441.3 L86.8 443.3 L85.9 445.3 L84.9 447.1 L83.8 448.9 L82.5 450.7 L81.2 452.4 L79.7 454 L78.1 455.7 L76.4 457.4 L74.6 459.1 L72.8 460.8 L70.9 462.6 L69.1 464.5 L67.3 466.4 L65.6 468.5 L64 470.6 L62.5 472.8 L61.2 475.1" fill="none" stroke="#eca23a" stroke-width="2.1" stroke-linejoin="round"/><path d="M62.5 472.8 L61.2 475.1 L60.1 477.5 L59.3 479.9 L58.6 482.4 L58.2 484.9 L58.1 487.4 L58.2 489.9 L58.6 492.4 L59.3 494.9 L60.1 497.3 L61.2 499.7 L62.5 502" fill="none" stroke="#2020d0" stroke-width="2.1" stroke-linejoin="round"/><path d="M61.2 499.7 L62.5 502 L64 504.2 L65.6 506.3 L67.3 508.4 L69.1 510.3 L70.9 512.2 L72.8 514 L74.6 515.7 L76.4 517.4 L78.1 519.1 L79.7 520.8 L81.2 522.4 L82.5 524.1 L83.8 525.9 L84.9 527.6 L85.9 529.5 L86.8 531.5 L87.5 533.5 L88.2 535.6 L88.9 537.8 L89.5 540.1 L90.1 542.5 L90.7 545 L91.3 547.5 L92 550 L92.8 552.5 L93.7 555 L94.8 557.5 L95.9 559.8 L97.3 562.1" fill="none" stroke="#eca23a" stroke-width="2.1" stroke-linejoin="round"/><path d="M95.9 559.8 L97.3 562.1 L98.8 564.2 L100.4 566.2 L102.3 568 L104.2 569.6 L106.3 571 L108.6 572.1 L111 573 L113.4 573.7 L116 574.2 L118.6 574.4 L121.2 574.4" fill="none" stroke="#2020d0" stroke-width="2.1" stroke-linejoin="round"/><path d="M118.6 574.4 L121.2 574.4 L123.8 574.2 L126.5 573.9 L129.1 573.5 L131.7 572.9 L134.2 572.2 L136.7 571.5 L139.1 570.8 L141.5 570.2 L143.8 569.5 L146 569 L148.2 568.5 L150.4 568.2 L152.5 568 L154.6 567.9 L156.7 568 L158.8 568.2 L161 568.5 L163.2 569 L165.4 569.5 L167.7 570.2 L170.1 570.8 L172.5 571.5 L175 572.2 L177.5 572.9 L180.1 573.5 L182.7 573.9 L185.4 574.2 L188 574.4 L190.6 574.4" fill="none" stroke="#eca23a" stroke-width="2.1" stroke-linejoin="round"/><path d="M188 574.4 L190.6 574.4 L193.2 574.2 L195.8 573.7 L198.2 573 L200.6 572.1 L202.9 571 L205 569.6 L206.9 568 L208.8 566.2 L210.4 564.2 L211.9 562.1 L213.3 559.8 L214.4 557.5" fill="none" stroke="#2020d0" stroke-width="2.1" stroke-linejoin="round"/><path d="M213.3 559.8 L214.4 557.5 L215.5 555 L216.4 552.5 L217.2 550 L217.9 547.5 L218.5 545 L219.1 542.5 L219.7 540.1 L220.3 537.8 L221 535.6 L221.7 533.5 L222.4 531.5 L223.3 529.5 L224.3 527.6 L225.4 525.9 L226.7 524.1 L228 522.4 L229.5 520.8 L231.1 519.1 L232.8 517.4 L234.6 515.7 L236.4 514 L238.3 512.2 L240.1 510.3 L241.9 508.4 L243.6 506.3 L245.2 504.2 L246.7 502 L248 499.7" fill="none" stroke="#eca23a" stroke-width="2.1" stroke-linejoin="round"/><path d="M246.7 502 L248 499.7 L249.1 497.3 L249.9 494.9 L250.6 492.4 L251 489.9 L251.1 487.4 L251 484.9 L250.6 482.4 L249.9 479.9 L249.1 477.5 L248 475.1 L246.7 472.8" fill="none" stroke="#2020d0" stroke-width="2.1" stroke-linejoin="round"/><path d="M293.2 510.5 Q301 520.4 308.8 510.5 L314.5 503.2 Q327 487.4 314.5 471.6 L308.8 464.3 Q301 454.4 293.2 464.3 L287.5 471.6 Q275 487.4 287.5 503.2 L293.2 510.5 Z" fill="none" stroke="#111" stroke-width="2.1"/><path d="M150.2 690.8 Q154.6 698.4 159 690.8 Q178 669.9 186.6 643 Q191 635.4 182.2 635.4 Q154.6 629.4 127 635.4 Q118.2 635.4 122.6 643 Q131.2 669.9 150.2 690.8 Z" fill="none" stroke="#111" stroke-width="2.1"/><path d="M67.4 597.1 Q52.8 597.7 55.4 608.2 L57.2 615.8 Q61.3 632.6 84.6 631.7 L95.4 631.3 Q110 630.7 107.4 620.2 L105.6 612.5 Q101.5 595.8 78.2 596.7 L67.4 597.1 Z" fill="none" stroke="#111" stroke-width="2.1"/><path d="M305.3 537.5 Q301 529.9 296.6 537.5 Q277.6 558.4 268.9 585.3 Q264.6 592.9 273.3 592.9 Q301 598.9 328.6 592.9 Q337.3 592.9 333 585.3 Q324.3 558.4 305.3 537.5 Z" fill="none" stroke="#111" stroke-width="2.1"/><path d="M206 617.7 Q199.2 630.7 209.6 633.7 L217.1 636 Q233.7 640.8 244.6 620.1 L249.6 610.6 Q256.4 597.7 246 594.6 L238.5 592.4 Q221.9 587.5 211 608.3 L206 617.7 Z" fill="none" stroke="#111" stroke-width="2.1"/><path d="M270.1 957.1 L270.5 953.5 L270.8 950 L270.8 946.5 L270.5 943 L270 939.6 L269.1 936.3 L267.8 933.1 L266.3 930.1 L264.5 927.3 L262.3 924.6 L259.9 922.2 L257.3 920 L254.4 918 L251.3 916.3 L248.1 914.7 L244.8 913.4" fill="none" stroke="#30c830" stroke-width="2.1" stroke-linejoin="round"/><path d="M248.1 914.7 L244.8 913.4 L241.4 912.2 L238 911.2 L234.6 910.3 L231.3 909.4 L228 908.7 L224.8 907.9 L221.7 907.2 L218.7 906.3 L215.9 905.4 L213.2 904.4 L210.6 903.3 L208.1 901.9 L205.7 900.4 L203.4 898.8 L201.2 896.9 L199 894.9 L196.8 892.8 L194.6 890.5 L192.3 888.1 L190 885.6 L187.6 883.1 L185.1 880.6 L182.5 878.2 L179.8 875.9 L177 873.7" fill="none" stroke="#e81818" stroke-width="2.1" stroke-linejoin="round"/><path d="M179.8 875.9 L177 873.7 L174.1 871.7 L171 869.9 L167.9 868.4 L164.6 867.2 L161.3 866.3 L158 865.8 L154.6 865.6 L151.2 865.8 L147.9 866.3 L144.6 867.2 L141.3 868.4 L138.2 869.9 L135.1 871.7 L132.2 873.7 L129.4 875.9" fill="none" stroke="#30c830" stroke-width="2.1" stroke-linejoin="round"/><path d="M132.2 873.7 L129.4 875.9 L126.7 878.2 L124.1 880.6 L121.6 883.1 L119.2 885.6 L116.9 888.1 L114.6 890.5 L112.4 892.8 L110.2 894.9 L108 896.9 L105.8 898.8 L103.5 900.4 L101.1 901.9 L98.6 903.3 L96 904.4 L93.3 905.4 L90.5 906.3 L87.5 907.2 L84.4 907.9 L81.2 908.7 L77.9 909.4 L74.6 910.3 L71.2 911.2 L67.8 912.2 L64.4 913.4 L61.1 914.7" fill="none" stroke="#e81818" stroke-width="2.1" stroke-linejoin="round"/><path d="M64.4 913.4 L61.1 914.7 L57.9 916.3 L54.8 918 L51.9 920 L49.3 922.2 L46.9 924.6 L44.7 927.3 L42.9 930.1 L41.4 933.1 L40.1 936.3 L39.2 939.6 L38.7 943 L38.4 946.5 L38.4 950 L38.7 953.5 L39.1 957.1" fill="none" stroke="#30c830" stroke-width="2.1" stroke-linejoin="round"/><path d="M38.7 953.5 L39.1 957.1 L39.8 960.6 L40.6 964.1 L41.5 967.5 L42.5 970.8 L43.5 974 L44.4 977.2 L45.3 980.2 L46.1 983.2 L46.7 986.1 L47.2 989 L47.5 991.8 L47.6 994.6 L47.5 997.4 L47.2 1000.2 L46.7 1003.1 L46.1 1006 L45.3 1009 L44.4 1012 L43.5 1015.2 L42.5 1018.4 L41.5 1021.7 L40.6 1025.1 L39.8 1028.6 L39.1 1032.1 L38.7 1035.7" fill="none" stroke="#e81818" stroke-width="2.1" stroke-linejoin="round"/><path d="M39.1 1032.1 L38.7 1035.7 L38.4 1039.2 L38.4 1042.7 L38.7 1046.2 L39.2 1049.6 L40.1 1052.9 L41.4 1056.1 L42.9 1059.1 L44.7 1061.9 L46.9 1064.6 L49.3 1067 L51.9 1069.2 L54.8 1071.2 L57.9 1072.9 L61.1 1074.5 L64.4 1075.8" fill="none" stroke="#30c830" stroke-width="2.1" stroke-linejoin="round"/><path d="M61.1 1074.5 L64.4 1075.8 L67.8 1077 L71.2 1078 L74.6 1078.9 L77.9 1079.8 L81.2 1080.5 L84.4 1081.3 L87.5 1082 L90.5 1082.9 L93.3 1083.8 L96 1084.8 L98.6 1085.9 L101.1 1087.3 L103.5 1088.8 L105.8 1090.4 L108 1092.3 L110.2 1094.3 L112.4 1096.4 L114.6 1098.7 L116.9 1101.1 L119.2 1103.6 L121.6 1106.1 L124.1 1108.6 L126.7 1111 L129.4 1113.3 L132.2 1115.5" fill="none" stroke="#e81818" stroke-width="2.1" stroke-linejoin="round"/><path d="M129.4 1113.3 L132.2 1115.5 L135.1 1117.5 L138.2 1119.3 L141.3 1120.8 L144.6 1122 L147.9 1122.9 L151.2 1123.4 L154.6 1123.6 L158 1123.4 L161.3 1122.9 L164.6 1122 L167.9 1120.8 L171 1119.3 L174.1 1117.5 L177 1115.5 L179.8 1113.3" fill="none" stroke="#30c830" stroke-width="2.1" stroke-linejoin="round"/><path d="M177 1115.5 L179.8 1113.3 L182.5 1111 L185.1 1108.6 L187.6 1106.1 L190 1103.6 L192.3 1101.1 L194.6 1098.7 L196.8 1096.4 L199 1094.3 L201.2 1092.3 L203.4 1090.4 L205.7 1088.8 L208.1 1087.3 L210.6 1085.9 L213.2 1084.8 L215.9 1083.8 L218.7 1082.9 L221.7 1082 L224.8 1081.3 L228 1080.5 L231.3 1079.8 L234.6 1078.9 L238 1078 L241.4 1077 L244.8 1075.8 L248.1 1074.5" fill="none" stroke="#e81818" stroke-width="2.1" stroke-linejoin="round"/><path d="M244.8 1075.8 L248.1 1074.5 L251.3 1072.9 L254.4 1071.2 L257.3 1069.2 L259.9 1067 L262.3 1064.6 L264.5 1061.9 L266.3 1059.1 L267.8 1056.1 L269.1 1052.9 L270 1049.6 L270.5 1046.2 L270.8 1042.7 L270.8 1039.2 L270.5 1035.7 L270.1 1032.1" fill="none" stroke="#30c830" stroke-width="2.1" stroke-linejoin="round"/><path d="M270.5 1035.7 L270.1 1032.1 L269.4 1028.6 L268.6 1025.1 L267.7 1021.7 L266.7 1018.4 L265.7 1015.2 L264.8 1012 L263.9 1009 L263.1 1006 L262.5 1003.1 L262 1000.2 L261.7 997.4 L261.6 994.6 L261.7 991.8 L262 989 L262.5 986.1 L263.1 983.2 L263.9 980.2 L264.8 977.2 L265.7 974 L266.7 970.8 L267.7 967.5 L268.6 964.1 L269.4 960.6 L270.1 957.1 L270.5 953.5" fill="none" stroke="#e81818" stroke-width="2.1" stroke-linejoin="round"/><path d="M248 982.3 L246.7 980 L245.2 977.8 L243.6 975.7 L241.9 973.6 L240.1 971.7 L238.3 969.8 L236.4 968 L234.6 966.3 L232.8 964.6 L231.1 962.9 L229.5 961.2 L228 959.6 L226.7 957.9 L225.4 956.1 L224.3 954.4 L223.3 952.5 L222.4 950.5 L221.7 948.5 L221 946.4 L220.3 944.2 L219.7 941.9 L219.1 939.5 L218.5 937 L217.9 934.5 L217.2 932 L216.4 929.5 L215.5 927 L214.4 924.5 L213.3 922.2 L211.9 919.9" fill="none" stroke="#eca23a" stroke-width="2.1" stroke-linejoin="round"/><path d="M213.3 922.2 L211.9 919.9 L210.4 917.8 L208.8 915.8 L206.9 914 L205 912.4 L202.9 911 L200.6 909.9 L198.2 909 L195.8 908.3 L193.2 907.8 L190.6 907.6 L188 907.6" fill="none" stroke="#2020d0" stroke-width="2.1" stroke-linejoin="round"/><path d="M190.6 907.6 L188 907.6 L185.4 907.8 L182.7 908.1 L180.1 908.5 L177.5 909.1 L175 909.8 L172.5 910.5 L170.1 911.2 L167.7 911.8 L165.4 912.5 L163.2 913 L161 913.5 L158.8 913.8 L156.7 914 L154.6 914.1 L152.5 914 L150.4 913.8 L148.2 913.5 L146 913 L143.8 912.5 L141.5 911.8 L139.1 911.2 L136.7 910.5 L134.2 909.8 L131.7 909.1 L129.1 908.5 L126.5 908.1 L123.8 907.8 L121.2 907.6 L118.6 907.6" fill="none" stroke="#eca23a" stroke-width="2.1" stroke-linejoin="round"/><path d="M121.2 907.6 L118.6 907.6 L116 907.8 L113.4 908.3 L111 909 L108.6 909.9 L106.4 911 L104.2 912.4 L102.3 914 L100.4 915.8 L98.8 917.8 L97.3 919.9 L95.9 922.2" fill="none" stroke="#2020d0" stroke-width="2.1" stroke-linejoin="round"/><path d="M97.3 919.9 L95.9 922.2 L94.8 924.5 L93.7 927 L92.8 929.5 L92 932 L91.3 934.5 L90.7 937 L90.1 939.5 L89.5 941.9 L88.9 944.2 L88.2 946.4 L87.5 948.5 L86.8 950.5 L85.9 952.5 L84.9 954.4 L83.8 956.1 L82.5 957.9 L81.2 959.6 L79.7 961.2 L78.1 962.9 L76.4 964.6 L74.6 966.3 L72.8 968 L70.9 969.8 L69.1 971.7 L67.3 973.6 L65.6 975.7 L64 977.8 L62.5 980 L61.2 982.3" fill="none" stroke="#eca23a" stroke-width="2.1" stroke-linejoin="round"/><path d="M62.5 980 L61.2 982.3 L60.1 984.7 L59.3 987.1 L58.6 989.6 L58.2 992.1 L58.1 994.6 L58.2 997.1 L58.6 999.6 L59.3 1002.1 L60.1 1004.5 L61.2 1006.9 L62.5 1009.2" fill="none" stroke="#2020d0" stroke-width="2.1" stroke-linejoin="round"/><path d="M61.2 1006.9 L62.5 1009.2 L64 1011.4 L65.6 1013.5 L67.3 1015.6 L69.1 1017.5 L70.9 1019.4 L72.8 1021.2 L74.6 1022.9 L76.4 1024.6 L78.1 1026.3 L79.7 1028 L81.2 1029.6 L82.5 1031.3 L83.8 1033.1 L84.9 1034.8 L85.9 1036.7 L86.8 1038.7 L87.5 1040.7 L88.2 1042.8 L88.9 1045 L89.5 1047.3 L90.1 1049.7 L90.7 1052.2 L91.3 1054.7 L92 1057.2 L92.8 1059.7 L93.7 1062.2 L94.8 1064.7 L95.9 1067 L97.3 1069.3" fill="none" stroke="#eca23a" stroke-width="2.1" stroke-linejoin="round"/><path d="M95.9 1067 L97.3 1069.3 L98.8 1071.4 L100.4 1073.4 L102.3 1075.2 L104.2 1076.8 L106.3 1078.2 L108.6 1079.3 L111 1080.2 L113.4 1080.9 L116 1081.4 L118.6 1081.6 L121.2 1081.6" fill="none" stroke="#2020d0" stroke-width="2.1" stroke-linejoin="round"/><path d="M118.6 1081.6 L121.2 1081.6 L123.8 1081.4 L126.5 1081.1 L129.1 1080.7 L131.7 1080.1 L134.2 1079.4 L136.7 1078.7 L139.1 1078 L141.5 1077.4 L143.8 1076.7 L146 1076.2 L148.2 1075.7 L150.4 1075.4 L152.5 1075.2 L154.6 1075.1 L156.7 1075.2 L158.8 1075.4 L161 1075.7 L163.2 1076.2 L165.4 1076.7 L167.7 1077.4 L170.1 1078 L172.5 1078.7 L175 1079.4 L177.5 1080.1 L180.1 1080.7 L182.7 1081.1 L185.4 1081.4 L188 1081.6 L190.6 1081.6" fill="none" stroke="#eca23a" stroke-width="2.1" stroke-linejoin="round"/><path d="M188 1081.6 L190.6 1081.6 L193.2 1081.4 L195.8 1080.9 L198.2 1080.2 L200.6 1079.3 L202.9 1078.2 L205 1076.8 L206.9 1075.2 L208.8 1073.4 L210.4 1071.4 L211.9 1069.3 L213.3 1067 L214.4 1064.7" fill="none" stroke="#2020d0" stroke-width="2.1" stroke-linejoin="round"/><path d="M213.3 1067 L214.4 1064.7 L215.5 1062.2 L216.4 1059.7 L217.2 1057.2 L217.9 1054.7 L218.5 1052.2 L219.1 1049.7 L219.7 1047.3 L220.3 1045 L221 1042.8 L221.7 1040.7 L222.4 1038.7 L223.3 1036.7 L224.3 1034.8 L225.4 1033.1 L226.7 1031.3 L228 1029.6 L229.5 1028 L231.1 1026.3 L232.8 1024.6 L234.6 1022.9 L236.4 1021.2 L238.3 1019.4 L240.1 1017.5 L241.9 1015.6 L243.6 1013.5 L245.2 1011.4 L246.7 1009.2 L248 1006.9" fill="none" stroke="#eca23a" stroke-width="2.1" stroke-linejoin="round"/><path d="M246.7 1009.2 L248 1006.9 L249.1 1004.5 L249.9 1002.1 L250.6 999.6 L251 997.1 L251.1 994.6 L251 992.1 L250.6 989.6 L249.9 987.1 L249.1 984.7 L248 982.3 L246.7 980" fill="none" stroke="#2020d0" stroke-width="2.1" stroke-linejoin="round"/><path d="M296.6 944.5 Q301 952.1 305.3 944.5 Q324.3 923.6 333 896.7 Q337.3 889.1 328.6 889.1 Q301 883.1 273.3 889.1 Q264.6 889.1 268.9 896.7 Q277.6 923.6 296.6 944.5 Z" fill="none" stroke="#111" stroke-width="2.1"/><path d="M293.2 1017.7 Q301 1027.6 308.8 1017.7 L314.5 1010.4 Q327 994.6 314.5 978.8 L308.8 971.5 Q301 961.6 293.2 971.5 L287.5 978.8 Q275 994.6 287.5 1010.4 L293.2 1017.7 Z" fill="none" stroke="#111" stroke-width="2.1"/><path d="M159 791.2 Q154.6 783.6 150.2 791.2 Q131.2 812.1 122.6 839 Q118.2 846.6 127 846.6 Q154.6 852.6 182.2 846.6 Q191 846.6 186.6 839 Q178 812.1 159 791.2 Z" fill="none" stroke="#111" stroke-width="2.1"/><path d="M241.8 884.9 Q256.4 884.3 253.8 873.8 L252 866.2 Q247.9 849.4 224.6 850.3 L213.8 850.7 Q199.2 851.3 201.8 861.8 L203.6 869.5 Q207.7 886.2 231 885.3 L241.8 884.9 Z" fill="none" stroke="#111" stroke-width="2.1"/><path d="M103.2 864.3 Q110 851.3 99.6 848.3 L92.1 846 Q75.5 841.2 64.6 861.9 L59.6 871.4 Q52.8 884.3 63.2 887.4 L70.7 889.6 Q87.3 894.5 98.2 873.7 L103.2 864.3 Z" fill="none" stroke="#111" stroke-width="2.1"/><path d="M416.5 703.5 L416.9 699.9 L417.2 696.4 L417.2 692.9 L416.9 689.4 L416.4 686 L415.5 682.7 L414.2 679.5 L412.7 676.5 L410.9 673.7 L408.7 671 L406.3 668.6 L403.7 666.4 L400.8 664.4 L397.7 662.7 L394.5 661.1 L391.2 659.8" fill="none" stroke="#30c830" stroke-width="2.1" stroke-linejoin="round"/><path d="M394.5 661.1 L391.2 659.8 L387.8 658.6 L384.4 657.6 L381 656.7 L377.7 655.8 L374.4 655.1 L371.2 654.3 L368.1 653.6 L365.1 652.7 L362.3 651.8 L359.6 650.8 L357 649.7 L354.5 648.3 L352.1 646.8 L349.8 645.2 L347.6 643.3 L345.4 641.3 L343.2 639.2 L341 636.9 L338.7 634.5 L336.4 632 L334 629.5 L331.5 627 L328.9 624.6 L326.2 622.3 L323.4 620.1" fill="none" stroke="#e81818" stroke-width="2.1" stroke-linejoin="round"/><path d="M326.2 622.3 L323.4 620.1 L320.5 618.1 L317.4 616.3 L314.3 614.8 L311 613.6 L307.7 612.7 L304.4 612.2 L301 612 L297.6 612.2 L294.3 612.7 L291 613.6 L287.7 614.8 L284.6 616.3 L281.5 618.1 L278.6 620.1 L275.8 622.3" fill="none" stroke="#30c830" stroke-width="2.1" stroke-linejoin="round"/><path d="M278.6 620.1 L275.8 622.3 L273.1 624.6 L270.5 627 L268 629.5 L265.6 632 L263.3 634.5 L261 636.9 L258.8 639.2 L256.6 641.3 L254.4 643.3 L252.2 645.2 L249.9 646.8 L247.5 648.3 L245 649.7 L242.4 650.8 L239.7 651.8 L236.9 652.7 L233.9 653.6 L230.8 654.3 L227.6 655.1 L224.3 655.8 L221 656.7 L217.6 657.6 L214.2 658.6 L210.8 659.8 L207.5 661.1" fill="none" stroke="#e81818" stroke-width="2.1" stroke-linejoin="round"/><path d="M210.8 659.8 L207.5 661.1 L204.3 662.7 L201.2 664.4 L198.3 666.4 L195.7 668.6 L193.3 671 L191.1 673.7 L189.3 676.5 L187.8 679.5 L186.5 682.7 L185.6 686 L185.1 689.4 L184.8 692.9 L184.8 696.4 L185.1 699.9 L185.5 703.5" fill="none" stroke="#30c830" stroke-width="2.1" stroke-linejoin="round"/><path d="M185.1 699.9 L185.5 703.5 L186.2 707 L187 710.5 L187.9 713.9 L188.9 717.2 L189.9 720.4 L190.8 723.6 L191.7 726.6 L192.5 729.6 L193.1 732.5 L193.6 735.4 L193.9 738.2 L194 741 L193.9 743.8 L193.6 746.6 L193.1 749.5 L192.5 752.4 L191.7 755.4 L190.8 758.4 L189.9 761.6 L188.9 764.8 L187.9 768.1 L187 771.5 L186.2 775 L185.5 778.5 L185.1 782.1" fill="none" stroke="#e81818" stroke-width="2.1" stroke-linejoin="round"/><path d="M185.5 778.5 L185.1 782.1 L184.8 785.6 L184.8 789.1 L185.1 792.6 L185.6 796 L186.5 799.3 L187.8 802.5 L189.3 805.5 L191.1 808.3 L193.3 811 L195.7 813.4 L198.3 815.6 L201.2 817.6 L204.3 819.3 L207.5 820.9 L210.8 822.2" fill="none" stroke="#30c830" stroke-width="2.1" stroke-linejoin="round"/><path d="M207.5 820.9 L210.8 822.2 L214.2 823.4 L217.6 824.4 L221 825.3 L224.3 826.2 L227.6 826.9 L230.8 827.7 L233.9 828.4 L236.9 829.3 L239.7 830.2 L242.4 831.2 L245 832.3 L247.5 833.7 L249.9 835.2 L252.2 836.8 L254.4 838.7 L256.6 840.7 L258.8 842.8 L261 845.1 L263.3 847.5 L265.6 850 L268 852.5 L270.5 855 L273.1 857.4 L275.8 859.7 L278.6 861.9" fill="none" stroke="#e81818" stroke-width="2.1" stroke-linejoin="round"/><path d="M275.8 859.7 L278.6 861.9 L281.5 863.9 L284.6 865.7 L287.7 867.2 L291 868.4 L294.3 869.3 L297.6 869.8 L301 870 L304.4 869.8 L307.7 869.3 L311 868.4 L314.3 867.2 L317.4 865.7 L320.5 863.9 L323.4 861.9 L326.2 859.7" fill="none" stroke="#30c830" stroke-width="2.1" stroke-linejoin="round"/><path d="M323.4 861.9 L326.2 859.7 L328.9 857.4 L331.5 855 L334 852.5 L336.4 850 L338.7 847.5 L341 845.1 L343.2 842.8 L345.4 840.7 L347.6 838.7 L349.8 836.8 L352.1 835.2 L354.5 833.7 L357 832.3 L359.6 831.2 L362.3 830.2 L365.1 829.3 L368.1 828.4 L371.2 827.7 L374.4 826.9 L377.7 826.2 L381 825.3 L384.4 824.4 L387.8 823.4 L391.2 822.2 L394.5 820.9" fill="none" stroke="#e81818" stroke-width="2.1" stroke-linejoin="round"/><path d="M391.2 822.2 L394.5 820.9 L397.7 819.3 L400.8 817.6 L403.7 815.6 L406.3 813.4 L408.7 811 L410.9 808.3 L412.7 805.5 L414.2 802.5 L415.5 799.3 L416.4 796 L416.9 792.6 L417.2 789.1 L417.2 785.6 L416.9 782.1 L416.5 778.5" fill="none" stroke="#30c830" stroke-width="2.1" stroke-linejoin="round"/><path d="M416.9 782.1 L416.5 778.5 L415.8 775 L415 771.5 L414.1 768.1 L413.1 764.8 L412.1 761.6 L411.2 758.4 L410.3 755.4 L409.5 752.4 L408.9 749.5 L408.4 746.6 L408.1 743.8 L408 741 L408.1 738.2 L408.4 735.4 L408.9 732.5 L409.5 729.6 L410.3 726.6 L411.2 723.6 L412.1 720.4 L413.1 717.2 L414.1 713.9 L415 710.5 L415.8 707 L416.5 703.5 L416.9 699.9" fill="none" stroke="#e81818" stroke-width="2.1" stroke-linejoin="round"/><path d="M394.4 728.7 L393.1 726.4 L391.6 724.2 L390 722.1 L388.3 720 L386.5 718.1 L384.7 716.2 L382.8 714.4 L381 712.7 L379.2 711 L377.5 709.3 L375.9 707.6 L374.4 706 L373.1 704.3 L371.8 702.5 L370.7 700.8 L369.7 698.9 L368.8 696.9 L368.1 694.9 L367.4 692.8 L366.7 690.6 L366.1 688.3 L365.5 685.9 L364.9 683.4 L364.3 680.9 L363.6 678.4 L362.8 675.9 L361.9 673.4 L360.8 670.9 L359.7 668.6 L358.3 666.3" fill="none" stroke="#eca23a" stroke-width="2.1" stroke-linejoin="round"/><path d="M359.7 668.6 L358.3 666.3 L356.8 664.2 L355.2 662.2 L353.3 660.4 L351.4 658.8 L349.2 657.4 L347 656.3 L344.6 655.4 L342.2 654.7 L339.6 654.2 L337 654 L334.4 654" fill="none" stroke="#2020d0" stroke-width="2.1" stroke-linejoin="round"/><path d="M337 654 L334.4 654 L331.8 654.2 L329.1 654.5 L326.5 654.9 L323.9 655.5 L321.4 656.2 L318.9 656.9 L316.5 657.6 L314.1 658.2 L311.8 658.9 L309.6 659.4 L307.4 659.9 L305.2 660.2 L303.1 660.4 L301 660.5 L298.9 660.4 L296.8 660.2 L294.6 659.9 L292.4 659.4 L290.2 658.9 L287.9 658.2 L285.5 657.6 L283.1 656.9 L280.6 656.2 L278.1 655.5 L275.5 654.9 L272.9 654.5 L270.2 654.2 L267.6 654 L265 654" fill="none" stroke="#eca23a" stroke-width="2.1" stroke-linejoin="round"/><path d="M267.6 654 L265 654 L262.4 654.2 L259.8 654.7 L257.4 655.4 L255 656.3 L252.8 657.4 L250.6 658.8 L248.7 660.4 L246.8 662.2 L245.2 664.2 L243.7 666.3 L242.3 668.6" fill="none" stroke="#2020d0" stroke-width="2.1" stroke-linejoin="round"/><path d="M243.7 666.3 L242.3 668.6 L241.2 670.9 L240.1 673.4 L239.2 675.9 L238.4 678.4 L237.7 680.9 L237.1 683.4 L236.5 685.9 L235.9 688.3 L235.3 690.6 L234.6 692.8 L233.9 694.9 L233.2 696.9 L232.3 698.9 L231.3 700.8 L230.2 702.5 L228.9 704.3 L227.6 706 L226.1 707.6 L224.5 709.3 L222.8 711 L221 712.7 L219.2 714.4 L217.3 716.2 L215.5 718.1 L213.7 720 L212 722.1 L210.4 724.2 L208.9 726.4 L207.6 728.7" fill="none" stroke="#eca23a" stroke-width="2.1" stroke-linejoin="round"/><path d="M208.9 726.4 L207.6 728.7 L206.5 731.1 L205.7 733.5 L205 736 L204.6 738.5 L204.5 741 L204.6 743.5 L205 746 L205.7 748.5 L206.5 750.9 L207.6 753.3 L208.9 755.6" fill="none" stroke="#2020d0" stroke-width="2.1" stroke-linejoin="round"/><path d="M207.6 753.3 L208.9 755.6 L210.4 757.8 L212 759.9 L213.7 762 L215.5 763.9 L217.3 765.8 L219.2 767.6 L221 769.3 L222.8 771 L224.5 772.7 L226.1 774.4 L227.6 776 L228.9 777.7 L230.2 779.5 L231.3 781.2 L232.3 783.1 L233.2 785.1 L233.9 787.1 L234.6 789.2 L235.3 791.4 L235.9 793.7 L236.5 796.1 L237.1 798.6 L237.7 801.1 L238.4 803.6 L239.2 806.1 L240.1 808.6 L241.2 811.1 L242.3 813.4 L243.7 815.7" fill="none" stroke="#eca23a" stroke-width="2.1" stroke-linejoin="round"/><path d="M242.3 813.4 L243.7 815.7 L245.2 817.8 L246.8 819.8 L248.7 821.6 L250.6 823.2 L252.7 824.6 L255 825.7 L257.4 826.6 L259.8 827.3 L262.4 827.8 L265 828 L267.6 828" fill="none" stroke="#2020d0" stroke-width="2.1" stroke-linejoin="round"/><path d="M265 828 L267.6 828 L270.2 827.8 L272.9 827.5 L275.5 827.1 L278.1 826.5 L280.6 825.8 L283.1 825.1 L285.5 824.4 L287.9 823.8 L290.2 823.1 L292.4 822.6 L294.6 822.1 L296.8 821.8 L298.9 821.6 L301 821.5 L303.1 821.6 L305.2 821.8 L307.4 822.1 L309.6 822.6 L311.8 823.1 L314.1 823.8 L316.5 824.4 L318.9 825.1 L321.4 825.8 L323.9 826.5 L326.5 827.1 L329.1 827.5 L331.8 827.8 L334.4 828 L337 828" fill="none" stroke="#eca23a" stroke-width="2.1" stroke-linejoin="round"/><path d="M334.4 828 L337 828 L339.6 827.8 L342.2 827.3 L344.6 826.6 L347 825.7 L349.2 824.6 L351.4 823.2 L353.3 821.6 L355.2 819.8 L356.8 817.8 L358.3 815.7 L359.7 813.4 L360.8 811.1" fill="none" stroke="#2020d0" stroke-width="2.1" stroke-linejoin="round"/><path d="M359.7 813.4 L360.8 811.1 L361.9 808.6 L362.8 806.1 L363.6 803.6 L364.3 801.1 L364.9 798.6 L365.5 796.1 L366.1 793.7 L366.7 791.4 L367.4 789.2 L368.1 787.1 L368.8 785.1 L369.7 783.1 L370.7 781.2 L371.8 779.5 L373.1 777.7 L374.4 776 L375.9 774.4 L377.5 772.7 L379.2 771 L381 769.3 L382.8 767.6 L384.7 765.8 L386.5 763.9 L388.3 762 L390 759.9 L391.6 757.8 L393.1 755.6 L394.4 753.3" fill="none" stroke="#eca23a" stroke-width="2.1" stroke-linejoin="round"/><path d="M393.1 755.6 L394.4 753.3 L395.5 750.9 L396.3 748.5 L397 746 L397.4 743.5 L397.5 741 L397.4 738.5 L397 736 L396.3 733.5 L395.5 731.1 L394.4 728.7 L393.1 726.4" fill="none" stroke="#2020d0" stroke-width="2.1" stroke-linejoin="round"/><path d="M443 690.9 Q447.4 698.5 451.7 690.9 Q470.7 670 479.4 643.1 Q483.7 635.5 475 635.5 Q447.4 629.5 419.7 635.5 Q411 635.5 415.3 643.1 Q424 670 443 690.9 Z" fill="none" stroke="#111" stroke-width="2.1"/><path d="M439.6 764.1 Q447.4 774 455.2 764.1 L460.9 756.8 Q473.4 741 460.9 725.2 L455.2 717.9 Q447.4 708 439.6 717.9 L433.9 725.2 Q421.4 741 433.9 756.8 L439.6 764.1 Z" fill="none" stroke="#111" stroke-width="2.1"/><path d="M305.4 537.6 Q301 530 296.6 537.6 Q277.6 558.5 269 585.4 Q264.6 593 273.4 593 Q301 599 328.6 593 Q337.4 593 333 585.4 Q324.4 558.5 305.4 537.6 Z" fill="none" stroke="#111" stroke-width="2.1"/><path d="M388.2 631.3 Q402.8 630.7 400.2 620.2 L398.4 612.6 Q394.3 595.8 371 596.7 L360.2 597.1 Q345.6 597.7 348.2 608.2 L350 615.9 Q354.1 632.6 377.4 631.7 L388.2 631.3 Z" fill="none" stroke="#111" stroke-width="2.1"/><path d="M150.3 690.9 Q154.6 698.5 159 690.9 Q178 670 186.7 643.1 Q191 635.5 182.3 635.5 Q154.6 629.5 127 635.5 Q118.3 635.5 122.6 643.1 Q131.3 670 150.3 690.9 Z" fill="none" stroke="#111" stroke-width="2.1"/><path d="M249.6 610.7 Q256.4 597.7 246 594.7 L238.5 592.4 Q221.9 587.6 211 608.3 L206 617.8 Q199.2 630.7 209.6 633.8 L217.1 636 Q233.7 640.9 244.6 620.1 L249.6 610.7 Z" fill="none" stroke="#111" stroke-width="2.1"/><path d="M159 791.1 Q154.6 783.5 150.3 791.1 Q131.3 812 122.6 838.9 Q118.3 846.5 127 846.5 Q154.6 852.5 182.3 846.5 Q191 846.5 186.7 838.9 Q178 812 159 791.1 Z" fill="none" stroke="#111" stroke-width="2.1"/><path d="M162.4 717.9 Q154.6 708 146.8 717.9 L141.1 725.2 Q128.6 741 141.1 756.8 L146.8 764.1 Q154.6 774 162.4 764.1 L168.1 756.8 Q180.6 741 168.1 725.2 L162.4 717.9 Z" fill="none" stroke="#111" stroke-width="2.1"/><path d="M296.6 944.4 Q301 952 305.4 944.4 Q324.4 923.5 333 896.6 Q337.4 889 328.6 889 Q301 883 273.4 889 Q264.6 889 269 896.6 Q277.6 923.5 296.6 944.4 Z" fill="none" stroke="#111" stroke-width="2.1"/><path d="M213.8 850.7 Q199.2 851.3 201.8 861.8 L203.6 869.4 Q207.7 886.2 231 885.3 L241.8 884.9 Q256.4 884.3 253.8 873.8 L252 866.1 Q247.9 849.4 224.6 850.3 L213.8 850.7 Z" fill="none" stroke="#111" stroke-width="2.1"/><path d="M451.7 791.1 Q447.4 783.5 443 791.1 Q424 812 415.3 838.9 Q411 846.5 419.7 846.5 Q447.4 852.5 475 846.5 Q483.7 846.5 479.4 838.9 Q470.7 812 451.7 791.1 Z" fill="none" stroke="#111" stroke-width="2.1"/><path d="M352.4 871.3 Q345.6 884.3 356 887.3 L363.5 889.6 Q380.1 894.4 391 873.7 L396 864.2 Q402.8 851.3 392.4 848.2 L384.9 846 Q368.3 841.1 357.4 861.9 L352.4 871.3 Z" fill="none" stroke="#111" stroke-width="2.1"/><path d="M562.9 449.9 L563.3 446.3 L563.6 442.8 L563.6 439.3 L563.3 435.8 L562.8 432.4 L561.9 429.1 L560.6 425.9 L559.1 422.9 L557.3 420.1 L555.1 417.4 L552.7 415 L550.1 412.8 L547.2 410.8 L544.1 409.1 L540.9 407.5 L537.6 406.2" fill="none" stroke="#30c830" stroke-width="2.1" stroke-linejoin="round"/><path d="M540.9 407.5 L537.6 406.2 L534.2 405 L530.8 404 L527.4 403.1 L524.1 402.2 L520.8 401.5 L517.6 400.7 L514.5 400 L511.5 399.1 L508.7 398.2 L506 397.2 L503.4 396.1 L500.9 394.7 L498.5 393.2 L496.2 391.6 L494 389.7 L491.8 387.7 L489.6 385.6 L487.4 383.3 L485.1 380.9 L482.8 378.4 L480.4 375.9 L477.9 373.4 L475.3 371 L472.6 368.7 L469.8 366.5" fill="none" stroke="#e81818" stroke-width="2.1" stroke-linejoin="round"/><path d="M472.6 368.7 L469.8 366.5 L466.9 364.5 L463.8 362.7 L460.7 361.2 L457.4 360 L454.1 359.1 L450.8 358.6 L447.4 358.4 L444 358.6 L440.7 359.1 L437.4 360 L434.1 361.2 L431 362.7 L427.9 364.5 L425 366.5 L422.2 368.7" fill="none" stroke="#30c830" stroke-width="2.1" stroke-linejoin="round"/><path d="M425 366.5 L422.2 368.7 L419.5 371 L416.9 373.4 L414.4 375.9 L412 378.4 L409.7 380.9 L407.4 383.3 L405.2 385.6 L403 387.7 L400.8 389.7 L398.6 391.6 L396.3 393.2 L393.9 394.7 L391.4 396.1 L388.8 397.2 L386.1 398.2 L383.3 399.1 L380.3 400 L377.2 400.7 L374 401.5 L370.7 402.2 L367.4 403.1 L364 404 L360.6 405 L357.2 406.2 L353.9 407.5" fill="none" stroke="#e81818" stroke-width="2.1" stroke-linejoin="round"/><path d="M357.2 406.2 L353.9 407.5 L350.7 409.1 L347.6 410.8 L344.7 412.8 L342.1 415 L339.7 417.4 L337.5 420.1 L335.7 422.9 L334.2 425.9 L332.9 429.1 L332 432.4 L331.5 435.8 L331.2 439.3 L331.2 442.8 L331.5 446.3 L331.9 449.9" fill="none" stroke="#30c830" stroke-width="2.1" stroke-linejoin="round"/><path d="M331.5 446.3 L331.9 449.9 L332.6 453.4 L333.4 456.9 L334.3 460.3 L335.3 463.6 L336.3 466.8 L337.2 470 L338.1 473 L338.9 476 L339.5 478.9 L340 481.8 L340.3 484.6 L340.4 487.4 L340.3 490.2 L340 493 L339.5 495.9 L338.9 498.8 L338.1 501.8 L337.2 504.8 L336.3 508 L335.3 511.2 L334.3 514.5 L333.4 517.9 L332.6 521.4 L331.9 524.9 L331.5 528.5" fill="none" stroke="#e81818" stroke-width="2.1" stroke-linejoin="round"/><path d="M331.9 524.9 L331.5 528.5 L331.2 532 L331.2 535.5 L331.5 539 L332 542.4 L332.9 545.7 L334.2 548.9 L335.7 551.9 L337.5 554.7 L339.7 557.4 L342.1 559.8 L344.7 562 L347.6 564 L350.7 565.7 L353.9 567.3 L357.2 568.6" fill="none" stroke="#30c830" stroke-width="2.1" stroke-linejoin="round"/><path d="M353.9 567.3 L357.2 568.6 L360.6 569.8 L364 570.8 L367.4 571.7 L370.7 572.6 L374 573.3 L377.2 574.1 L380.3 574.8 L383.3 575.7 L386.1 576.6 L388.8 577.6 L391.4 578.7 L393.9 580.1 L396.3 581.6 L398.6 583.2 L400.8 585.1 L403 587.1 L405.2 589.2 L407.4 591.5 L409.7 593.9 L412 596.4 L414.4 598.9 L416.9 601.4 L419.5 603.8 L422.2 606.1 L425 608.3" fill="none" stroke="#e81818" stroke-width="2.1" stroke-linejoin="round"/><path d="M422.2 606.1 L425 608.3 L427.9 610.3 L431 612.1 L434.1 613.6 L437.4 614.8 L440.7 615.7 L444 616.2 L447.4 616.4 L450.8 616.2 L454.1 615.7 L457.4 614.8 L460.7 613.6 L463.8 612.1 L466.9 610.3 L469.8 608.3 L472.6 606.1" fill="none" stroke="#30c830" stroke-width="2.1" stroke-linejoin="round"/><path d="M469.8 608.3 L472.6 606.1 L475.3 603.8 L477.9 601.4 L480.4 598.9 L482.8 596.4 L485.1 593.9 L487.4 591.5 L489.6 589.2 L491.8 587.1 L494 585.1 L496.2 583.2 L498.5 581.6 L500.9 580.1 L503.4 578.7 L506 577.6 L508.7 576.6 L511.5 575.7 L514.5 574.8 L517.6 574.1 L520.8 573.3 L524.1 572.6 L527.4 571.7 L530.8 570.8 L534.2 569.8 L537.6 568.6 L540.9 567.3" fill="none" stroke="#e81818" stroke-width="2.1" stroke-linejoin="round"/><path d="M537.6 568.6 L540.9 567.3 L544.1 565.7 L547.2 564 L550.1 562 L552.7 559.8 L555.1 557.4 L557.3 554.7 L559.1 551.9 L560.6 548.9 L561.9 545.7 L562.8 542.4 L563.3 539 L563.6 535.5 L563.6 532 L563.3 528.5 L562.9 524.9" fill="none" stroke="#30c830" stroke-width="2.1" stroke-linejoin="round"/><path d="M563.3 528.5 L562.9 524.9 L562.2 521.4 L561.4 517.9 L560.5 514.5 L559.5 511.2 L558.5 508 L557.6 504.8 L556.7 501.8 L555.9 498.8 L555.3 495.9 L554.8 493 L554.5 490.2 L554.4 487.4 L554.5 484.6 L554.8 481.8 L555.3 478.9 L555.9 476 L556.7 473 L557.6 470 L558.5 466.8 L559.5 463.6 L560.5 460.3 L561.4 456.9 L562.2 453.4 L562.9 449.9 L563.3 446.3" fill="none" stroke="#e81818" stroke-width="2.1" stroke-linejoin="round"/><path d="M540.8 475.1 L539.5 472.8 L538 470.6 L536.4 468.5 L534.7 466.4 L532.9 464.5 L531.1 462.6 L529.2 460.8 L527.4 459.1 L525.6 457.4 L523.9 455.7 L522.3 454 L520.8 452.4 L519.5 450.7 L518.2 448.9 L517.1 447.1 L516.1 445.3 L515.2 443.3 L514.5 441.3 L513.8 439.2 L513.1 437 L512.5 434.7 L511.9 432.3 L511.3 429.8 L510.7 427.3 L510 424.8 L509.2 422.3 L508.3 419.8 L507.2 417.3 L506.1 415 L504.7 412.7" fill="none" stroke="#eca23a" stroke-width="2.1" stroke-linejoin="round"/><path d="M506.1 415 L504.7 412.7 L503.2 410.6 L501.6 408.6 L499.7 406.8 L497.8 405.2 L495.6 403.8 L493.4 402.7 L491 401.8 L488.6 401.1 L486 400.6 L483.4 400.4 L480.8 400.4" fill="none" stroke="#2020d0" stroke-width="2.1" stroke-linejoin="round"/><path d="M483.4 400.4 L480.8 400.4 L478.2 400.6 L475.5 400.9 L472.9 401.3 L470.3 401.9 L467.8 402.6 L465.3 403.3 L462.9 404 L460.5 404.6 L458.2 405.3 L456 405.8 L453.8 406.3 L451.6 406.6 L449.5 406.8 L447.4 406.9 L445.3 406.8 L443.2 406.6 L441 406.3 L438.8 405.8 L436.6 405.3 L434.3 404.6 L431.9 404 L429.5 403.3 L427 402.6 L424.5 401.9 L421.9 401.3 L419.3 400.9 L416.6 400.6 L414 400.4 L411.4 400.4" fill="none" stroke="#eca23a" stroke-width="2.1" stroke-linejoin="round"/><path d="M414 400.4 L411.4 400.4 L408.8 400.6 L406.2 401.1 L403.8 401.8 L401.4 402.7 L399.1 403.8 L397 405.2 L395.1 406.8 L393.2 408.6 L391.6 410.6 L390.1 412.7 L388.7 415" fill="none" stroke="#2020d0" stroke-width="2.1" stroke-linejoin="round"/><path d="M390.1 412.7 L388.7 415 L387.6 417.3 L386.5 419.8 L385.6 422.3 L384.8 424.8 L384.1 427.3 L383.5 429.8 L382.9 432.3 L382.3 434.7 L381.7 437 L381 439.2 L380.3 441.3 L379.6 443.3 L378.7 445.3 L377.7 447.1 L376.6 448.9 L375.3 450.7 L374 452.4 L372.5 454 L370.9 455.7 L369.2 457.4 L367.4 459.1 L365.6 460.8 L363.7 462.6 L361.9 464.5 L360.1 466.4 L358.4 468.5 L356.8 470.6 L355.3 472.8 L354 475.1" fill="none" stroke="#eca23a" stroke-width="2.1" stroke-linejoin="round"/><path d="M355.3 472.8 L354 475.1 L352.9 477.5 L352.1 479.9 L351.4 482.4 L351 484.9 L350.9 487.4 L351 489.9 L351.4 492.4 L352.1 494.9 L352.9 497.3 L354 499.7 L355.3 502" fill="none" stroke="#2020d0" stroke-width="2.1" stroke-linejoin="round"/><path d="M354 499.7 L355.3 502 L356.8 504.2 L358.4 506.3 L360.1 508.4 L361.9 510.3 L363.7 512.2 L365.6 514 L367.4 515.7 L369.2 517.4 L370.9 519.1 L372.5 520.8 L374 522.4 L375.3 524.1 L376.6 525.9 L377.7 527.6 L378.7 529.5 L379.6 531.5 L380.3 533.5 L381 535.6 L381.7 537.8 L382.3 540.1 L382.9 542.5 L383.5 545 L384.1 547.5 L384.8 550 L385.6 552.5 L386.5 555 L387.6 557.5 L388.7 559.8 L390.1 562.1" fill="none" stroke="#eca23a" stroke-width="2.1" stroke-linejoin="round"/><path d="M388.7 559.8 L390.1 562.1 L391.6 564.2 L393.2 566.2 L395.1 568 L397 569.6 L399.1 571 L401.4 572.1 L403.8 573 L406.2 573.7 L408.8 574.2 L411.4 574.4 L414 574.4" fill="none" stroke="#2020d0" stroke-width="2.1" stroke-linejoin="round"/><path d="M411.4 574.4 L414 574.4 L416.6 574.2 L419.3 573.9 L421.9 573.5 L424.5 572.9 L427 572.2 L429.5 571.5 L431.9 570.8 L434.3 570.2 L436.6 569.5 L438.8 569 L441 568.5 L443.2 568.2 L445.3 568 L447.4 567.9 L449.5 568 L451.6 568.2 L453.8 568.5 L456 569 L458.2 569.5 L460.5 570.2 L462.9 570.8 L465.3 571.5 L467.8 572.2 L470.3 572.9 L472.9 573.5 L475.5 573.9 L478.2 574.2 L480.8 574.4 L483.4 574.4" fill="none" stroke="#eca23a" stroke-width="2.1" stroke-linejoin="round"/><path d="M480.8 574.4 L483.4 574.4 L486 574.2 L488.6 573.7 L491 573 L493.4 572.1 L495.6 571 L497.8 569.6 L499.7 568 L501.6 566.2 L503.2 564.2 L504.7 562.1 L506.1 559.8 L507.2 557.5" fill="none" stroke="#2020d0" stroke-width="2.1" stroke-linejoin="round"/><path d="M506.1 559.8 L507.2 557.5 L508.3 555 L509.2 552.5 L510 550 L510.7 547.5 L511.3 545 L511.9 542.5 L512.5 540.1 L513.1 537.8 L513.8 535.6 L514.5 533.5 L515.2 531.5 L516.1 529.5 L517.1 527.6 L518.2 525.9 L519.5 524.1 L520.8 522.4 L522.3 520.8 L523.9 519.1 L525.6 517.4 L527.4 515.7 L529.2 514 L531.1 512.2 L532.9 510.3 L534.7 508.4 L536.4 506.3 L538 504.2 L539.5 502 L540.8 499.7" fill="none" stroke="#eca23a" stroke-width="2.1" stroke-linejoin="round"/><path d="M539.5 502 L540.8 499.7 L541.9 497.3 L542.7 494.9 L543.4 492.4 L543.8 489.9 L543.9 487.4 L543.8 484.9 L543.4 482.4 L542.7 479.9 L541.9 477.5 L540.8 475.1 L539.5 472.8" fill="none" stroke="#2020d0" stroke-width="2.1" stroke-linejoin="round"/><path d="M305.4 537.5 Q301 529.9 296.7 537.5 Q277.7 558.4 269 585.3 Q264.7 592.9 273.4 592.9 Q301 598.9 328.7 592.9 Q337.4 592.9 333.1 585.3 Q324.4 558.4 305.4 537.5 Z" fill="none" stroke="#111" stroke-width="2.1"/><path d="M308.8 464.3 Q301 454.4 293.2 464.3 L287.5 471.6 Q275 487.4 287.5 503.2 L293.2 510.5 Q301 520.4 308.8 510.5 L314.5 503.2 Q327 487.4 314.5 471.6 L308.8 464.3 Z" fill="none" stroke="#111" stroke-width="2.1"/><path d="M443 690.8 Q447.4 698.4 451.8 690.8 Q470.8 669.9 479.4 643 Q483.8 635.4 475 635.4 Q447.4 629.4 419.8 635.4 Q411 635.4 415.4 643 Q424 669.9 443 690.8 Z" fill="none" stroke="#111" stroke-width="2.1"/><path d="M360.2 597.1 Q345.6 597.7 348.2 608.2 L350 615.8 Q354.1 632.6 377.4 631.7 L388.2 631.3 Q402.8 630.7 400.2 620.2 L398.4 612.5 Q394.3 595.8 371 596.7 L360.2 597.1 Z" fill="none" stroke="#111" stroke-width="2.1"/><path d="M498.8 617.7 Q492 630.7 502.4 633.7 L509.9 636 Q526.5 640.8 537.4 620.1 L542.4 610.6 Q549.2 597.7 538.8 594.6 L531.3 592.4 Q514.7 587.5 503.8 608.3 L498.8 617.7 Z" fill="none" stroke="#111" stroke-width="2.1"/><path d="M562.9 957.1 L563.3 953.5 L563.6 950 L563.6 946.5 L563.3 943 L562.8 939.6 L561.9 936.3 L560.6 933.1 L559.1 930.1 L557.3 927.3 L555.1 924.6 L552.7 922.2 L550.1 920 L547.2 918 L544.1 916.3 L540.9 914.7 L537.6 913.4" fill="none" stroke="#30c830" stroke-width="2.1" stroke-linejoin="round"/><path d="M540.9 914.7 L537.6 913.4 L534.2 912.2 L530.8 911.2 L527.4 910.3 L524.1 909.4 L520.8 908.7 L517.6 907.9 L514.5 907.2 L511.5 906.3 L508.7 905.4 L506 904.4 L503.4 903.3 L500.9 901.9 L498.5 900.4 L496.2 898.8 L494 896.9 L491.8 894.9 L489.6 892.8 L487.4 890.5 L485.1 888.1 L482.8 885.6 L480.4 883.1 L477.9 880.6 L475.3 878.2 L472.6 875.9 L469.8 873.7" fill="none" stroke="#e81818" stroke-width="2.1" stroke-linejoin="round"/><path d="M472.6 875.9 L469.8 873.7 L466.9 871.7 L463.8 869.9 L460.7 868.4 L457.4 867.2 L454.1 866.3 L450.8 865.8 L447.4 865.6 L444 865.8 L440.7 866.3 L437.4 867.2 L434.1 868.4 L431 869.9 L427.9 871.7 L425 873.7 L422.2 875.9" fill="none" stroke="#30c830" stroke-width="2.1" stroke-linejoin="round"/><path d="M425 873.7 L422.2 875.9 L419.5 878.2 L416.9 880.6 L414.4 883.1 L412 885.6 L409.7 888.1 L407.4 890.5 L405.2 892.8 L403 894.9 L400.8 896.9 L398.6 898.8 L396.3 900.4 L393.9 901.9 L391.4 903.3 L388.8 904.4 L386.1 905.4 L383.3 906.3 L380.3 907.2 L377.2 907.9 L374 908.7 L370.7 909.4 L367.4 910.3 L364 911.2 L360.6 912.2 L357.2 913.4 L353.9 914.7" fill="none" stroke="#e81818" stroke-width="2.1" stroke-linejoin="round"/><path d="M357.2 913.4 L353.9 914.7 L350.7 916.3 L347.6 918 L344.7 920 L342.1 922.2 L339.7 924.6 L337.5 927.3 L335.7 930.1 L334.2 933.1 L332.9 936.3 L332 939.6 L331.5 943 L331.2 946.5 L331.2 950 L331.5 953.5 L331.9 957.1" fill="none" stroke="#30c830" stroke-width="2.1" stroke-linejoin="round"/><path d="M331.5 953.5 L331.9 957.1 L332.6 960.6 L333.4 964.1 L334.3 967.5 L335.3 970.8 L336.3 974 L337.2 977.2 L338.1 980.2 L338.9 983.2 L339.5 986.1 L340 989 L340.3 991.8 L340.4 994.6 L340.3 997.4 L340 1000.2 L339.5 1003.1 L338.9 1006 L338.1 1009 L337.2 1012 L336.3 1015.2 L335.3 1018.4 L334.3 1021.7 L333.4 1025.1 L332.6 1028.6 L331.9 1032.1 L331.5 1035.7" fill="none" stroke="#e81818" stroke-width="2.1" stroke-linejoin="round"/><path d="M331.9 1032.1 L331.5 1035.7 L331.2 1039.2 L331.2 1042.7 L331.5 1046.2 L332 1049.6 L332.9 1052.9 L334.2 1056.1 L335.7 1059.1 L337.5 1061.9 L339.7 1064.6 L342.1 1067 L344.7 1069.2 L347.6 1071.2 L350.7 1072.9 L353.9 1074.5 L357.2 1075.8" fill="none" stroke="#30c830" stroke-width="2.1" stroke-linejoin="round"/><path d="M353.9 1074.5 L357.2 1075.8 L360.6 1077 L364 1078 L367.4 1078.9 L370.7 1079.8 L374 1080.5 L377.2 1081.3 L380.3 1082 L383.3 1082.9 L386.1 1083.8 L388.8 1084.8 L391.4 1085.9 L393.9 1087.3 L396.3 1088.8 L398.6 1090.4 L400.8 1092.3 L403 1094.3 L405.2 1096.4 L407.4 1098.7 L409.7 1101.1 L412 1103.6 L414.4 1106.1 L416.9 1108.6 L419.5 1111 L422.2 1113.3 L425 1115.5" fill="none" stroke="#e81818" stroke-width="2.1" stroke-linejoin="round"/><path d="M422.2 1113.3 L425 1115.5 L427.9 1117.5 L431 1119.3 L434.1 1120.8 L437.4 1122 L440.7 1122.9 L444 1123.4 L447.4 1123.6 L450.8 1123.4 L454.1 1122.9 L457.4 1122 L460.7 1120.8 L463.8 1119.3 L466.9 1117.5 L469.8 1115.5 L472.6 1113.3" fill="none" stroke="#30c830" stroke-width="2.1" stroke-linejoin="round"/><path d="M469.8 1115.5 L472.6 1113.3 L475.3 1111 L477.9 1108.6 L480.4 1106.1 L482.8 1103.6 L485.1 1101.1 L487.4 1098.7 L489.6 1096.4 L491.8 1094.3 L494 1092.3 L496.2 1090.4 L498.5 1088.8 L500.9 1087.3 L503.4 1085.9 L506 1084.8 L508.7 1083.8 L511.5 1082.9 L514.5 1082 L517.6 1081.3 L520.8 1080.5 L524.1 1079.8 L527.4 1078.9 L530.8 1078 L534.2 1077 L537.6 1075.8 L540.9 1074.5" fill="none" stroke="#e81818" stroke-width="2.1" stroke-linejoin="round"/><path d="M537.6 1075.8 L540.9 1074.5 L544.1 1072.9 L547.2 1071.2 L550.1 1069.2 L552.7 1067 L555.1 1064.6 L557.3 1061.9 L559.1 1059.1 L560.6 1056.1 L561.9 1052.9 L562.8 1049.6 L563.3 1046.2 L563.6 1042.7 L563.6 1039.2 L563.3 1035.7 L562.9 1032.1" fill="none" stroke="#30c830" stroke-width="2.1" stroke-linejoin="round"/><path d="M563.3 1035.7 L562.9 1032.1 L562.2 1028.6 L561.4 1025.1 L560.5 1021.7 L559.5 1018.4 L558.5 1015.2 L557.6 1012 L556.7 1009 L555.9 1006 L555.3 1003.1 L554.8 1000.2 L554.5 997.4 L554.4 994.6 L554.5 991.8 L554.8 989 L555.3 986.1 L555.9 983.2 L556.7 980.2 L557.6 977.2 L558.5 974 L559.5 970.8 L560.5 967.5 L561.4 964.1 L562.2 960.6 L562.9 957.1 L563.3 953.5" fill="none" stroke="#e81818" stroke-width="2.1" stroke-linejoin="round"/><path d="M540.8 982.3 L539.5 980 L538 977.8 L536.4 975.7 L534.7 973.6 L532.9 971.7 L531.1 969.8 L529.2 968 L527.4 966.3 L525.6 964.6 L523.9 962.9 L522.3 961.2 L520.8 959.6 L519.5 957.9 L518.2 956.1 L517.1 954.4 L516.1 952.5 L515.2 950.5 L514.5 948.5 L513.8 946.4 L513.1 944.2 L512.5 941.9 L511.9 939.5 L511.3 937 L510.7 934.5 L510 932 L509.2 929.5 L508.3 927 L507.2 924.5 L506.1 922.2 L504.7 919.9" fill="none" stroke="#eca23a" stroke-width="2.1" stroke-linejoin="round"/><path d="M506.1 922.2 L504.7 919.9 L503.2 917.8 L501.6 915.8 L499.7 914 L497.8 912.4 L495.6 911 L493.4 909.9 L491 909 L488.6 908.3 L486 907.8 L483.4 907.6 L480.8 907.6" fill="none" stroke="#2020d0" stroke-width="2.1" stroke-linejoin="round"/><path d="M483.4 907.6 L480.8 907.6 L478.2 907.8 L475.5 908.1 L472.9 908.5 L470.3 909.1 L467.8 909.8 L465.3 910.5 L462.9 911.2 L460.5 911.8 L458.2 912.5 L456 913 L453.8 913.5 L451.6 913.8 L449.5 914 L447.4 914.1 L445.3 914 L443.2 913.8 L441 913.5 L438.8 913 L436.6 912.5 L434.3 911.8 L431.9 911.2 L429.5 910.5 L427 909.8 L424.5 909.1 L421.9 908.5 L419.3 908.1 L416.6 907.8 L414 907.6 L411.4 907.6" fill="none" stroke="#eca23a" stroke-width="2.1" stroke-linejoin="round"/><path d="M414 907.6 L411.4 907.6 L408.8 907.8 L406.2 908.3 L403.8 909 L401.4 909.9 L399.1 911 L397 912.4 L395.1 914 L393.2 915.8 L391.6 917.8 L390.1 919.9 L388.7 922.2" fill="none" stroke="#2020d0" stroke-width="2.1" stroke-linejoin="round"/><path d="M390.1 919.9 L388.7 922.2 L387.6 924.5 L386.5 927 L385.6 929.5 L384.8 932 L384.1 934.5 L383.5 937 L382.9 939.5 L382.3 941.9 L381.7 944.2 L381 946.4 L380.3 948.5 L379.6 950.5 L378.7 952.5 L377.7 954.4 L376.6 956.1 L375.3 957.9 L374 959.6 L372.5 961.2 L370.9 962.9 L369.2 964.6 L367.4 966.3 L365.6 968 L363.7 969.8 L361.9 971.7 L360.1 973.6 L358.4 975.7 L356.8 977.8 L355.3 980 L354 982.3" fill="none" stroke="#eca23a" stroke-width="2.1" stroke-linejoin="round"/><path d="M355.3 980 L354 982.3 L352.9 984.7 L352.1 987.1 L351.4 989.6 L351 992.1 L350.9 994.6 L351 997.1 L351.4 999.6 L352.1 1002.1 L352.9 1004.5 L354 1006.9 L355.3 1009.2" fill="none" stroke="#2020d0" stroke-width="2.1" stroke-linejoin="round"/><path d="M354 1006.9 L355.3 1009.2 L356.8 1011.4 L358.4 1013.5 L360.1 1015.6 L361.9 1017.5 L363.7 1019.4 L365.6 1021.2 L367.4 1022.9 L369.2 1024.6 L370.9 1026.3 L372.5 1028 L374 1029.6 L375.3 1031.3 L376.6 1033.1 L377.7 1034.8 L378.7 1036.7 L379.6 1038.7 L380.3 1040.7 L381 1042.8 L381.7 1045 L382.3 1047.3 L382.9 1049.7 L383.5 1052.2 L384.1 1054.7 L384.8 1057.2 L385.6 1059.7 L386.5 1062.2 L387.6 1064.7 L388.7 1067 L390.1 1069.3" fill="none" stroke="#eca23a" stroke-width="2.1" stroke-linejoin="round"/><path d="M388.7 1067 L390.1 1069.3 L391.6 1071.4 L393.2 1073.4 L395.1 1075.2 L397 1076.8 L399.1 1078.2 L401.4 1079.3 L403.8 1080.2 L406.2 1080.9 L408.8 1081.4 L411.4 1081.6 L414 1081.6" fill="none" stroke="#2020d0" stroke-width="2.1" stroke-linejoin="round"/><path d="M411.4 1081.6 L414 1081.6 L416.6 1081.4 L419.3 1081.1 L421.9 1080.7 L424.5 1080.1 L427 1079.4 L429.5 1078.7 L431.9 1078 L434.3 1077.4 L436.6 1076.7 L438.8 1076.2 L441 1075.7 L443.2 1075.4 L445.3 1075.2 L447.4 1075.1 L449.5 1075.2 L451.6 1075.4 L453.8 1075.7 L456 1076.2 L458.2 1076.7 L460.5 1077.4 L462.9 1078 L465.3 1078.7 L467.8 1079.4 L470.3 1080.1 L472.9 1080.7 L475.5 1081.1 L478.2 1081.4 L480.8 1081.6 L483.4 1081.6" fill="none" stroke="#eca23a" stroke-width="2.1" stroke-linejoin="round"/><path d="M480.8 1081.6 L483.4 1081.6 L486 1081.4 L488.6 1080.9 L491 1080.2 L493.4 1079.3 L495.6 1078.2 L497.8 1076.8 L499.7 1075.2 L501.6 1073.4 L503.2 1071.4 L504.7 1069.3 L506.1 1067 L507.2 1064.7" fill="none" stroke="#2020d0" stroke-width="2.1" stroke-linejoin="round"/><path d="M506.1 1067 L507.2 1064.7 L508.3 1062.2 L509.2 1059.7 L510 1057.2 L510.7 1054.7 L511.3 1052.2 L511.9 1049.7 L512.5 1047.3 L513.1 1045 L513.8 1042.8 L514.5 1040.7 L515.2 1038.7 L516.1 1036.7 L517.1 1034.8 L518.2 1033.1 L519.5 1031.3 L520.8 1029.6 L522.3 1028 L523.9 1026.3 L525.6 1024.6 L527.4 1022.9 L529.2 1021.2 L531.1 1019.4 L532.9 1017.5 L534.7 1015.6 L536.4 1013.5 L538 1011.4 L539.5 1009.2 L540.8 1006.9" fill="none" stroke="#eca23a" stroke-width="2.1" stroke-linejoin="round"/><path d="M539.5 1009.2 L540.8 1006.9 L541.9 1004.5 L542.7 1002.1 L543.4 999.6 L543.8 997.1 L543.9 994.6 L543.8 992.1 L543.4 989.6 L542.7 987.1 L541.9 984.7 L540.8 982.3 L539.5 980" fill="none" stroke="#2020d0" stroke-width="2.1" stroke-linejoin="round"/><path d="M451.8 791.2 Q447.4 783.6 443 791.2 Q424 812.1 415.4 839 Q411 846.6 419.8 846.6 Q447.4 852.6 475 846.6 Q483.8 846.6 479.4 839 Q470.8 812.1 451.8 791.2 Z" fill="none" stroke="#111" stroke-width="2.1"/><path d="M534.6 884.9 Q549.2 884.3 546.6 873.8 L544.8 866.2 Q540.7 849.4 517.4 850.3 L506.6 850.7 Q492 851.3 494.6 861.8 L496.4 869.5 Q500.5 886.2 523.8 885.3 L534.6 884.9 Z" fill="none" stroke="#111" stroke-width="2.1"/><path d="M296.7 944.5 Q301 952.1 305.4 944.5 Q324.4 923.6 333.1 896.7 Q337.4 889.1 328.7 889.1 Q301 883.1 273.4 889.1 Q264.7 889.1 269 896.7 Q277.7 923.6 296.7 944.5 Z" fill="none" stroke="#111" stroke-width="2.1"/><path d="M396 864.3 Q402.8 851.3 392.4 848.3 L384.9 846 Q368.3 841.2 357.4 861.9 L352.4 871.4 Q345.6 884.3 356 887.4 L363.5 889.6 Q380.1 894.5 391 873.7 L396 864.3 Z" fill="none" stroke="#111" stroke-width="2.1"/><path d="M308.8 971.5 Q301 961.6 293.2 971.5 L287.5 978.8 Q275 994.6 287.5 1010.4 L293.2 1017.7 Q301 1027.6 308.8 1017.7 L314.5 1010.4 Q327 994.6 314.5 978.8 L308.8 971.5 Z" fill="none" stroke="#111" stroke-width="2.1"/><path d="M709.3 703.5 L709.7 699.9 L710 696.4 L710 692.9 L709.7 689.4 L709.2 686 L708.3 682.7 L707 679.5 L705.5 676.5 L703.7 673.7 L701.5 671 L699.1 668.6 L696.5 666.4 L693.6 664.4 L690.5 662.7 L687.3 661.1 L684 659.8" fill="none" stroke="#30c830" stroke-width="2.1" stroke-linejoin="round"/><path d="M687.3 661.1 L684 659.8 L680.6 658.6 L677.2 657.6 L673.8 656.7 L670.5 655.8 L667.2 655.1 L664 654.3 L660.9 653.6 L657.9 652.7 L655.1 651.8 L652.4 650.8 L649.8 649.7 L647.3 648.3 L644.9 646.8 L642.6 645.2 L640.4 643.3 L638.2 641.3 L636 639.2 L633.8 636.9 L631.5 634.5 L629.2 632 L626.8 629.5 L624.3 627 L621.7 624.6 L619 622.3 L616.2 620.1" fill="none" stroke="#e81818" stroke-width="2.1" stroke-linejoin="round"/><path d="M619 622.3 L616.2 620.1 L613.3 618.1 L610.2 616.3 L607.1 614.8 L603.8 613.6 L600.5 612.7 L597.2 612.2 L593.8 612 L590.4 612.2 L587.1 612.7 L583.8 613.6 L580.5 614.8 L577.4 616.3 L574.3 618.1 L571.4 620.1 L568.6 622.3" fill="none" stroke="#30c830" stroke-width="2.1" stroke-linejoin="round"/><path d="M571.4 620.1 L568.6 622.3 L565.9 624.6 L563.3 627 L560.8 629.5 L558.4 632 L556.1 634.5 L553.8 636.9 L551.6 639.2 L549.4 641.3 L547.2 643.3 L545 645.2 L542.7 646.8 L540.3 648.3 L537.8 649.7 L535.2 650.8 L532.5 651.8 L529.7 652.7 L526.7 653.6 L523.6 654.3 L520.4 655.1 L517.1 655.8 L513.8 656.7 L510.4 657.6 L507 658.6 L503.6 659.8 L500.3 661.1" fill="none" stroke="#e81818" stroke-width="2.1" stroke-linejoin="round"/><path d="M503.6 659.8 L500.3 661.1 L497.1 662.7 L494 664.4 L491.1 666.4 L488.5 668.6 L486.1 671 L483.9 673.7 L482.1 676.5 L480.6 679.5 L479.3 682.7 L478.4 686 L477.9 689.4 L477.6 692.9 L477.6 696.4 L477.9 699.9 L478.3 703.5" fill="none" stroke="#30c830" stroke-width="2.1" stroke-linejoin="round"/><path d="M477.9 699.9 L478.3 703.5 L479 707 L479.8 710.5 L480.7 713.9 L481.7 717.2 L482.7 720.4 L483.6 723.6 L484.5 726.6 L485.3 729.6 L485.9 732.5 L486.4 735.4 L486.7 738.2 L486.8 741 L486.7 743.8 L486.4 746.6 L485.9 749.5 L485.3 752.4 L484.5 755.4 L483.6 758.4 L482.7 761.6 L481.7 764.8 L480.7 768.1 L479.8 771.5 L479 775 L478.3 778.5 L477.9 782.1" fill="none" stroke="#e81818" stroke-width="2.1" stroke-linejoin="round"/><path d="M478.3 778.5 L477.9 782.1 L477.6 785.6 L477.6 789.1 L477.9 792.6 L478.4 796 L479.3 799.3 L480.6 802.5 L482.1 805.5 L483.9 808.3 L486.1 811 L488.5 813.4 L491.1 815.6 L494 817.6 L497.1 819.3 L500.3 820.9 L503.6 822.2" fill="none" stroke="#30c830" stroke-width="2.1" stroke-linejoin="round"/><path d="M500.3 820.9 L503.6 822.2 L507 823.4 L510.4 824.4 L513.8 825.3 L517.1 826.2 L520.4 826.9 L523.6 827.7 L526.7 828.4 L529.7 829.3 L532.5 830.2 L535.2 831.2 L537.8 832.3 L540.3 833.7 L542.7 835.2 L545 836.8 L547.2 838.7 L549.4 840.7 L551.6 842.8 L553.8 845.1 L556.1 847.5 L558.4 850 L560.8 852.5 L563.3 855 L565.9 857.4 L568.6 859.7 L571.4 861.9" fill="none" stroke="#e81818" stroke-width="2.1" stroke-linejoin="round"/><path d="M568.6 859.7 L571.4 861.9 L574.3 863.9 L577.4 865.7 L580.5 867.2 L583.8 868.4 L587.1 869.3 L590.4 869.8 L593.8 870 L597.2 869.8 L600.5 869.3 L603.8 868.4 L607.1 867.2 L610.2 865.7 L613.3 863.9 L616.2 861.9 L619 859.7" fill="none" stroke="#30c830" stroke-width="2.1" stroke-linejoin="round"/><path d="M616.2 861.9 L619 859.7 L621.7 857.4 L624.3 855 L626.8 852.5 L629.2 850 L631.5 847.5 L633.8 845.1 L636 842.8 L638.2 840.7 L640.4 838.7 L642.6 836.8 L644.9 835.2 L647.3 833.7 L649.8 832.3 L652.4 831.2 L655.1 830.2 L657.9 829.3 L660.9 828.4 L664 827.7 L667.2 826.9 L670.5 826.2 L673.8 825.3 L677.2 824.4 L680.6 823.4 L684 822.2 L687.3 820.9" fill="none" stroke="#e81818" stroke-width="2.1" stroke-linejoin="round"/><path d="M684 822.2 L687.3 820.9 L690.5 819.3 L693.6 817.6 L696.5 815.6 L699.1 813.4 L701.5 811 L703.7 808.3 L705.5 805.5 L707 802.5 L708.3 799.3 L709.2 796 L709.7 792.6 L710 789.1 L710 785.6 L709.7 782.1 L709.3 778.5" fill="none" stroke="#30c830" stroke-width="2.1" stroke-linejoin="round"/><path d="M709.7 782.1 L709.3 778.5 L708.6 775 L707.8 771.5 L706.9 768.1 L705.9 764.8 L704.9 761.6 L704 758.4 L703.1 755.4 L702.3 752.4 L701.7 749.5 L701.2 746.6 L700.9 743.8 L700.8 741 L700.9 738.2 L701.2 735.4 L701.7 732.5 L702.3 729.6 L703.1 726.6 L704 723.6 L704.9 720.4 L705.9 717.2 L706.9 713.9 L707.8 710.5 L708.6 707 L709.3 703.5 L709.7 699.9" fill="none" stroke="#e81818" stroke-width="2.1" stroke-linejoin="round"/><path d="M687.2 728.7 L685.9 726.4 L684.4 724.2 L682.8 722.1 L681.1 720 L679.3 718.1 L677.5 716.2 L675.6 714.4 L673.8 712.7 L672 711 L670.3 709.3 L668.7 707.6 L667.2 706 L665.9 704.3 L664.6 702.5 L663.5 700.8 L662.5 698.9 L661.6 696.9 L660.9 694.9 L660.2 692.8 L659.5 690.6 L658.9 688.3 L658.3 685.9 L657.7 683.4 L657.1 680.9 L656.4 678.4 L655.6 675.9 L654.7 673.4 L653.6 670.9 L652.5 668.6 L651.1 666.3" fill="none" stroke="#eca23a" stroke-width="2.1" stroke-linejoin="round"/><path d="M652.5 668.6 L651.1 666.3 L649.6 664.2 L648 662.2 L646.1 660.4 L644.2 658.8 L642 657.4 L639.8 656.3 L637.4 655.4 L635 654.7 L632.4 654.2 L629.8 654 L627.2 654" fill="none" stroke="#2020d0" stroke-width="2.1" stroke-linejoin="round"/><path d="M629.8 654 L627.2 654 L624.6 654.2 L621.9 654.5 L619.3 654.9 L616.7 655.5 L614.2 656.2 L611.7 656.9 L609.3 657.6 L606.9 658.2 L604.6 658.9 L602.4 659.4 L600.2 659.9 L598 660.2 L595.9 660.4 L593.8 660.5 L591.7 660.4 L589.6 660.2 L587.4 659.9 L585.2 659.4 L583 658.9 L580.7 658.2 L578.3 657.6 L575.9 656.9 L573.4 656.2 L570.9 655.5 L568.3 654.9 L565.7 654.5 L563 654.2 L560.4 654 L557.8 654" fill="none" stroke="#eca23a" stroke-width="2.1" stroke-linejoin="round"/><path d="M560.4 654 L557.8 654 L555.2 654.2 L552.6 654.7 L550.2 655.4 L547.8 656.3 L545.5 657.4 L543.4 658.8 L541.5 660.4 L539.6 662.2 L538 664.2 L536.5 666.3 L535.1 668.6" fill="none" stroke="#2020d0" stroke-width="2.1" stroke-linejoin="round"/><path d="M536.5 666.3 L535.1 668.6 L534 670.9 L532.9 673.4 L532 675.9 L531.2 678.4 L530.5 680.9 L529.9 683.4 L529.3 685.9 L528.7 688.3 L528.1 690.6 L527.4 692.8 L526.7 694.9 L526 696.9 L525.1 698.9 L524.1 700.8 L523 702.5 L521.7 704.3 L520.4 706 L518.9 707.6 L517.3 709.3 L515.6 711 L513.8 712.7 L512 714.4 L510.1 716.2 L508.3 718.1 L506.5 720 L504.8 722.1 L503.2 724.2 L501.7 726.4 L500.4 728.7" fill="none" stroke="#eca23a" stroke-width="2.1" stroke-linejoin="round"/><path d="M501.7 726.4 L500.4 728.7 L499.3 731.1 L498.5 733.5 L497.8 736 L497.4 738.5 L497.3 741 L497.4 743.5 L497.8 746 L498.5 748.5 L499.3 750.9 L500.4 753.3 L501.7 755.6" fill="none" stroke="#2020d0" stroke-width="2.1" stroke-linejoin="round"/><path d="M500.4 753.3 L501.7 755.6 L503.2 757.8 L504.8 759.9 L506.5 762 L508.3 763.9 L510.1 765.8 L512 767.6 L513.8 769.3 L515.6 771 L517.3 772.7 L518.9 774.4 L520.4 776 L521.7 777.7 L523 779.5 L524.1 781.2 L525.1 783.1 L526 785.1 L526.7 787.1 L527.4 789.2 L528.1 791.4 L528.7 793.7 L529.3 796.1 L529.9 798.6 L530.5 801.1 L531.2 803.6 L532 806.1 L532.9 808.6 L534 811.1 L535.1 813.4 L536.5 815.7" fill="none" stroke="#eca23a" stroke-width="2.1" stroke-linejoin="round"/><path d="M535.1 813.4 L536.5 815.7 L538 817.8 L539.6 819.8 L541.5 821.6 L543.4 823.2 L545.5 824.6 L547.8 825.7 L550.2 826.6 L552.6 827.3 L555.2 827.8 L557.8 828 L560.4 828" fill="none" stroke="#2020d0" stroke-width="2.1" stroke-linejoin="round"/><path d="M557.8 828 L560.4 828 L563 827.8 L565.7 827.5 L568.3 827.1 L570.9 826.5 L573.4 825.8 L575.9 825.1 L578.3 824.4 L580.7 823.8 L583 823.1 L585.2 822.6 L587.4 822.1 L589.6 821.8 L591.7 821.6 L593.8 821.5 L595.9 821.6 L598 821.8 L600.2 822.1 L602.4 822.6 L604.6 823.1 L606.9 823.8 L609.3 824.4 L611.7 825.1 L614.2 825.8 L616.7 826.5 L619.3 827.1 L621.9 827.5 L624.6 827.8 L627.2 828 L629.8 828" fill="none" stroke="#eca23a" stroke-width="2.1" stroke-linejoin="round"/><path d="M627.2 828 L629.8 828 L632.4 827.8 L635 827.3 L637.4 826.6 L639.8 825.7 L642 824.6 L644.2 823.2 L646.1 821.6 L648 819.8 L649.6 817.8 L651.1 815.7 L652.5 813.4 L653.6 811.1" fill="none" stroke="#2020d0" stroke-width="2.1" stroke-linejoin="round"/><path d="M652.5 813.4 L653.6 811.1 L654.7 808.6 L655.6 806.1 L656.4 803.6 L657.1 801.1 L657.7 798.6 L658.3 796.1 L658.9 793.7 L659.5 791.4 L660.2 789.2 L660.9 787.1 L661.6 785.1 L662.5 783.1 L663.5 781.2 L664.6 779.5 L665.9 777.7 L667.2 776 L668.7 774.4 L670.3 772.7 L672 771 L673.8 769.3 L675.6 767.6 L677.5 765.8 L679.3 763.9 L681.1 762 L682.8 759.9 L684.4 757.8 L685.9 755.6 L687.2 753.3" fill="none" stroke="#eca23a" stroke-width="2.1" stroke-linejoin="round"/><path d="M685.9 755.6 L687.2 753.3 L688.3 750.9 L689.1 748.5 L689.8 746 L690.2 743.5 L690.3 741 L690.2 738.5 L689.8 736 L689.1 733.5 L688.3 731.1 L687.2 728.7 L685.9 726.4" fill="none" stroke="#2020d0" stroke-width="2.1" stroke-linejoin="round"/><path d="M443.1 690.9 Q447.4 698.5 451.8 690.9 Q470.8 670 479.5 643.1 Q483.8 635.5 475.1 635.5 Q447.4 629.5 419.8 635.5 Q411.1 635.5 415.4 643.1 Q424.1 670 443.1 690.9 Z" fill="none" stroke="#111" stroke-width="2.1"/><path d="M542.4 610.7 Q549.2 597.7 538.8 594.7 L531.3 592.4 Q514.7 587.6 503.8 608.3 L498.8 617.8 Q492 630.7 502.4 633.8 L509.9 636 Q526.5 640.9 537.4 620.1 L542.4 610.7 Z" fill="none" stroke="#111" stroke-width="2.1"/><path d="M451.8 791.1 Q447.4 783.5 443.1 791.1 Q424.1 812 415.4 838.9 Q411.1 846.5 419.8 846.5 Q447.4 852.5 475.1 846.5 Q483.8 846.5 479.5 838.9 Q470.8 812 451.8 791.1 Z" fill="none" stroke="#111" stroke-width="2.1"/><path d="M455.2 717.9 Q447.4 708 439.6 717.9 L433.9 725.2 Q421.4 741 433.9 756.8 L439.6 764.1 Q447.4 774 455.2 764.1 L460.9 756.8 Q473.4 741 460.9 725.2 L455.2 717.9 Z" fill="none" stroke="#111" stroke-width="2.1"/><path d="M506.6 850.7 Q492 851.3 494.6 861.8 L496.4 869.4 Q500.5 886.2 523.8 885.3 L534.6 884.9 Q549.2 884.3 546.6 873.8 L544.8 866.1 Q540.7 849.4 517.4 850.3 L506.6 850.7 Z" fill="none" stroke="#111" stroke-width="2.1"/><path d="M855.7 449.9 L856.1 446.3 L856.4 442.8 L856.4 439.3 L856.1 435.8 L855.6 432.4 L854.7 429.1 L853.4 425.9 L851.9 422.9 L850.1 420.1 L847.9 417.4 L845.5 415 L842.9 412.8 L840 410.8 L836.9 409.1 L833.7 407.5 L830.4 406.2" fill="none" stroke="#30c830" stroke-width="2.1" stroke-linejoin="round"/><path d="M833.7 407.5 L830.4 406.2 L827 405 L823.6 404 L820.2 403.1 L816.9 402.2 L813.6 401.5 L810.4 400.7 L807.3 400 L804.3 399.1 L801.5 398.2 L798.8 397.2 L796.2 396.1 L793.7 394.7 L791.3 393.2 L789 391.6 L786.8 389.7 L784.6 387.7 L782.4 385.6 L780.2 383.3 L777.9 380.9 L775.6 378.4 L773.2 375.9 L770.7 373.4 L768.1 371 L765.4 368.7 L762.6 366.5" fill="none" stroke="#e81818" stroke-width="2.1" stroke-linejoin="round"/><path d="M765.4 368.7 L762.6 366.5 L759.7 364.5 L756.6 362.7 L753.5 361.2 L750.2 360 L746.9 359.1 L743.6 358.6 L740.2 358.4 L736.8 358.6 L733.5 359.1 L730.2 360 L726.9 361.2 L723.8 362.7 L720.7 364.5 L717.8 366.5 L715 368.7" fill="none" stroke="#30c830" stroke-width="2.1" stroke-linejoin="round"/><path d="M717.8 366.5 L715 368.7 L712.3 371 L709.7 373.4 L707.2 375.9 L704.8 378.4 L702.5 380.9 L700.2 383.3 L698 385.6 L695.8 387.7 L693.6 389.7 L691.4 391.6 L689.1 393.2 L686.7 394.7 L684.2 396.1 L681.6 397.2 L678.9 398.2 L676.1 399.1 L673.1 400 L670 400.7 L666.8 401.5 L663.5 402.2 L660.2 403.1 L656.8 404 L653.4 405 L650 406.2 L646.7 407.5" fill="none" stroke="#e81818" stroke-width="2.1" stroke-linejoin="round"/><path d="M650 406.2 L646.7 407.5 L643.5 409.1 L640.4 410.8 L637.5 412.8 L634.9 415 L632.5 417.4 L630.3 420.1 L628.5 422.9 L627 425.9 L625.7 429.1 L624.8 432.4 L624.3 435.8 L624 439.3 L624 442.8 L624.3 446.3 L624.7 449.9" fill="none" stroke="#30c830" stroke-width="2.1" stroke-linejoin="round"/><path d="M624.3 446.3 L624.7 449.9 L625.4 453.4 L626.2 456.9 L627.1 460.3 L628.1 463.6 L629.1 466.8 L630 470 L630.9 473 L631.7 476 L632.3 478.9 L632.8 481.8 L633.1 484.6 L633.2 487.4 L633.1 490.2 L632.8 493 L632.3 495.9 L631.7 498.8 L630.9 501.8 L630 504.8 L629.1 508 L628.1 511.2 L627.1 514.5 L626.2 517.9 L625.4 521.4 L624.7 524.9 L624.3 528.5" fill="none" stroke="#e81818" stroke-width="2.1" stroke-linejoin="round"/><path d="M624.7 524.9 L624.3 528.5 L624 532 L624 535.5 L624.3 539 L624.8 542.4 L625.7 545.7 L627 548.9 L628.5 551.9 L630.3 554.7 L632.5 557.4 L634.9 559.8 L637.5 562 L640.4 564 L643.5 565.7 L646.7 567.3 L650 568.6" fill="none" stroke="#30c830" stroke-width="2.1" stroke-linejoin="round"/><path d="M646.7 567.3 L650 568.6 L653.4 569.8 L656.8 570.8 L660.2 571.7 L663.5 572.6 L666.8 573.3 L670 574.1 L673.1 574.8 L676.1 575.7 L678.9 576.6 L681.6 577.6 L684.2 578.7 L686.7 580.1 L689.1 581.6 L691.4 583.2 L693.6 585.1 L695.8 587.1 L698 589.2 L700.2 591.5 L702.5 593.9 L704.8 596.4 L707.2 598.9 L709.7 601.4 L712.3 603.8 L715 606.1 L717.8 608.3" fill="none" stroke="#e81818" stroke-width="2.1" stroke-linejoin="round"/><path d="M715 606.1 L717.8 608.3 L720.7 610.3 L723.8 612.1 L726.9 613.6 L730.2 614.8 L733.5 615.7 L736.8 616.2 L740.2 616.4 L743.6 616.2 L746.9 615.7 L750.2 614.8 L753.5 613.6 L756.6 612.1 L759.7 610.3 L762.6 608.3 L765.4 606.1" fill="none" stroke="#30c830" stroke-width="2.1" stroke-linejoin="round"/><path d="M762.6 608.3 L765.4 606.1 L768.1 603.8 L770.7 601.4 L773.2 598.9 L775.6 596.4 L777.9 593.9 L780.2 591.5 L782.4 589.2 L784.6 587.1 L786.8 585.1 L789 583.2 L791.3 581.6 L793.7 580.1 L796.2 578.7 L798.8 577.6 L801.5 576.6 L804.3 575.7 L807.3 574.8 L810.4 574.1 L813.6 573.3 L816.9 572.6 L820.2 571.7 L823.6 570.8 L827 569.8 L830.4 568.6 L833.7 567.3" fill="none" stroke="#e81818" stroke-width="2.1" stroke-linejoin="round"/><path d="M830.4 568.6 L833.7 567.3 L836.9 565.7 L840 564 L842.9 562 L845.5 559.8 L847.9 557.4 L850.1 554.7 L851.9 551.9 L853.4 548.9 L854.7 545.7 L855.6 542.4 L856.1 539 L856.4 535.5 L856.4 532 L856.1 528.5 L855.7 524.9" fill="none" stroke="#30c830" stroke-width="2.1" stroke-linejoin="round"/><path d="M856.1 528.5 L855.7 524.9 L855 521.4 L854.2 517.9 L853.3 514.5 L852.3 511.2 L851.3 508 L850.4 504.8 L849.5 501.8 L848.7 498.8 L848.1 495.9 L847.6 493 L847.3 490.2 L847.2 487.4 L847.3 484.6 L847.6 481.8 L848.1 478.9 L848.7 476 L849.5 473 L850.4 470 L851.3 466.8 L852.3 463.6 L853.3 460.3 L854.2 456.9 L855 453.4 L855.7 449.9 L856.1 446.3" fill="none" stroke="#e81818" stroke-width="2.1" stroke-linejoin="round"/><path d="M833.6 475.1 L832.3 472.8 L830.8 470.6 L829.2 468.5 L827.5 466.4 L825.7 464.5 L823.9 462.6 L822 460.8 L820.2 459.1 L818.4 457.4 L816.7 455.7 L815.1 454 L813.6 452.4 L812.3 450.7 L811 448.9 L809.9 447.1 L808.9 445.3 L808 443.3 L807.3 441.3 L806.6 439.2 L805.9 437 L805.3 434.7 L804.7 432.3 L804.1 429.8 L803.5 427.3 L802.8 424.8 L802 422.3 L801.1 419.8 L800 417.3 L798.9 415 L797.5 412.7" fill="none" stroke="#eca23a" stroke-width="2.1" stroke-linejoin="round"/><path d="M798.9 415 L797.5 412.7 L796 410.6 L794.4 408.6 L792.5 406.8 L790.6 405.2 L788.4 403.8 L786.2 402.7 L783.8 401.8 L781.4 401.1 L778.8 400.6 L776.2 400.4 L773.6 400.4" fill="none" stroke="#2020d0" stroke-width="2.1" stroke-linejoin="round"/><path d="M776.2 400.4 L773.6 400.4 L771 400.6 L768.3 400.9 L765.7 401.3 L763.1 401.9 L760.6 402.6 L758.1 403.3 L755.7 404 L753.3 404.6 L751 405.3 L748.8 405.8 L746.6 406.3 L744.4 406.6 L742.3 406.8 L740.2 406.9 L738.1 406.8 L736 406.6 L733.8 406.3 L731.6 405.8 L729.4 405.3 L727.1 404.6 L724.7 404 L722.3 403.3 L719.8 402.6 L717.3 401.9 L714.7 401.3 L712.1 400.9 L709.4 400.6 L706.8 400.4 L704.2 400.4" fill="none" stroke="#eca23a" stroke-width="2.1" stroke-linejoin="round"/><path d="M706.8 400.4 L704.2 400.4 L701.6 400.6 L699 401.1 L696.6 401.8 L694.2 402.7 L691.9 403.8 L689.8 405.2 L687.9 406.8 L686 408.6 L684.4 410.6 L682.9 412.7 L681.5 415" fill="none" stroke="#2020d0" stroke-width="2.1" stroke-linejoin="round"/><path d="M682.9 412.7 L681.5 415 L680.4 417.3 L679.3 419.8 L678.4 422.3 L677.6 424.8 L676.9 427.3 L676.3 429.8 L675.7 432.3 L675.1 434.7 L674.5 437 L673.8 439.2 L673.1 441.3 L672.4 443.3 L671.5 445.3 L670.5 447.1 L669.4 448.9 L668.1 450.7 L666.8 452.4 L665.3 454 L663.7 455.7 L662 457.4 L660.2 459.1 L658.4 460.8 L656.5 462.6 L654.7 464.5 L652.9 466.4 L651.2 468.5 L649.6 470.6 L648.1 472.8 L646.8 475.1" fill="none" stroke="#eca23a" stroke-width="2.1" stroke-linejoin="round"/><path d="M648.1 472.8 L646.8 475.1 L645.7 477.5 L644.9 479.9 L644.2 482.4 L643.8 484.9 L643.7 487.4 L643.8 489.9 L644.2 492.4 L644.9 494.9 L645.7 497.3 L646.8 499.7 L648.1 502" fill="none" stroke="#2020d0" stroke-width="2.1" stroke-linejoin="round"/><path d="M646.8 499.7 L648.1 502 L649.6 504.2 L651.2 506.3 L652.9 508.4 L654.7 510.3 L656.5 512.2 L658.4 514 L660.2 515.7 L662 517.4 L663.7 519.1 L665.3 520.8 L666.8 522.4 L668.1 524.1 L669.4 525.9 L670.5 527.6 L671.5 529.5 L672.4 531.5 L673.1 533.5 L673.8 535.6 L674.5 537.8 L675.1 540.1 L675.7 542.5 L676.3 545 L676.9 547.5 L677.6 550 L678.4 552.5 L679.3 555 L680.4 557.5 L681.5 559.8 L682.9 562.1" fill="none" stroke="#eca23a" stroke-width="2.1" stroke-linejoin="round"/><path d="M681.5 559.8 L682.9 562.1 L684.4 564.2 L686 566.2 L687.9 568 L689.8 569.6 L691.9 571 L694.2 572.1 L696.6 573 L699 573.7 L701.6 574.2 L704.2 574.4 L706.8 574.4" fill="none" stroke="#2020d0" stroke-width="2.1" stroke-linejoin="round"/><path d="M704.2 574.4 L706.8 574.4 L709.4 574.2 L712.1 573.9 L714.7 573.5 L717.3 572.9 L719.8 572.2 L722.3 571.5 L724.7 570.8 L727.1 570.2 L729.4 569.5 L731.6 569 L733.8 568.5 L736 568.2 L738.1 568 L740.2 567.9 L742.3 568 L744.4 568.2 L746.6 568.5 L748.8 569 L751 569.5 L753.3 570.2 L755.7 570.8 L758.1 571.5 L760.6 572.2 L763.1 572.9 L765.7 573.5 L768.3 573.9 L771 574.2 L773.6 574.4 L776.2 574.4" fill="none" stroke="#eca23a" stroke-width="2.1" stroke-linejoin="round"/><path d="M773.6 574.4 L776.2 574.4 L778.8 574.2 L781.4 573.7 L783.8 573 L786.2 572.1 L788.4 571 L790.6 569.6 L792.5 568 L794.4 566.2 L796 564.2 L797.5 562.1 L798.9 559.8 L800 557.5" fill="none" stroke="#2020d0" stroke-width="2.1" stroke-linejoin="round"/><path d="M798.9 559.8 L800 557.5 L801.1 555 L802 552.5 L802.8 550 L803.5 547.5 L804.1 545 L804.7 542.5 L805.3 540.1 L805.9 537.8 L806.6 535.6 L807.3 533.5 L808 531.5 L808.9 529.5 L809.9 527.6 L811 525.9 L812.3 524.1 L813.6 522.4 L815.1 520.8 L816.7 519.1 L818.4 517.4 L820.2 515.7 L822 514 L823.9 512.2 L825.7 510.3 L827.5 508.4 L829.2 506.3 L830.8 504.2 L832.3 502 L833.6 499.7" fill="none" stroke="#eca23a" stroke-width="2.1" stroke-linejoin="round"/><path d="M832.3 502 L833.6 499.7 L834.7 497.3 L835.5 494.9 L836.2 492.4 L836.6 489.9 L836.7 487.4 L836.6 484.9 L836.2 482.4 L835.5 479.9 L834.7 477.5 L833.6 475.1 L832.3 472.8" fill="none" stroke="#2020d0" stroke-width="2.1" stroke-linejoin="round"/><path d="M855.7 957.1 L856.1 953.5 L856.4 950 L856.4 946.5 L856.1 943 L855.6 939.6 L854.7 936.3 L853.4 933.1 L851.9 930.1 L850.1 927.3 L847.9 924.6 L845.5 922.2 L842.9 920 L840 918 L836.9 916.3 L833.7 914.7 L830.4 913.4" fill="none" stroke="#30c830" stroke-width="2.1" stroke-linejoin="round"/><path d="M833.7 914.7 L830.4 913.4 L827 912.2 L823.6 911.2 L820.2 910.3 L816.9 909.4 L813.6 908.7 L810.4 907.9 L807.3 907.2 L804.3 906.3 L801.5 905.4 L798.8 904.4 L796.2 903.3 L793.7 901.9 L791.3 900.4 L789 898.8 L786.8 896.9 L784.6 894.9 L782.4 892.8 L780.2 890.5 L777.9 888.1 L775.6 885.6 L773.2 883.1 L770.7 880.6 L768.1 878.2 L765.4 875.9 L762.6 873.7" fill="none" stroke="#e81818" stroke-width="2.1" stroke-linejoin="round"/><path d="M765.4 875.9 L762.6 873.7 L759.7 871.7 L756.6 869.9 L753.5 868.4 L750.2 867.2 L746.9 866.3 L743.6 865.8 L740.2 865.6 L736.8 865.8 L733.5 866.3 L730.2 867.2 L726.9 868.4 L723.8 869.9 L720.7 871.7 L717.8 873.7 L715 875.9" fill="none" stroke="#30c830" stroke-width="2.1" stroke-linejoin="round"/><path d="M717.8 873.7 L715 875.9 L712.3 878.2 L709.7 880.6 L707.2 883.1 L704.8 885.6 L702.5 888.1 L700.2 890.5 L698 892.8 L695.8 894.9 L693.6 896.9 L691.4 898.8 L689.1 900.4 L686.7 901.9 L684.2 903.3 L681.6 904.4 L678.9 905.4 L676.1 906.3 L673.1 907.2 L670 907.9 L666.8 908.7 L663.5 909.4 L660.2 910.3 L656.8 911.2 L653.4 912.2 L650 913.4 L646.7 914.7" fill="none" stroke="#e81818" stroke-width="2.1" stroke-linejoin="round"/><path d="M650 913.4 L646.7 914.7 L643.5 916.3 L640.4 918 L637.5 920 L634.9 922.2 L632.5 924.6 L630.3 927.3 L628.5 930.1 L627 933.1 L625.7 936.3 L624.8 939.6 L624.3 943 L624 946.5 L624 950 L624.3 953.5 L624.7 957.1" fill="none" stroke="#30c830" stroke-width="2.1" stroke-linejoin="round"/><path d="M624.3 953.5 L624.7 957.1 L625.4 960.6 L626.2 964.1 L627.1 967.5 L628.1 970.8 L629.1 974 L630 977.2 L630.9 980.2 L631.7 983.2 L632.3 986.1 L632.8 989 L633.1 991.8 L633.2 994.6 L633.1 997.4 L632.8 1000.2 L632.3 1003.1 L631.7 1006 L630.9 1009 L630 1012 L629.1 1015.2 L628.1 1018.4 L627.1 1021.7 L626.2 1025.1 L625.4 1028.6 L624.7 1032.1 L624.3 1035.7" fill="none" stroke="#e81818" stroke-width="2.1" stroke-linejoin="round"/><path d="M624.7 1032.1 L624.3 1035.7 L624 1039.2 L624 1042.7 L624.3 1046.2 L624.8 1049.6 L625.7 1052.9 L627 1056.1 L628.5 1059.1 L630.3 1061.9 L632.5 1064.6 L634.9 1067 L637.5 1069.2 L640.4 1071.2 L643.5 1072.9 L646.7 1074.5 L650 1075.8" fill="none" stroke="#30c830" stroke-width="2.1" stroke-linejoin="round"/><path d="M646.7 1074.5 L650 1075.8 L653.4 1077 L656.8 1078 L660.2 1078.9 L663.5 1079.8 L666.8 1080.5 L670 1081.3 L673.1 1082 L676.1 1082.9 L678.9 1083.8 L681.6 1084.8 L684.2 1085.9 L686.7 1087.3 L689.1 1088.8 L691.4 1090.4 L693.6 1092.3 L695.8 1094.3 L698 1096.4 L700.2 1098.7 L702.5 1101.1 L704.8 1103.6 L707.2 1106.1 L709.7 1108.6 L712.3 1111 L715 1113.3 L717.8 1115.5" fill="none" stroke="#e81818" stroke-width="2.1" stroke-linejoin="round"/><path d="M715 1113.3 L717.8 1115.5 L720.7 1117.5 L723.8 1119.3 L726.9 1120.8 L730.2 1122 L733.5 1122.9 L736.8 1123.4 L740.2 1123.6 L743.6 1123.4 L746.9 1122.9 L750.2 1122 L753.5 1120.8 L756.6 1119.3 L759.7 1117.5 L762.6 1115.5 L765.4 1113.3" fill="none" stroke="#30c830" stroke-width="2.1" stroke-linejoin="round"/><path d="M762.6 1115.5 L765.4 1113.3 L768.1 1111 L770.7 1108.6 L773.2 1106.1 L775.6 1103.6 L777.9 1101.1 L780.2 1098.7 L782.4 1096.4 L784.6 1094.3 L786.8 1092.3 L789 1090.4 L791.3 1088.8 L793.7 1087.3 L796.2 1085.9 L798.8 1084.8 L801.5 1083.8 L804.3 1082.9 L807.3 1082 L810.4 1081.3 L813.6 1080.5 L816.9 1079.8 L820.2 1078.9 L823.6 1078 L827 1077 L830.4 1075.8 L833.7 1074.5" fill="none" stroke="#e81818" stroke-width="2.1" stroke-linejoin="round"/><path d="M830.4 1075.8 L833.7 1074.5 L836.9 1072.9 L840 1071.2 L842.9 1069.2 L845.5 1067 L847.9 1064.6 L850.1 1061.9 L851.9 1059.1 L853.4 1056.1 L854.7 1052.9 L855.6 1049.6 L856.1 1046.2 L856.4 1042.7 L856.4 1039.2 L856.1 1035.7 L855.7 1032.1" fill="none" stroke="#30c830" stroke-width="2.1" stroke-linejoin="round"/><path d="M856.1 1035.7 L855.7 1032.1 L855 1028.6 L854.2 1025.1 L853.3 1021.7 L852.3 1018.4 L851.3 1015.2 L850.4 1012 L849.5 1009 L848.7 1006 L848.1 1003.1 L847.6 1000.2 L847.3 997.4 L847.2 994.6 L847.3 991.8 L847.6 989 L848.1 986.1 L848.7 983.2 L849.5 980.2 L850.4 977.2 L851.3 974 L852.3 970.8 L853.3 967.5 L854.2 964.1 L855 960.6 L855.7 957.1 L856.1 953.5" fill="none" stroke="#e81818" stroke-width="2.1" stroke-linejoin="round"/><path d="M833.6 982.3 L832.3 980 L830.8 977.8 L829.2 975.7 L827.5 973.6 L825.7 971.7 L823.9 969.8 L822 968 L820.2 966.3 L818.4 964.6 L816.7 962.9 L815.1 961.2 L813.6 959.6 L812.3 957.9 L811 956.1 L809.9 954.4 L808.9 952.5 L808 950.5 L807.3 948.5 L806.6 946.4 L805.9 944.2 L805.3 941.9 L804.7 939.5 L804.1 937 L803.5 934.5 L802.8 932 L802 929.5 L801.1 927 L800 924.5 L798.9 922.2 L797.5 919.9" fill="none" stroke="#eca23a" stroke-width="2.1" stroke-linejoin="round"/><path d="M798.9 922.2 L797.5 919.9 L796 917.8 L794.4 915.8 L792.5 914 L790.6 912.4 L788.5 911 L786.2 909.9 L783.8 909 L781.4 908.3 L778.8 907.8 L776.2 907.6 L773.6 907.6" fill="none" stroke="#2020d0" stroke-width="2.1" stroke-linejoin="round"/><path d="M776.2 907.6 L773.6 907.6 L771 907.8 L768.3 908.1 L765.7 908.5 L763.1 909.1 L760.6 909.8 L758.1 910.5 L755.7 911.2 L753.3 911.8 L751 912.5 L748.8 913 L746.6 913.5 L744.4 913.8 L742.3 914 L740.2 914.1 L738.1 914 L736 913.8 L733.8 913.5 L731.6 913 L729.4 912.5 L727.1 911.8 L724.7 911.2 L722.3 910.5 L719.8 909.8 L717.3 909.1 L714.7 908.5 L712.1 908.1 L709.4 907.8 L706.8 907.6 L704.2 907.6" fill="none" stroke="#eca23a" stroke-width="2.1" stroke-linejoin="round"/><path d="M706.8 907.6 L704.2 907.6 L701.6 907.8 L699 908.3 L696.6 909 L694.2 909.9 L692 911 L689.8 912.4 L687.9 914 L686 915.8 L684.4 917.8 L682.9 919.9 L681.5 922.2" fill="none" stroke="#2020d0" stroke-width="2.1" stroke-linejoin="round"/><path d="M682.9 919.9 L681.5 922.2 L680.4 924.5 L679.3 927 L678.4 929.5 L677.6 932 L676.9 934.5 L676.3 937 L675.7 939.5 L675.1 941.9 L674.5 944.2 L673.8 946.4 L673.1 948.5 L672.4 950.5 L671.5 952.5 L670.5 954.4 L669.4 956.1 L668.1 957.9 L666.8 959.6 L665.3 961.2 L663.7 962.9 L662 964.6 L660.2 966.3 L658.4 968 L656.5 969.8 L654.7 971.7 L652.9 973.6 L651.2 975.7 L649.6 977.8 L648.1 980 L646.8 982.3" fill="none" stroke="#eca23a" stroke-width="2.1" stroke-linejoin="round"/><path d="M648.1 980 L646.8 982.3 L645.7 984.7 L644.9 987.1 L644.2 989.6 L643.8 992.1 L643.7 994.6 L643.8 997.1 L644.2 999.6 L644.9 1002.1 L645.7 1004.5 L646.8 1006.9 L648.1 1009.2" fill="none" stroke="#2020d0" stroke-width="2.1" stroke-linejoin="round"/><path d="M646.8 1006.9 L648.1 1009.2 L649.6 1011.4 L651.2 1013.5 L652.9 1015.6 L654.7 1017.5 L656.5 1019.4 L658.4 1021.2 L660.2 1022.9 L662 1024.6 L663.7 1026.3 L665.3 1028 L666.8 1029.6 L668.1 1031.3 L669.4 1033.1 L670.5 1034.8 L671.5 1036.7 L672.4 1038.7 L673.1 1040.7 L673.8 1042.8 L674.5 1045 L675.1 1047.3 L675.7 1049.7 L676.3 1052.2 L676.9 1054.7 L677.6 1057.2 L678.4 1059.7 L679.3 1062.2 L680.4 1064.7 L681.5 1067 L682.9 1069.3" fill="none" stroke="#eca23a" stroke-width="2.1" stroke-linejoin="round"/><path d="M681.5 1067 L682.9 1069.3 L684.4 1071.4 L686 1073.4 L687.9 1075.2 L689.8 1076.8 L692 1078.2 L694.2 1079.3 L696.6 1080.2 L699 1080.9 L701.6 1081.4 L704.2 1081.6 L706.8 1081.6" fill="none" stroke="#2020d0" stroke-width="2.1" stroke-linejoin="round"/><path d="M704.2 1081.6 L706.8 1081.6 L709.4 1081.4 L712.1 1081.1 L714.7 1080.7 L717.3 1080.1 L719.8 1079.4 L722.3 1078.7 L724.7 1078 L727.1 1077.4 L729.4 1076.7 L731.6 1076.2 L733.8 1075.7 L736 1075.4 L738.1 1075.2 L740.2 1075.1 L742.3 1075.2 L744.4 1075.4 L746.6 1075.7 L748.8 1076.2 L751 1076.7 L753.3 1077.4 L755.7 1078 L758.1 1078.7 L760.6 1079.4 L763.1 1080.1 L765.7 1080.7 L768.3 1081.1 L771 1081.4 L773.6 1081.6 L776.2 1081.6" fill="none" stroke="#eca23a" stroke-width="2.1" stroke-linejoin="round"/><path d="M773.6 1081.6 L776.2 1081.6 L778.8 1081.4 L781.4 1080.9 L783.8 1080.2 L786.2 1079.3 L788.5 1078.2 L790.6 1076.8 L792.5 1075.2 L794.4 1073.4 L796 1071.4 L797.5 1069.3 L798.9 1067 L800 1064.7" fill="none" stroke="#2020d0" stroke-width="2.1" stroke-linejoin="round"/><path d="M798.9 1067 L800 1064.7 L801.1 1062.2 L802 1059.7 L802.8 1057.2 L803.5 1054.7 L804.1 1052.2 L804.7 1049.7 L805.3 1047.3 L805.9 1045 L806.6 1042.8 L807.3 1040.7 L808 1038.7 L808.9 1036.7 L809.9 1034.8 L811 1033.1 L812.3 1031.3 L813.6 1029.6 L815.1 1028 L816.7 1026.3 L818.4 1024.6 L820.2 1022.9 L822 1021.2 L823.9 1019.4 L825.7 1017.5 L827.5 1015.6 L829.2 1013.5 L830.8 1011.4 L832.3 1009.2 L833.6 1006.9" fill="none" stroke="#eca23a" stroke-width="2.1" stroke-linejoin="round"/><path d="M832.3 1009.2 L833.6 1006.9 L834.7 1004.5 L835.5 1002.1 L836.2 999.6 L836.6 997.1 L836.7 994.6 L836.6 992.1 L836.2 989.6 L835.5 987.1 L834.7 984.7 L833.6 982.3 L832.3 980" fill="none" stroke="#2020d0" stroke-width="2.1" stroke-linejoin="round"/></g><circle cx="301" cy="741" r="33" fill="none" stroke="#111" stroke-width="2.1"/><line x1="301" y1="572" x2="301" y2="741" stroke="#000" stroke-width="2.2"/><path d="M301 672 L295 657 L301 661 L307 657 Z" fill="#000"/><line x1="301" y1="741" x2="448.5" y2="741" stroke="#000" stroke-width="2.2"/><path d="M386 741 L371 735 L375 741 L371 747 Z" fill="#000"/><line x1="448.5" y1="741" x2="448.5" y2="657" stroke="#000" stroke-width="2.2"/><path d="M448.5 692 L442.5 707 L448.5 703 L454.5 707 Z" fill="#000"/><circle cx="301" cy="572" r="6.2" fill="#000"/><circle cx="301" cy="741" r="6.2" fill="#000"/><circle cx="448.5" cy="657" r="6.2" fill="#000"/><circle cx="448.5" cy="741" r="6.2" fill="#000"/><text x="315" y="585" font-size="28" font-style="italic" fill="#e8192c">K</text><text x="419" y="682" font-size="28" font-style="italic" fill="#e8192c">K</text><text x="417" y="768" font-size="28" font-style="italic" fill="#e8192c">M</text><text x="291" y="773" font-size="30" fill="#e8192c" font-family="'Liberation Serif', 'Times New Roman', serif">&#915;</text><text x="263" y="767" font-size="1"></text><text x="218" y="634" font-size="27" fill="#e8192c" font-family="'Liberation Serif', 'Times New Roman', serif">&#948;</text><text x="177" y="681" font-size="25" fill="#e8192c" font-family="'Liberation Serif', 'Times New Roman', serif">&#947;</text><text x="222" y="710" font-size="27" fill="#e8192c" font-family="'Liberation Serif', 'Times New Roman', serif">&#946;</text><text x="262" y="752" font-size="28" font-style="italic" fill="#e8192c" font-family="'Liberation Serif', 'Times New Roman', serif">&#945;</text><text x="328" y="717" font-size="24" font-style="italic">p</text><text x="172" y="750" font-size="24" font-style="italic">d<tspan font-size="17" dy="5">xy</tspan><tspan dy="-5"> d</tspan><tspan font-size="17" dy="5">yz</tspan></text><text x="282" y="833" font-size="24" font-style="italic">d<tspan font-size="17" dy="5">xz</tspan></text><text x="276" y="872" font-size="24" font-style="italic">d<tspan font-size="14" dy="4">x&#178;-y&#178;</tspan></text><text x="104" y="546" font-size="25">RbTi<tspan font-size="18" dy="3">3</tspan><tspan dy="-3">Bi</tspan><tspan font-size="18" dy="3">5</tspan></text><rect x="87" y="819" width="141" height="136.5" fill="#fff" fill-opacity="0.72"/><line x1="93" y1="835" x2="136.5" y2="835" stroke="#eca23a" stroke-width="2.4"/><text x="154" y="843.5" font-size="25">Ti <tspan font-style="italic">d</tspan><tspan font-style="italic" font-size="17" dy="6">xz</tspan></text><line x1="93" y1="870" x2="136.5" y2="870" stroke="#2020d0" stroke-width="2.4"/><text x="154" y="878.5" font-size="25">Ti <tspan font-style="italic">d</tspan><tspan font-style="italic" font-size="17" dy="6">yz</tspan></text><line x1="93" y1="904" x2="136.5" y2="904" stroke="#e81818" stroke-width="2.4"/><text x="154" y="912.5" font-size="25">Ti <tspan font-style="italic">d</tspan><tspan font-style="italic" font-size="17" dy="6">xy</tspan></text><line x1="93" y1="938.5" x2="136.5" y2="938.5" stroke="#30c830" stroke-width="2.4"/><text x="154" y="947" font-size="25">Ti <tspan font-style="italic">d</tspan><tspan font-style="italic" font-size="14" dy="6">x&#178;-y&#178;</tspan></text><text x="409" y="939" font-size="30"><tspan font-style="italic">E</tspan><tspan font-size="22" dy="6">B</tspan><tspan dy="-6"> = </tspan><tspan font-style="italic">E</tspan><tspan font-size="22" dy="6">0</tspan></text><line x1="184" y1="956.5" x2="184" y2="941.5" stroke="#333" stroke-width="1.6"/><text x="184" y="983" font-size="25" text-anchor="middle">-0.5</text><line x1="86" y1="858" x2="100" y2="858" stroke="#333" stroke-width="1.6"/><text x="79.5" y="867" font-size="25" text-anchor="end">-0.5</text><line x1="301" y1="956.5" x2="301" y2="941.5" stroke="#333" stroke-width="1.6"/><text x="301" y="983" font-size="25" text-anchor="middle">0</text><line x1="86" y1="741" x2="100" y2="741" stroke="#333" stroke-width="1.6"/><text x="79.5" y="750" font-size="25" text-anchor="end">0</text><line x1="418" y1="956.5" x2="418" y2="941.5" stroke="#333" stroke-width="1.6"/><text x="418" y="983" font-size="25" text-anchor="middle">0.5</text><line x1="86" y1="624" x2="100" y2="624" stroke="#333" stroke-width="1.6"/><text x="79.5" y="633" font-size="25" text-anchor="end">0.5</text><rect x="86" y="525.2" width="430.5" height="431.3" fill="none" stroke="#333" stroke-width="1.8"/><text x="30" y="539" font-size="31" font-weight="bold" stroke="#000" stroke-width="0.8">d</text><text transform="translate(34 741) rotate(-90)" text-anchor="middle" font-size="30"><tspan font-style="italic">k</tspan><tspan font-size="21" dy="6">y</tspan><tspan dy="-6">(1/&#197;)</tspan></text><line x1="301.7" y1="1065.5" x2="458.5" y2="1222" stroke="#b0b0b0" stroke-width="1.8" stroke-dasharray="9 8"/><line x1="458.5" y1="1222" x2="301.7" y2="1378.5" stroke="#b0b0b0" stroke-width="1.8" stroke-dasharray="9 8"/><line x1="301.7" y1="1378.5" x2="145.3" y2="1222" stroke="#b0b0b0" stroke-width="1.8" stroke-dasharray="9 8"/><line x1="145.3" y1="1222" x2="301.7" y2="1065.5" stroke="#b0b0b0" stroke-width="1.8" stroke-dasharray="9 8"/><path d="M169.6 1089.8 A34.4 34.4 0 0 0 169.6 1041.2" fill="none" stroke="#e01c34" stroke-width="2.2"/><path d="M121 1041.2 A34.4 34.4 0 0 0 121 1089.8" fill="none" stroke="#e01c34" stroke-width="2.2"/><path d="M169.6 1041.2 A34.4 34.4 0 0 0 121 1041.2" fill="none" stroke="#1f9a5a" stroke-width="2.2"/><path d="M121 1089.8 A34.4 34.4 0 0 0 169.6 1089.8" fill="none" stroke="#1f9a5a" stroke-width="2.2"/><path d="M158.9 1079.1 A19.3 19.3 0 0 0 158.9 1051.9" fill="none" stroke="#1f9a5a" stroke-width="2.2"/><path d="M131.7 1051.9 A19.3 19.3 0 0 0 131.7 1079.1" fill="none" stroke="#1f9a5a" stroke-width="2.2"/><path d="M158.9 1051.9 A19.3 19.3 0 0 0 131.7 1051.9" fill="none" stroke="#e01c34" stroke-width="2.2"/><path d="M131.7 1079.1 A19.3 19.3 0 0 0 158.9 1079.1" fill="none" stroke="#e01c34" stroke-width="2.2"/><path d="M285.3 1049.1 A30.6 19.5 0 0 1 318.1 1049.1" fill="none" stroke="#e01c34" stroke-width="2.2"/><path d="M318.1 1081.9 A30.6 19.5 0 0 1 285.3 1081.9" fill="none" stroke="#e01c34" stroke-width="2.2"/><path d="M318.1 1049.1 A30.6 19.5 0 0 1 318.1 1081.9" fill="none" stroke="#2a3a9c" stroke-width="2.2"/><path d="M285.3 1081.9 A30.6 19.5 0 0 1 285.3 1049.1" fill="none" stroke="#2a3a9c" stroke-width="2.2"/><path d="M285.3 1049.1 A19.5 30.6 0 0 1 318.1 1049.1" fill="none" stroke="#2a3a9c" stroke-width="2.2"/><path d="M318.1 1081.9 A19.5 30.6 0 0 1 285.3 1081.9" fill="none" stroke="#2a3a9c" stroke-width="2.2"/><path d="M318.1 1049.1 A19.5 30.6 0 0 1 318.1 1081.9" fill="none" stroke="#1f9a5a" stroke-width="2.2"/><path d="M285.3 1081.9 A19.5 30.6 0 0 1 285.3 1049.1" fill="none" stroke="#1f9a5a" stroke-width="2.2"/><path d="M482.8 1089.8 A34.4 34.4 0 0 0 482.8 1041.2" fill="none" stroke="#e01c34" stroke-width="2.2"/><path d="M434.2 1041.2 A34.4 34.4 0 0 0 434.2 1089.8" fill="none" stroke="#e01c34" stroke-width="2.2"/><path d="M482.8 1041.2 A34.4 34.4 0 0 0 434.2 1041.2" fill="none" stroke="#1f9a5a" stroke-width="2.2"/><path d="M434.2 1089.8 A34.4 34.4 0 0 0 482.8 1089.8" fill="none" stroke="#1f9a5a" stroke-width="2.2"/><path d="M472.1 1079.1 A19.3 19.3 0 0 0 472.1 1051.9" fill="none" stroke="#1f9a5a" stroke-width="2.2"/><path d="M444.9 1051.9 A19.3 19.3 0 0 0 444.9 1079.1" fill="none" stroke="#1f9a5a" stroke-width="2.2"/><path d="M472.1 1051.9 A19.3 19.3 0 0 0 444.9 1051.9" fill="none" stroke="#e01c34" stroke-width="2.2"/><path d="M444.9 1079.1 A19.3 19.3 0 0 0 472.1 1079.1" fill="none" stroke="#e01c34" stroke-width="2.2"/><path d="M128.9 1205.6 A30.6 19.5 0 0 1 161.7 1205.6" fill="none" stroke="#e01c34" stroke-width="2.2"/><path d="M161.7 1238.4 A30.6 19.5 0 0 1 128.9 1238.4" fill="none" stroke="#e01c34" stroke-width="2.2"/><path d="M161.7 1205.6 A30.6 19.5 0 0 1 161.7 1238.4" fill="none" stroke="#2a3a9c" stroke-width="2.2"/><path d="M128.9 1238.4 A30.6 19.5 0 0 1 128.9 1205.6" fill="none" stroke="#2a3a9c" stroke-width="2.2"/><path d="M128.9 1205.6 A19.5 30.6 0 0 1 161.7 1205.6" fill="none" stroke="#2a3a9c" stroke-width="2.2"/><path d="M161.7 1238.4 A19.5 30.6 0 0 1 128.9 1238.4" fill="none" stroke="#2a3a9c" stroke-width="2.2"/><path d="M161.7 1205.6 A19.5 30.6 0 0 1 161.7 1238.4" fill="none" stroke="#1f9a5a" stroke-width="2.2"/><path d="M128.9 1238.4 A19.5 30.6 0 0 1 128.9 1205.6" fill="none" stroke="#1f9a5a" stroke-width="2.2"/><path d="M326 1246.3 A34.4 34.4 0 0 0 326 1197.7" fill="none" stroke="#e01c34" stroke-width="2.2"/><path d="M277.4 1197.7 A34.4 34.4 0 0 0 277.4 1246.3" fill="none" stroke="#e01c34" stroke-width="2.2"/><path d="M326 1197.7 A34.4 34.4 0 0 0 277.4 1197.7" fill="none" stroke="#1f9a5a" stroke-width="2.2"/><path d="M277.4 1246.3 A34.4 34.4 0 0 0 326 1246.3" fill="none" stroke="#1f9a5a" stroke-width="2.2"/><path d="M315.3 1235.6 A19.3 19.3 0 0 0 315.3 1208.4" fill="none" stroke="#1f9a5a" stroke-width="2.2"/><path d="M288.1 1208.4 A19.3 19.3 0 0 0 288.1 1235.6" fill="none" stroke="#1f9a5a" stroke-width="2.2"/><path d="M315.3 1208.4 A19.3 19.3 0 0 0 288.1 1208.4" fill="none" stroke="#e01c34" stroke-width="2.2"/><path d="M288.1 1235.6 A19.3 19.3 0 0 0 315.3 1235.6" fill="none" stroke="#e01c34" stroke-width="2.2"/><path d="M442.1 1205.6 A30.6 19.5 0 0 1 474.9 1205.6" fill="none" stroke="#e01c34" stroke-width="2.2"/><path d="M474.9 1238.4 A30.6 19.5 0 0 1 442.1 1238.4" fill="none" stroke="#e01c34" stroke-width="2.2"/><path d="M474.9 1205.6 A30.6 19.5 0 0 1 474.9 1238.4" fill="none" stroke="#2a3a9c" stroke-width="2.2"/><path d="M442.1 1238.4 A30.6 19.5 0 0 1 442.1 1205.6" fill="none" stroke="#2a3a9c" stroke-width="2.2"/><path d="M442.1 1205.6 A19.5 30.6 0 0 1 474.9 1205.6" fill="none" stroke="#2a3a9c" stroke-width="2.2"/><path d="M474.9 1238.4 A19.5 30.6 0 0 1 442.1 1238.4" fill="none" stroke="#2a3a9c" stroke-width="2.2"/><path d="M474.9 1205.6 A19.5 30.6 0 0 1 474.9 1238.4" fill="none" stroke="#1f9a5a" stroke-width="2.2"/><path d="M442.1 1238.4 A19.5 30.6 0 0 1 442.1 1205.6" fill="none" stroke="#1f9a5a" stroke-width="2.2"/><path d="M169.6 1402.8 A34.4 34.4 0 0 0 169.6 1354.2" fill="none" stroke="#e01c34" stroke-width="2.2"/><path d="M121 1354.2 A34.4 34.4 0 0 0 121 1402.8" fill="none" stroke="#e01c34" stroke-width="2.2"/><path d="M169.6 1354.2 A34.4 34.4 0 0 0 121 1354.2" fill="none" stroke="#1f9a5a" stroke-width="2.2"/><path d="M121 1402.8 A34.4 34.4 0 0 0 169.6 1402.8" fill="none" stroke="#1f9a5a" stroke-width="2.2"/><path d="M158.9 1392.1 A19.3 19.3 0 0 0 158.9 1364.9" fill="none" stroke="#1f9a5a" stroke-width="2.2"/><path d="M131.7 1364.9 A19.3 19.3 0 0 0 131.7 1392.1" fill="none" stroke="#1f9a5a" stroke-width="2.2"/><path d="M158.9 1364.9 A19.3 19.3 0 0 0 131.7 1364.9" fill="none" stroke="#e01c34" stroke-width="2.2"/><path d="M131.7 1392.1 A19.3 19.3 0 0 0 158.9 1392.1" fill="none" stroke="#e01c34" stroke-width="2.2"/><path d="M285.3 1362.1 A30.6 19.5 0 0 1 318.1 1362.1" fill="none" stroke="#e01c34" stroke-width="2.2"/><path d="M318.1 1394.9 A30.6 19.5 0 0 1 285.3 1394.9" fill="none" stroke="#e01c34" stroke-width="2.2"/><path d="M318.1 1362.1 A30.6 19.5 0 0 1 318.1 1394.9" fill="none" stroke="#2a3a9c" stroke-width="2.2"/><path d="M285.3 1394.9 A30.6 19.5 0 0 1 285.3 1362.1" fill="none" stroke="#2a3a9c" stroke-width="2.2"/><path d="M285.3 1362.1 A19.5 30.6 0 0 1 318.1 1362.1" fill="none" stroke="#2a3a9c" stroke-width="2.2"/><path d="M318.1 1394.9 A19.5 30.6 0 0 1 285.3 1394.9" fill="none" stroke="#2a3a9c" stroke-width="2.2"/><path d="M318.1 1362.1 A19.5 30.6 0 0 1 318.1 1394.9" fill="none" stroke="#1f9a5a" stroke-width="2.2"/><path d="M285.3 1394.9 A19.5 30.6 0 0 1 285.3 1362.1" fill="none" stroke="#1f9a5a" stroke-width="2.2"/><path d="M482.8 1402.8 A34.4 34.4 0 0 0 482.8 1354.2" fill="none" stroke="#e01c34" stroke-width="2.2"/><path d="M434.2 1354.2 A34.4 34.4 0 0 0 434.2 1402.8" fill="none" stroke="#e01c34" stroke-width="2.2"/><path d="M482.8 1354.2 A34.4 34.4 0 0 0 434.2 1354.2" fill="none" stroke="#1f9a5a" stroke-width="2.2"/><path d="M434.2 1402.8 A34.4 34.4 0 0 0 482.8 1402.8" fill="none" stroke="#1f9a5a" stroke-width="2.2"/><path d="M472.1 1392.1 A19.3 19.3 0 0 0 472.1 1364.9" fill="none" stroke="#1f9a5a" stroke-width="2.2"/><path d="M444.9 1364.9 A19.3 19.3 0 0 0 444.9 1392.1" fill="none" stroke="#1f9a5a" stroke-width="2.2"/><path d="M472.1 1364.9 A19.3 19.3 0 0 0 444.9 1364.9" fill="none" stroke="#e01c34" stroke-width="2.2"/><path d="M444.9 1392.1 A19.3 19.3 0 0 0 472.1 1392.1" fill="none" stroke="#e01c34" stroke-width="2.2"/><circle cx="301.6" cy="1222.5" r="5.2" fill="#000"/><circle cx="458.5" cy="1222.3" r="5.2" fill="#000"/><text x="308" y="1251" font-size="30" fill="#e8192c" font-family="'Liberation Serif', 'Times New Roman', serif">&#915;</text><text x="462" y="1249" font-size="26" font-style="italic" fill="#e8192c">M</text><text x="103" y="1037" font-size="24">FeSe</text><rect x="88" y="1333" width="130" height="103" fill="#fff" fill-opacity="0.7"/><line x1="93" y1="1350.5" x2="135" y2="1350.5" stroke="#2a3a9c" stroke-width="2.2"/><text x="148.5" y="1359" font-size="25">Fe <tspan font-style="italic">d</tspan><tspan font-style="italic" font-size="17" dy="6">xy</tspan></text><line x1="93" y1="1384.8" x2="135" y2="1384.8" stroke="#e01c34" stroke-width="2.2"/><text x="148.5" y="1393.3" font-size="25">Fe <tspan font-style="italic">d</tspan><tspan font-style="italic" font-size="17" dy="6">xz</tspan></text><line x1="93" y1="1418.8" x2="135" y2="1418.8" stroke="#1f9a5a" stroke-width="2.2"/><text x="148.5" y="1427.3" font-size="25">Fe <tspan font-style="italic">d</tspan><tspan font-style="italic" font-size="17" dy="6">yz</tspan></text><rect x="86.5" y="1006.8" width="430.8" height="431.2" fill="none" stroke="#333" stroke-width="1.8"/><text x="30" y="1019" font-size="31" font-weight="bold" stroke="#000" stroke-width="0.8">e</text><text transform="translate(67 1222) rotate(-90)" text-anchor="middle" font-size="30"><tspan font-style="italic">k</tspan><tspan font-size="21" font-style="italic" dy="6">y</tspan><tspan dy="-6"> (1/&#197;)</tspan></text><text x="302" y="1499" text-anchor="middle" font-size="30"><tspan font-style="italic">k</tspan><tspan font-size="21" font-style="italic" dy="6">x</tspan><tspan dy="-6"> (1/&#197;)</tspan></text><line x1="676.5" y1="93.6" x2="691.5" y2="93.6" stroke="#333" stroke-width="1.6"/><text x="671.5" y="103.6" font-size="25" text-anchor="end">0</text><line x1="676.5" y1="144.9" x2="683.5" y2="144.9" stroke="#333" stroke-width="1.6"/><line x1="676.5" y1="196.3" x2="691.5" y2="196.3" stroke="#333" stroke-width="1.6"/><text x="671.5" y="206.3" font-size="25" text-anchor="end">-0.4</text><line x1="676.5" y1="247.6" x2="683.5" y2="247.6" stroke="#333" stroke-width="1.6"/><line x1="676.5" y1="299" x2="691.5" y2="299" stroke="#333" stroke-width="1.6"/><text x="671.5" y="309" font-size="25" text-anchor="end">-0.8</text><line x1="676.5" y1="350.3" x2="683.5" y2="350.3" stroke="#333" stroke-width="1.6"/><line x1="676.5" y1="401.6" x2="691.5" y2="401.6" stroke="#333" stroke-width="1.6"/><text x="671.5" y="411.6" font-size="25" text-anchor="end">-1.2</text><line x1="676.5" y1="453" x2="683.5" y2="453" stroke="#333" stroke-width="1.6"/><line x1="766" y1="473.5" x2="766" y2="458.5" stroke="#333" stroke-width="1.6"/><text x="766" y="503.5" font-size="25" text-anchor="middle">-0.5</text><line x1="876" y1="473.5" x2="876" y2="458.5" stroke="#333" stroke-width="1.6"/><text x="876" y="503.5" font-size="25" text-anchor="middle">0</text><line x1="986" y1="473.5" x2="986" y2="458.5" stroke="#333" stroke-width="1.6"/><text x="986" y="503.5" font-size="25" text-anchor="middle">0.5</text><rect x="676.5" y="42.5" width="399.1" height="431" fill="none" stroke="#333" stroke-width="1.8"/><line x1="676.5" y1="576.4" x2="691.5" y2="576.4" stroke="#333" stroke-width="1.6"/><text x="671.5" y="586.4" font-size="25" text-anchor="end">0</text><line x1="676.5" y1="627.7" x2="683.5" y2="627.7" stroke="#333" stroke-width="1.6"/><line x1="676.5" y1="679.1" x2="691.5" y2="679.1" stroke="#333" stroke-width="1.6"/><text x="671.5" y="689.1" font-size="25" text-anchor="end">-0.4</text><line x1="676.5" y1="730.4" x2="683.5" y2="730.4" stroke="#333" stroke-width="1.6"/><line x1="676.5" y1="781.8" x2="691.5" y2="781.8" stroke="#333" stroke-width="1.6"/><text x="671.5" y="791.8" font-size="25" text-anchor="end">-0.8</text><line x1="676.5" y1="833.1" x2="683.5" y2="833.1" stroke="#333" stroke-width="1.6"/><line x1="676.5" y1="884.4" x2="691.5" y2="884.4" stroke="#333" stroke-width="1.6"/><text x="671.5" y="894.4" font-size="25" text-anchor="end">-1.2</text><line x1="676.5" y1="935.8" x2="683.5" y2="935.8" stroke="#333" stroke-width="1.6"/><line x1="766" y1="956.2" x2="766" y2="941.2" stroke="#333" stroke-width="1.6"/><text x="766" y="986.2" font-size="25" text-anchor="middle">-0.5</text><line x1="876" y1="956.2" x2="876" y2="941.2" stroke="#333" stroke-width="1.6"/><text x="876" y="986.2" font-size="25" text-anchor="middle">0</text><line x1="986" y1="956.2" x2="986" y2="941.2" stroke="#333" stroke-width="1.6"/><text x="986" y="986.2" font-size="25" text-anchor="middle">0.5</text><rect x="676.5" y="525.2" width="399.1" height="431" fill="none" stroke="#333" stroke-width="1.8"/><line x1="676.5" y1="1058.8" x2="691.5" y2="1058.8" stroke="#333" stroke-width="1.6"/><text x="671.5" y="1068.8" font-size="25" text-anchor="end">0</text><line x1="676.5" y1="1110.1" x2="683.5" y2="1110.1" stroke="#333" stroke-width="1.6"/><line x1="676.5" y1="1161.5" x2="691.5" y2="1161.5" stroke="#333" stroke-width="1.6"/><text x="671.5" y="1171.5" font-size="25" text-anchor="end">-0.4</text><line x1="676.5" y1="1212.8" x2="683.5" y2="1212.8" stroke="#333" stroke-width="1.6"/><line x1="676.5" y1="1264.2" x2="691.5" y2="1264.2" stroke="#333" stroke-width="1.6"/><text x="671.5" y="1274.2" font-size="25" text-anchor="end">-0.8</text><line x1="676.5" y1="1315.5" x2="683.5" y2="1315.5" stroke="#333" stroke-width="1.6"/><line x1="676.5" y1="1366.8" x2="691.5" y2="1366.8" stroke="#333" stroke-width="1.6"/><text x="671.5" y="1376.8" font-size="25" text-anchor="end">-1.2</text><line x1="676.5" y1="1418.2" x2="683.5" y2="1418.2" stroke="#333" stroke-width="1.6"/><line x1="766" y1="1438.7" x2="766" y2="1423.7" stroke="#333" stroke-width="1.6"/><text x="766" y="1468.7" font-size="25" text-anchor="middle">-0.5</text><line x1="876" y1="1438.7" x2="876" y2="1423.7" stroke="#333" stroke-width="1.6"/><text x="876" y="1468.7" font-size="25" text-anchor="middle">0</text><line x1="986" y1="1438.7" x2="986" y2="1423.7" stroke="#333" stroke-width="1.6"/><text x="986" y="1468.7" font-size="25" text-anchor="middle">0.5</text><rect x="676.5" y="1007.7" width="399.1" height="431" fill="none" stroke="#333" stroke-width="1.8"/><line x1="1139.5" y1="93.6" x2="1154.5" y2="93.6" stroke="#333" stroke-width="1.6"/><text x="1134.5" y="103.6" font-size="25" text-anchor="end">0</text><line x1="1139.5" y1="144.9" x2="1146.5" y2="144.9" stroke="#333" stroke-width="1.6"/><line x1="1139.5" y1="196.3" x2="1154.5" y2="196.3" stroke="#333" stroke-width="1.6"/><text x="1134.5" y="206.3" font-size="25" text-anchor="end">-0.4</text><line x1="1139.5" y1="247.6" x2="1146.5" y2="247.6" stroke="#333" stroke-width="1.6"/><line x1="1139.5" y1="299" x2="1154.5" y2="299" stroke="#333" stroke-width="1.6"/><text x="1134.5" y="309" font-size="25" text-anchor="end">-0.8</text><line x1="1139.5" y1="350.3" x2="1146.5" y2="350.3" stroke="#333" stroke-width="1.6"/><line x1="1139.5" y1="401.6" x2="1154.5" y2="401.6" stroke="#333" stroke-width="1.6"/><text x="1134.5" y="411.6" font-size="25" text-anchor="end">-1.2</text><line x1="1139.5" y1="453" x2="1146.5" y2="453" stroke="#333" stroke-width="1.6"/><line x1="1184" y1="473.5" x2="1184" y2="458.5" stroke="#333" stroke-width="1.6"/><text x="1184" y="503.5" font-size="25" text-anchor="middle">0</text><line x1="1294.8" y1="473.5" x2="1294.8" y2="458.5" stroke="#333" stroke-width="1.6"/><text x="1294.8" y="503.5" font-size="25" text-anchor="middle">0.5</text><line x1="1405.6" y1="473.5" x2="1405.6" y2="458.5" stroke="#333" stroke-width="1.6"/><text x="1405.6" y="503.5" font-size="25" text-anchor="middle">1.0</text><line x1="1516.4" y1="473.5" x2="1516.4" y2="458.5" stroke="#333" stroke-width="1.6"/><text x="1516.4" y="503.5" font-size="25" text-anchor="middle">1.5</text><rect x="1139.5" y="42.5" width="399.4" height="431" fill="none" stroke="#333" stroke-width="1.8"/><line x1="1139.5" y1="576.4" x2="1154.5" y2="576.4" stroke="#333" stroke-width="1.6"/><text x="1134.5" y="586.4" font-size="25" text-anchor="end">0</text><line x1="1139.5" y1="627.7" x2="1146.5" y2="627.7" stroke="#333" stroke-width="1.6"/><line x1="1139.5" y1="679.1" x2="1154.5" y2="679.1" stroke="#333" stroke-width="1.6"/><text x="1134.5" y="689.1" font-size="25" text-anchor="end">-0.4</text><line x1="1139.5" y1="730.4" x2="1146.5" y2="730.4" stroke="#333" stroke-width="1.6"/><line x1="1139.5" y1="781.8" x2="1154.5" y2="781.8" stroke="#333" stroke-width="1.6"/><text x="1134.5" y="791.8" font-size="25" text-anchor="end">-0.8</text><line x1="1139.5" y1="833.1" x2="1146.5" y2="833.1" stroke="#333" stroke-width="1.6"/><line x1="1139.5" y1="884.4" x2="1154.5" y2="884.4" stroke="#333" stroke-width="1.6"/><text x="1134.5" y="894.4" font-size="25" text-anchor="end">-1.2</text><line x1="1139.5" y1="935.8" x2="1146.5" y2="935.8" stroke="#333" stroke-width="1.6"/><line x1="1184" y1="956.2" x2="1184" y2="941.2" stroke="#333" stroke-width="1.6"/><text x="1184" y="986.2" font-size="25" text-anchor="middle">0</text><line x1="1294.8" y1="956.2" x2="1294.8" y2="941.2" stroke="#333" stroke-width="1.6"/><text x="1294.8" y="986.2" font-size="25" text-anchor="middle">0.5</text><line x1="1405.6" y1="956.2" x2="1405.6" y2="941.2" stroke="#333" stroke-width="1.6"/><text x="1405.6" y="986.2" font-size="25" text-anchor="middle">1.0</text><line x1="1516.4" y1="956.2" x2="1516.4" y2="941.2" stroke="#333" stroke-width="1.6"/><text x="1516.4" y="986.2" font-size="25" text-anchor="middle">1.5</text><rect x="1139.5" y="525.2" width="399.4" height="431" fill="none" stroke="#333" stroke-width="1.8"/><line x1="1139.5" y1="1058.8" x2="1154.5" y2="1058.8" stroke="#333" stroke-width="1.6"/><text x="1134.5" y="1068.8" font-size="25" text-anchor="end">0</text><line x1="1139.5" y1="1110.1" x2="1146.5" y2="1110.1" stroke="#333" stroke-width="1.6"/><line x1="1139.5" y1="1161.5" x2="1154.5" y2="1161.5" stroke="#333" stroke-width="1.6"/><text x="1134.5" y="1171.5" font-size="25" text-anchor="end">-0.4</text><line x1="1139.5" y1="1212.8" x2="1146.5" y2="1212.8" stroke="#333" stroke-width="1.6"/><line x1="1139.5" y1="1264.2" x2="1154.5" y2="1264.2" stroke="#333" stroke-width="1.6"/><text x="1134.5" y="1274.2" font-size="25" text-anchor="end">-0.8</text><line x1="1139.5" y1="1315.5" x2="1146.5" y2="1315.5" stroke="#333" stroke-width="1.6"/><line x1="1139.5" y1="1366.8" x2="1154.5" y2="1366.8" stroke="#333" stroke-width="1.6"/><text x="1134.5" y="1376.8" font-size="25" text-anchor="end">-1.2</text><line x1="1139.5" y1="1418.2" x2="1146.5" y2="1418.2" stroke="#333" stroke-width="1.6"/><line x1="1184" y1="1438.7" x2="1184" y2="1423.7" stroke="#333" stroke-width="1.6"/><text x="1184" y="1468.7" font-size="25" text-anchor="middle">0</text><line x1="1294.8" y1="1438.7" x2="1294.8" y2="1423.7" stroke="#333" stroke-width="1.6"/><text x="1294.8" y="1468.7" font-size="25" text-anchor="middle">0.5</text><line x1="1405.6" y1="1438.7" x2="1405.6" y2="1423.7" stroke="#333" stroke-width="1.6"/><text x="1405.6" y="1468.7" font-size="25" text-anchor="middle">1.0</text><line x1="1516.4" y1="1438.7" x2="1516.4" y2="1423.7" stroke="#333" stroke-width="1.6"/><text x="1516.4" y="1468.7" font-size="25" text-anchor="middle">1.5</text><rect x="1139.5" y="1007.7" width="399.4" height="431" fill="none" stroke="#333" stroke-width="1.8"/><text x="609" y="35" font-size="31" font-weight="bold" stroke="#000" stroke-width="0.8">b</text><text x="1098" y="35" font-size="31" font-weight="bold" stroke="#000" stroke-width="0.8">c</text><text x="722" y="35" font-size="29" font-style="italic">M</text><line x1="731" y1="7.5" x2="746" y2="7.5" stroke="#000" stroke-width="2.2"/><text x="864" y="35" font-size="29" font-family="'Liberation Serif', 'Times New Roman', serif">&#915;</text><line x1="866" y1="7.5" x2="883" y2="7.5" stroke="#000" stroke-width="2.2"/><text x="1002" y="35" font-size="29" font-style="italic">M</text><line x1="1011" y1="7.5" x2="1026" y2="7.5" stroke="#000" stroke-width="2.2"/><text x="1173" y="35" font-size="29" font-family="'Liberation Serif', 'Times New Roman', serif">&#915;</text><line x1="1174" y1="7.5" x2="1191" y2="7.5" stroke="#000" stroke-width="2.2"/><text x="1335" y="35" font-size="29" font-style="italic">K</text><line x1="1341" y1="7.5" x2="1355" y2="7.5" stroke="#000" stroke-width="2.2"/><text x="1416" y="35" font-size="29" font-style="italic">M</text><line x1="1425" y1="7.5" x2="1440" y2="7.5" stroke="#000" stroke-width="2.2"/><text x="1501" y="35" font-size="29" font-style="italic">K</text><line x1="1507" y1="7.5" x2="1521" y2="7.5" stroke="#000" stroke-width="2.2"/><text x="683" y="76" font-size="30" letter-spacing="0.8">(i)</text><text x="1147" y="76" font-size="30" letter-spacing="0.8">(i)</text><text x="683" y="558.7" font-size="30" letter-spacing="0.8">(ii)</text><text x="1147" y="558.7" font-size="30" letter-spacing="0.8">(ii)</text><text x="683" y="1041.2" font-size="30" letter-spacing="0.8">(iii)</text><text x="1147" y="1041.2" font-size="30" letter-spacing="0.8">(iii)</text><text x="1060" y="450.5" font-size="25" text-anchor="end" font-style="italic">C</text><text x="1524" y="450.5" font-size="25" text-anchor="end" font-style="italic">C</text><text x="1060" y="933.2" font-size="25" text-anchor="end" font-style="italic">LH</text><text x="1524" y="933.2" font-size="25" text-anchor="end" font-style="italic">LH</text><text x="1060" y="1415.7" font-size="25" text-anchor="end" font-style="italic">LV</text><text x="1524" y="1415.7" font-size="25" text-anchor="end" font-style="italic">LV</text><line x1="692" y1="93.8" x2="1075" y2="93.8" stroke="#e8192c" stroke-width="1.8" stroke-dasharray="8 7.6"/><text x="684" y="127" font-size="30" fill="#e8192c" font-style="italic">E<tspan font-size="21" font-style="normal" dy="6">0</tspan></text><circle cx="802.5" cy="153.5" r="23.5" fill="none" stroke="#22a060" stroke-width="2.2" stroke-dasharray="5.5 4.5"/><circle cx="948.7" cy="153.5" r="23.5" fill="none" stroke="#22a060" stroke-width="2.2" stroke-dasharray="5.5 4.5"/><text x="767" y="71" font-size="28" fill="#e8192c" font-family="'Liberation Serif', 'Times New Roman', serif">&#948;</text><line x1="762.3" y1="64.5" x2="756.3" y2="80.1" stroke="#e8192c" stroke-width="2.4"/><path d="M753.5 87.6 L752.5 77.6 L760.9 80.8 Z" fill="#e8192c"/><text x="801" y="71" font-size="28" fill="#e8192c" font-family="'Liberation Serif', 'Times New Roman', serif">&#946;</text><line x1="796" y1="65" x2="790.2" y2="80.1" stroke="#e8192c" stroke-width="2.4"/><path d="M787.3 87.6 L786.3 77.6 L794.7 80.8 Z" fill="#e8192c"/><text x="877" y="70" font-size="28" fill="#e8192c" font-family="'Liberation Serif', 'Times New Roman', serif">&#945;</text><line x1="900" y1="65" x2="906.6" y2="79.2" stroke="#e8192c" stroke-width="2.4"/><path d="M909.9 86.5 L902 80.2 L910.2 76.4 Z" fill="#e8192c"/><text x="953" y="71" font-size="28" fill="#e8192c" font-family="'Liberation Serif', 'Times New Roman', serif">&#947;</text><line x1="971.6" y1="65" x2="978.1" y2="79.2" stroke="#e8192c" stroke-width="2.4"/><path d="M981.4 86.5 L973.6 80.2 L981.8 76.4 Z" fill="#e8192c"/><text x="1183" y="70" font-size="28" fill="#e8192c" font-family="'Liberation Serif', 'Times New Roman', serif">&#945;</text><line x1="1205" y1="65" x2="1211.6" y2="79.2" stroke="#e8192c" stroke-width="2.4"/><path d="M1214.9 86.5 L1207 80.2 L1215.2 76.4 Z" fill="#e8192c"/><text x="1232" y="71" font-size="28" fill="#e8192c" font-family="'Liberation Serif', 'Times New Roman', serif">&#946;</text><line x1="1253.9" y1="65" x2="1259.2" y2="79" stroke="#e8192c" stroke-width="2.4"/><path d="M1262 86.5 L1254.6 79.7 L1263 76.5 Z" fill="#e8192c"/><text x="1281" y="71" font-size="28" fill="#e8192c" font-family="'Liberation Serif', 'Times New Roman', serif">&#947;</text><line x1="1301" y1="65" x2="1306.2" y2="79" stroke="#e8192c" stroke-width="2.4"/><path d="M1309 86.5 L1301.6 79.6 L1310.1 76.5 Z" fill="#e8192c"/><text x="1405" y="136" font-size="28" fill="#e8192c" font-family="'Liberation Serif', 'Times New Roman', serif">&#948;</text><line x1="1424.5" y1="118.6" x2="1416.2" y2="107.2" stroke="#e8192c" stroke-width="2.4"/><path d="M1411.5 100.7 L1420.4 105.3 L1413.1 110.6 Z" fill="#e8192c"/><text x="1298" y="612" font-size="24" fill="#e8192c" font-family="'Liberation Serif', 'Times New Roman', serif">&#947;</text><text x="805" y="1034" font-size="28" fill="#e8192c" font-family="'Liberation Serif', 'Times New Roman', serif">&#946;</text><line x1="796" y1="1029" x2="790.5" y2="1043.5" stroke="#e8192c" stroke-width="2.4"/><path d="M787.6 1051 L786.6 1041 L795 1044.2 Z" fill="#e8192c"/><text x="958" y="1034" font-size="28" fill="#e8192c" font-family="'Liberation Serif', 'Times New Roman', serif">&#947;</text><line x1="972" y1="1029" x2="977.8" y2="1043.6" stroke="#e8192c" stroke-width="2.4"/><path d="M980.7 1051 L973.2 1044.3 L981.6 1041 Z" fill="#e8192c"/><text x="1231" y="1034" font-size="28" fill="#e8192c" font-family="'Liberation Serif', 'Times New Roman', serif">&#946;</text><line x1="1251" y1="1026" x2="1256.8" y2="1039.6" stroke="#e8192c" stroke-width="2.4"/><path d="M1260 1047 L1252.3 1040.5 L1260.6 1037 Z" fill="#e8192c"/><text transform="translate(606.5 257.6) rotate(-90)" text-anchor="middle" font-size="30"><tspan font-style="italic">E</tspan> - <tspan font-style="italic">E</tspan><tspan font-size="19" dy="6">F</tspan><tspan dy="-6"> (eV)</tspan></text><text transform="translate(606.5 740.4) rotate(-90)" text-anchor="middle" font-size="30"><tspan font-style="italic">E</tspan> - <tspan font-style="italic">E</tspan><tspan font-size="19" dy="6">F</tspan><tspan dy="-6"> (eV)</tspan></text><text transform="translate(606.5 1222.8) rotate(-90)" text-anchor="middle" font-size="30"><tspan font-style="italic">E</tspan> - <tspan font-style="italic">E</tspan><tspan font-size="19" dy="6">F</tspan><tspan dy="-6"> (eV)</tspan></text><text x="876" y="1499" text-anchor="middle" font-size="30"><tspan font-style="italic">k</tspan><tspan font-size="21" font-style="italic" dy="6">x</tspan><tspan dy="-6"> (1/&#197;)</tspan></text><text x="1340" y="1499" text-anchor="middle" font-size="30"><tspan font-style="italic">k</tspan><tspan font-size="21" font-style="italic" dy="6">y</tspan><tspan dy="-6"> (1/&#197;)</tspan></text><linearGradient id="cbBlue" x1="0" y1="0" x2="0" y2="1"><stop offset="0" stop-color="#000010"/><stop offset="0.28" stop-color="#000090"/><stop offset="0.5" stop-color="#0000ff"/><stop offset="0.75" stop-color="#8080ff"/><stop offset="1" stop-color="#ffffff"/></linearGradient><rect x="1562.5" y="1289.5" width="18.3" height="125" fill="url(#cbBlue)" stroke="#555" stroke-width="1.2"/><text x="1571.5" y="1278" font-size="22" text-anchor="middle">High</text><text x="1571.5" y="1434" font-size="22" text-anchor="middle">Low</text></svg></body></html>
